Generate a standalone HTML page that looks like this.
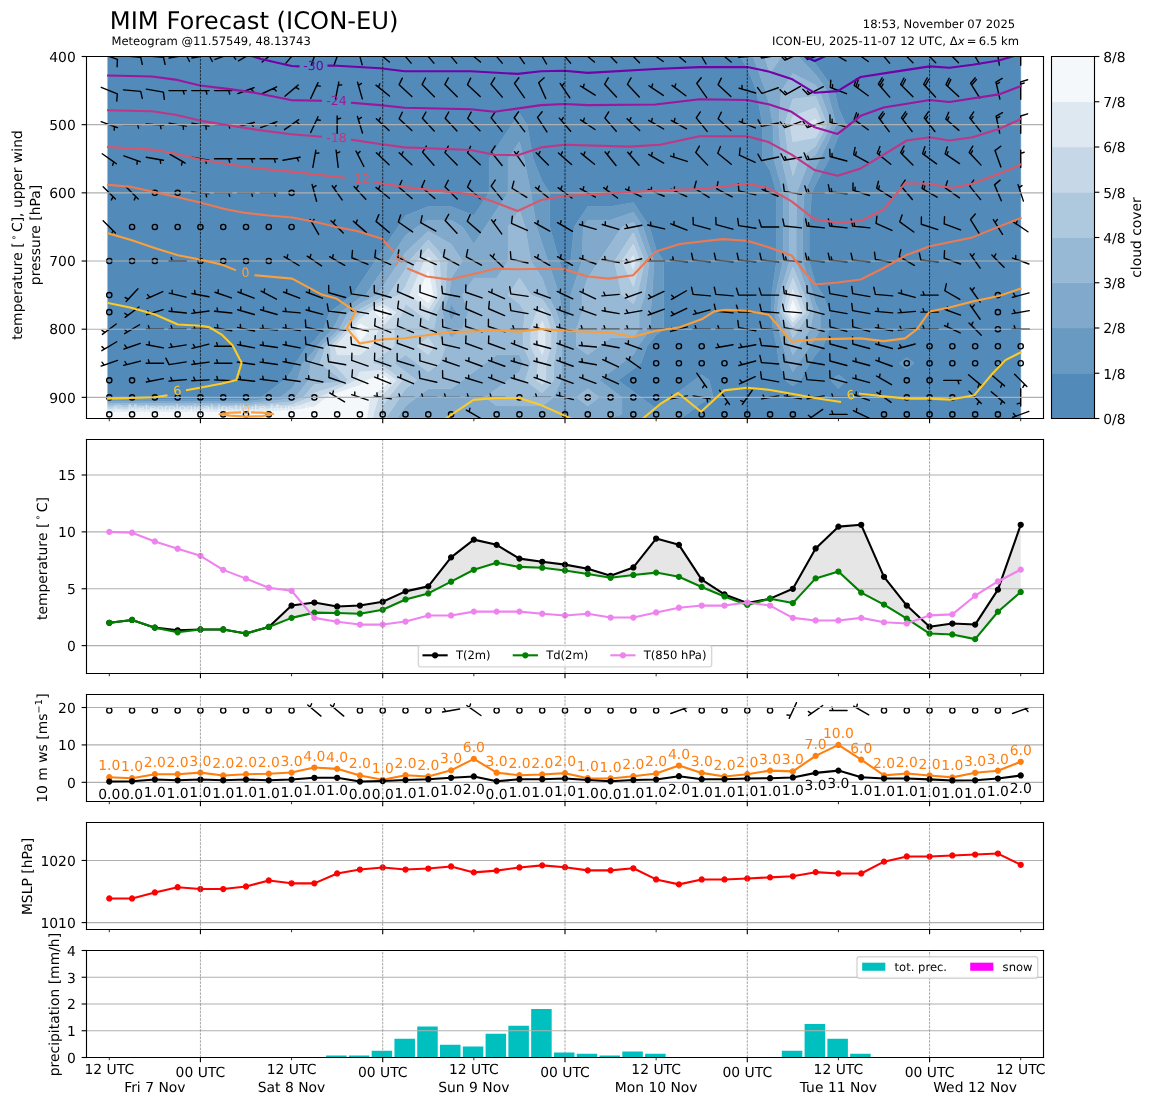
<!DOCTYPE html>
<html><head><meta charset="utf-8"><title>MIM Forecast (ICON-EU)</title><style>html,body{margin:0;padding:0;background:#fff;overflow:hidden}svg{display:block;text-rendering:geometricPrecision;-webkit-font-smoothing:antialiased;will-change:transform}</style></head><body>
<svg width="1155" height="1105" viewBox="0 0 831.6 795.6" version="1.1"><defs><style type="text/css">*{stroke-linejoin: round; stroke-linecap: butt}</style></defs><g id="figure_1"><g id="patch_1"><path d="M0 795.6L831.6 795.6L831.6 0L0 0z" style="fill: #ffffff"/></g><g id="axes_1"><g id="patch_2"><path d="M62.28 301.32L751.32 301.32L751.32 40.68L62.28 40.68z" style="fill: #ffffff"/></g><g id="QuadContourSet_1"><path d="M95.09 16.14L111.5 16.14L127.9 16.14L144.31 16.14L160.71 16.14L177.12 16.14L193.53 16.14L209.93 16.14L226.34 16.14L242.74 16.14L259.15 16.14L275.55 16.14L291.96 16.14L308.37 16.14L324.77 16.14L341.18 16.14L357.58 16.14L373.99 16.14L390.39 16.14L406.8 16.14L423.21 16.14L439.61 16.14L456.02 16.14L472.42 16.14L488.83 16.14L505.23 16.14L521.64 16.14L528.2 16.14L532.58 40.68L538.05 48.86L544.61 65.22L548.98 89.76L548.98 114.31L554.45 122.49L559.14 138.85L559.14 163.39L559.14 187.93L555.56 212.48L555.31 224.75L556.5 237.02L559.14 249.29L561.01 261.56L565.39 273.83L570.86 277.92L576.33 273.83L583.16 261.56L587.26 255.43L592.73 249.29L597.11 237.02L597.11 224.75L592.73 212.48L587.26 204.3L582.58 187.93L582.58 163.39L584.53 138.85L587.26 132.71L597.11 114.31L603.67 97.95L609.14 89.76L603.67 77.49L600.93 65.22L587.26 46.05L582.04 40.68L582.58 16.14L587.26 16.14L603.67 16.14L620.07 16.14L636.48 16.14L652.89 16.14L669.29 16.14L685.7 16.14L702.1 16.14L718.51 16.14L734.91 16.14L734.91 40.68L734.91 65.22L734.91 89.76L734.91 114.31L734.91 138.85L734.91 163.39L734.91 187.93L734.91 212.48L734.91 224.75L734.91 237.02L734.91 249.29L734.91 261.56L734.91 273.83L734.91 286.1L734.91 298.37L734.91 310.65L718.51 310.65L702.1 310.65L685.7 310.65L669.29 310.65L652.89 310.65L636.48 310.65L620.07 310.65L603.67 310.65L587.26 310.65L570.86 310.65L554.45 310.65L538.05 310.65L521.64 310.65L505.23 310.65L488.83 310.65L472.42 310.65L456.02 310.65L439.61 310.65L423.21 310.65L406.8 310.65L390.39 310.65L373.99 310.65L357.58 310.65L341.18 310.65L324.77 310.65L308.37 310.65L291.96 310.65L287.27 310.65L291.96 305.74L308.37 305.74L324.77 305.74L341.18 305.74L357.58 305.74L373.99 305.74L390.39 305.74L406.8 305.74L423.21 305.74L439.61 305.74L456.02 302.47L472.42 302.47L488.83 302.47L494.3 298.37L505.23 290.19L513.44 286.1L510.7 273.83L505.23 269.74L499.77 273.83L488.83 282.01L483.36 286.1L472.42 294.28L461.49 286.1L456.02 282.01L445.08 273.83L456.02 265.65L461.49 261.56L465.86 249.29L472.42 241.11L477.89 237.02L477.89 224.75L477.89 212.48L477.89 187.93L472.42 179.75L467.74 163.39L456.02 145.86L439.61 148.67L423.21 148.67L413.36 163.39L410.9 187.93L406.8 200.21L402.7 187.93L395.86 163.39L395.86 138.85L390.39 130.67L383.83 114.31L379.46 89.76L373.99 81.58L368.52 89.76L357.58 106.13L352.11 114.31L352.11 138.85L341.18 155.21L324.77 148.67L308.37 148.67L291.96 155.21L286.49 163.39L275.55 179.75L270.09 187.93L259.15 204.3L253.68 212.48L242.74 220.66L237.27 224.75L232.9 237.02L226.34 245.2L220.87 249.29L212.67 261.56L209.93 267.7L204.46 273.83L193.53 282.01L188.06 286.1L177.12 287.6L160.71 287.6L144.31 287.6L127.9 287.6L111.5 287.6L95.09 287.6L77.59 287.6L77.59 286.1L77.59 273.83L77.59 261.56L77.59 249.29L77.59 237.02L77.59 224.75L77.59 212.48L77.59 187.93L77.59 163.39L77.59 138.85L77.59 114.31L77.59 89.76L77.59 65.22L77.59 40.68L77.59 16.14z M647.42 261.56L652.89 265.65L658.35 261.56L652.89 257.47z M598.2 273.83L603.67 279.97L609.14 273.83L603.67 269.74z" clip-path="url(#p9851077e19)" style="fill: #528ab9; stroke: #528ab9; stroke-width: 0.4"/><path d="M538.05 28.41L542.15 40.68L551.17 65.22L554.45 77.49L556.5 89.76L557.19 114.31L563.83 138.85L563.83 163.39L563.83 187.93L558.34 212.48L557.47 224.75L560.6 237.02L563.83 249.29L567.58 261.56L570.86 267.7L574.96 261.56L583.16 249.29L587.26 243.15L590.54 237.02L590.54 224.75L587.26 218.61L585.62 212.48L577.89 187.93L577.89 163.39L579.06 138.85L587.26 120.44L590.54 114.31L602.03 89.76L595.47 65.22L587.26 53.72L574.59 40.68L577.89 16.14L582.58 16.14L582.04 40.68L587.26 46.05L600.93 65.22L603.67 77.49L609.14 89.76L603.67 97.95L597.11 114.31L587.26 132.71L584.53 138.85L582.58 163.39L582.58 187.93L587.26 204.3L592.73 212.48L597.11 224.75L597.11 237.02L592.73 249.29L587.26 255.43L583.16 261.56L576.33 273.83L570.86 277.92L565.39 273.83L561.01 261.56L559.14 249.29L556.5 237.02L555.31 224.75L555.56 212.48L559.14 187.93L559.14 163.39L559.14 138.85L554.45 122.49L548.98 114.31L548.98 89.76L544.61 65.22L538.05 48.86L532.58 40.68L528.2 16.14L534.76 16.14z M373.99 81.58L379.46 89.76L383.83 114.31L390.39 130.67L395.86 138.85L395.86 163.39L402.7 187.93L406.8 200.21L410.9 187.93L413.36 163.39L423.21 148.67L439.61 148.67L456.02 145.86L467.74 163.39L472.42 179.75L477.89 187.93L477.89 212.48L477.89 224.75L477.89 237.02L472.42 241.11L465.86 249.29L461.49 261.56L456.02 265.65L445.08 273.83L456.02 282.01L461.49 286.1L472.42 294.28L483.36 286.1L488.83 282.01L499.77 273.83L505.23 269.74L510.7 273.83L513.44 286.1L505.23 290.19L494.3 298.37L488.83 302.47L472.42 302.47L456.02 302.47L439.61 305.74L423.21 305.74L406.8 305.74L390.39 305.74L373.99 305.74L357.58 305.74L341.18 305.74L324.77 305.74L308.37 305.74L291.96 305.74L287.27 310.65L282.59 310.65L291.96 300.83L308.37 300.83L324.77 300.83L341.18 300.83L357.58 300.83L373.99 300.83L390.39 300.83L406.8 300.83L423.21 300.83L439.61 300.83L447.81 298.37L447.81 286.1L439.61 279.97L431.41 273.83L439.61 267.7L447.81 261.56L456.02 255.43L459.3 249.29L468.32 237.02L468.32 224.75L469.69 212.48L470.78 187.93L463.05 163.39L456.02 152.87L439.61 158.48L423.21 158.48L419.92 163.39L419.1 187.93L410.9 212.48L410.9 224.75L406.8 230.88L404.75 224.75L402.7 212.48L394.5 187.93L390.39 175.66L386.29 163.39L382.19 138.85L377.27 114.31L373.99 102.04L365.79 114.31L365.79 138.85L357.58 151.12L349.38 163.39L341.18 175.66L332.97 163.39L324.77 158.48L308.37 158.48L300.16 163.39L291.96 169.53L279.66 187.93L275.55 194.07L263.25 212.48L259.15 214.52L245.48 224.75L242.74 230.88L239.46 237.02L227.98 249.29L226.34 252.36L218.13 261.56L214.03 273.83L209.93 279.97L201.73 286.1L193.53 287.02L177.12 289.1L160.71 289.1L144.31 289.1L127.9 289.1L111.5 289.1L95.09 289.1L77.59 289.1L77.59 287.6L95.09 287.6L111.5 287.6L127.9 287.6L144.31 287.6L160.71 287.6L177.12 287.6L188.06 286.1L193.53 282.01L204.46 273.83L209.93 267.7L212.67 261.56L220.87 249.29L226.34 245.2L232.9 237.02L237.27 224.75L242.74 220.66L253.68 212.48L259.15 204.3L270.09 187.93L275.55 179.75L286.49 163.39L291.96 155.21L308.37 148.67L324.77 148.67L341.18 155.21L352.11 138.85L352.11 114.31L357.58 106.13L368.52 89.76z M324.77 218.61L328.87 224.75L324.77 230.88L322.72 224.75z M652.89 257.47L658.35 261.56L652.89 265.65L647.42 261.56z M603.67 269.74L609.14 273.83L603.67 279.97L598.2 273.83z" clip-path="url(#p9851077e19)" style="fill: #699ac2; stroke: #699ac2; stroke-width: 0.4"/><path d="M538.05 16.14L542.15 16.14L550.35 40.68L554.45 52.95L562.65 40.68L570.86 28.41L573.2 16.14L577.89 16.14L574.59 40.68L587.26 53.72L595.47 65.22L602.03 89.76L590.54 114.31L587.26 120.44L579.06 138.85L577.89 163.39L577.89 187.93L585.62 212.48L587.26 218.61L590.54 224.75L590.54 237.02L587.26 243.15L583.16 249.29L574.96 261.56L570.86 267.7L567.58 261.56L563.83 249.29L560.6 237.02L557.47 224.75L558.34 212.48L563.83 187.93L563.83 163.39L563.83 138.85L557.19 114.31L556.5 89.76L554.45 77.49L551.17 65.22L542.15 40.68L538.05 28.41L534.76 16.14z M562.65 65.22L560.6 89.76L562.65 114.31L568.51 138.85L568.51 163.39L568.51 187.93L561.12 212.48L559.63 224.75L564.71 237.02L568.51 249.29L570.86 255.43L574.96 249.29L583.16 237.02L585.82 224.75L582.34 212.48L573.2 187.93L573.2 163.39L573.59 138.85L583.16 114.31L587.26 111.24L598.75 89.76L590 65.22L587.26 61.39L570.86 52.95z M373.99 102.04L377.27 114.31L382.19 138.85L386.29 163.39L390.39 175.66L394.5 187.93L402.7 212.48L404.75 224.75L406.8 230.88L410.9 224.75L410.9 212.48L419.1 187.93L419.92 163.39L423.21 158.48L439.61 158.48L456.02 152.87L463.05 163.39L470.78 187.93L469.69 212.48L468.32 224.75L468.32 237.02L459.3 249.29L456.02 255.43L447.81 261.56L439.61 267.7L431.41 273.83L439.61 279.97L447.81 286.1L447.81 298.37L439.61 300.83L423.21 300.83L406.8 300.83L390.39 300.83L373.99 300.83L357.58 300.83L341.18 300.83L324.77 300.83L308.37 300.83L291.96 300.83L282.59 310.65L277.9 310.65L287.86 298.37L291.96 292.24L300.16 286.1L308.37 279.97L324.77 279.97L332.97 273.83L341.18 267.7L349.38 261.56L357.58 255.43L373.99 255.43L376.72 261.56L373.99 267.7L365.79 273.83L357.58 279.97L349.38 286.1L357.58 292.24L373.99 292.24L390.39 292.24L398.6 286.1L404.07 273.83L404.07 261.56L404.75 249.29L404.75 237.02L400.65 224.75L394.5 212.48L390.39 200.21L382.19 187.93L378.09 163.39L373.99 151.12L365.79 163.39L365.79 187.93L357.58 200.21L341.18 200.21L332.97 212.48L337.08 224.75L332.97 237.02L324.77 243.15L320.67 237.02L318.62 224.75L323.33 212.48L324.77 200.21L332.97 187.93L324.77 175.66L308.37 166.46L291.96 181.8L287.86 187.93L275.55 206.34L271.45 212.48L259.15 218.61L250.95 224.75L244.18 237.02L242.74 238.55L231.26 249.29L226.34 258.49L223.6 261.56L222.24 273.83L212.67 286.1L209.93 287.18L193.53 288.85L177.12 290.59L160.71 290.59L144.31 290.59L127.9 290.59L111.5 290.59L95.09 290.59L77.59 290.59L77.59 289.1L95.09 289.1L111.5 289.1L127.9 289.1L144.31 289.1L160.71 289.1L177.12 289.1L193.53 287.02L201.73 286.1L209.93 279.97L214.03 273.83L218.13 261.56L226.34 252.36L227.98 249.29L239.46 237.02L242.74 230.88L245.48 224.75L259.15 214.52L263.25 212.48L275.55 194.07L279.66 187.93L291.96 169.53L300.16 163.39L308.37 158.48L324.77 158.48L332.97 163.39L341.18 175.66L349.38 163.39L357.58 151.12L365.79 138.85L365.79 114.31z M447.81 163.39L439.61 175.66L431.41 187.93L423.21 200.21L419.1 212.48L419.1 224.75L415 237.02L415 249.29L423.21 255.43L431.41 249.29L439.61 243.15L456.02 243.15L460.12 237.02L460.12 224.75L464.22 212.48L467.5 187.93L458.36 163.39L456.02 159.89z M322.72 224.75L324.77 230.88L328.87 224.75L324.77 218.61z M415 286.1L423.21 292.24L431.41 286.1L423.21 279.97z" clip-path="url(#p9851077e19)" style="fill: #80a9cc; stroke: #80a9cc; stroke-width: 0.4"/><path d="M554.45 28.41L562.65 16.14L570.86 16.14L573.2 16.14L570.86 28.41L562.65 40.68L554.45 52.95L550.35 40.68L542.15 16.14L550.35 16.14z M570.86 52.95L587.26 61.39L590 65.22L598.75 89.76L587.26 111.24L583.16 114.31L573.59 138.85L573.2 163.39L573.2 187.93L582.34 212.48L585.82 224.75L583.16 237.02L574.96 249.29L570.86 255.43L568.51 249.29L564.71 237.02L559.63 224.75L561.12 212.48L568.51 187.93L568.51 163.39L568.51 138.85L562.65 114.31L560.6 89.76L562.65 65.22z M564.71 89.76L568.12 114.31L570.86 126.58L574.96 114.31L587.26 105.1L595.47 89.76L587.26 69.31L570.86 71.36z M563.91 212.48L561.79 224.75L568.81 237.02L570.86 243.15L574.96 237.02L582.95 224.75L579.06 212.48L570.86 192.02z M373.99 151.12L378.09 163.39L382.19 187.93L390.39 200.21L394.5 212.48L400.65 224.75L404.75 237.02L404.75 249.29L404.07 261.56L404.07 273.83L398.6 286.1L390.39 292.24L373.99 292.24L357.58 292.24L349.38 286.1L357.58 279.97L365.79 273.83L373.99 267.7L376.72 261.56L373.99 255.43L357.58 255.43L349.38 261.56L341.18 267.7L332.97 273.83L324.77 279.97L308.37 279.97L300.16 286.1L291.96 292.24L287.86 298.37L277.9 310.65L275.55 310.65L273.81 310.65L275.55 304.51L279.66 298.37L287.86 286.1L291.96 279.97L300.16 273.83L291.96 267.7L283.76 261.56L291.96 255.43L300.16 261.56L308.37 267.7L316.57 261.56L320.67 249.29L312.47 237.02L314.52 224.75L320.45 212.48L322.04 187.93L308.37 172.6L294.69 187.93L291.96 194.07L279.66 212.48L275.55 213.78L259.15 222.7L256.41 224.75L247.06 237.02L242.74 241.62L234.54 249.29L230.44 261.56L242.74 270.76L245.48 273.83L242.74 275.14L226.34 276.9L218.13 286.1L209.93 289.33L193.53 290.68L177.12 292.09L160.71 292.09L144.31 292.09L127.9 292.09L111.5 292.09L95.09 292.09L77.59 292.09L77.59 290.59L95.09 290.59L111.5 290.59L127.9 290.59L144.31 290.59L160.71 290.59L177.12 290.59L193.53 288.85L209.93 287.18L212.67 286.1L222.24 273.83L223.6 261.56L226.34 258.49L231.26 249.29L242.74 238.55L244.18 237.02L250.95 224.75L259.15 218.61L271.45 212.48L275.55 206.34L287.86 187.93L291.96 181.8L308.37 166.46L324.77 175.66L332.97 187.93L324.77 200.21L323.33 212.48L318.62 224.75L320.67 237.02L324.77 243.15L332.97 237.02L337.08 224.75L332.97 212.48L341.18 200.21L357.58 200.21L365.79 187.93L365.79 163.39z M365.79 212.48L373.99 218.61L378.09 224.75L376.72 237.02L376.72 249.29L382.19 261.56L378.09 273.83L390.39 283.04L398.6 273.83L398.6 261.56L400.65 249.29L400.65 237.02L396.55 224.75L390.39 215.54L382.19 212.48L373.99 200.21z M456.02 159.89L458.36 163.39L467.5 187.93L464.22 212.48L460.12 224.75L460.12 237.02L456.02 243.15L439.61 243.15L431.41 249.29L423.21 255.43L415 249.29L415 237.02L419.1 224.75L419.1 212.48L423.21 200.21L431.41 187.93L439.61 175.66L447.81 163.39z M442.35 187.93L447.81 212.48L456.02 218.61L458.75 212.48L464.22 187.93L456.02 167.48z M423.21 279.97L431.41 286.1L423.21 292.24L415 286.1z" clip-path="url(#p9851077e19)" style="fill: #97b9d5; stroke: #97b9d5; stroke-width: 0.4"/><path d="M554.45 16.14L562.65 16.14L554.45 28.41L550.35 16.14z M570.86 71.36L587.26 69.31L595.47 89.76L587.26 105.1L574.96 114.31L570.86 126.58L568.12 114.31L564.71 89.76z M568.81 89.76L570.86 102.04L587.26 98.97L592.18 89.76L587.26 77.49L570.86 83.63z M308.37 172.6L322.04 187.93L320.45 212.48L314.52 224.75L312.47 237.02L320.67 249.29L316.57 261.56L308.37 267.7L300.16 261.56L291.96 255.43L283.76 261.56L291.96 267.7L300.16 273.83L291.96 279.97L287.86 286.1L279.66 298.37L275.55 304.51L273.81 310.65L270.32 310.65L273.34 298.37L275.55 292.24L279.66 286.1L289.74 273.83L275.55 263.22L267.35 261.56L275.55 255.43L283.76 249.29L283.76 237.02L289.74 224.75L291.96 218.61L300.16 224.75L308.37 230.88L310.42 224.75L317.58 212.48L316.57 187.93L308.37 178.73L300.16 187.93L291.96 206.34L287.86 212.48L275.55 216.39L261.37 224.75L259.15 226.41L249.94 237.02L242.74 244.69L237.82 249.29L238.64 261.56L242.74 264.63L250.95 273.83L242.74 277.75L226.34 283.04L223.6 286.1L209.93 291.49L193.53 292.51L177.12 293.59L160.71 293.59L144.31 293.59L127.9 293.59L111.5 293.59L95.09 293.59L77.59 293.59L77.59 292.09L95.09 292.09L111.5 292.09L127.9 292.09L144.31 292.09L160.71 292.09L177.12 292.09L193.53 290.68L209.93 289.33L218.13 286.1L226.34 276.9L242.74 275.14L245.48 273.83L242.74 270.76L230.44 261.56L234.54 249.29L242.74 241.62L247.06 237.02L256.41 224.75L259.15 222.7L275.55 213.78L279.66 212.48L291.96 194.07L294.69 187.93z M300.16 249.29L308.37 255.43L312.47 249.29L308.37 243.15z M456.02 167.48L464.22 187.93L458.75 212.48L456.02 218.61L447.81 212.48L442.35 187.93z M447.81 187.93L456.02 206.34L460.94 187.93L456.02 175.66z M373.99 200.21L382.19 212.48L390.39 215.54L396.55 224.75L400.65 237.02L400.65 249.29L398.6 261.56L398.6 273.83L390.39 283.04L378.09 273.83L382.19 261.56L376.72 249.29L376.72 237.02L378.09 224.75L373.99 218.61L365.79 212.48z M386.29 224.75L382.19 237.02L382.19 249.29L387.66 261.56L386.29 273.83L390.39 276.9L393.13 273.83L393.13 261.56L396.55 249.29L396.55 237.02L392.44 224.75L390.39 221.68z M570.86 192.02L579.06 212.48L582.95 224.75L574.96 237.02L570.86 243.15L568.81 237.02L561.79 224.75L563.91 212.48z M566.69 212.48L563.95 224.75L570.86 235.36L580.07 224.75L575.78 212.48L570.86 200.21z" clip-path="url(#p9851077e19)" style="fill: #aec9de; stroke: #aec9de; stroke-width: 0.4"/><path d="M570.86 83.63L587.26 77.49L592.18 89.76L587.26 98.97L570.86 102.04L568.81 89.76z M579.06 89.76L587.26 92.83L588.9 89.76L587.26 85.67z M308.37 178.73L316.57 187.93L317.58 212.48L310.42 224.75L308.37 230.88L300.16 224.75L291.96 218.61L289.74 224.75L283.76 237.02L283.76 249.29L275.55 255.43L267.35 261.56L275.55 263.22L289.74 273.83L279.66 286.1L275.55 292.24L273.34 298.37L270.32 310.65L266.83 310.65L268.9 298.37L272.52 286.1L275.55 283.83L285.31 273.83L275.55 266.54L259.15 267.7L256.41 273.83L242.74 280.36L229.38 286.1L226.34 288.38L209.93 293.64L193.53 294.35L177.12 295.08L160.71 295.08L144.31 295.08L127.9 295.08L111.5 295.08L95.09 295.08L77.59 295.08L77.59 293.59L95.09 293.59L111.5 293.59L127.9 293.59L144.31 293.59L160.71 293.59L177.12 293.59L193.53 292.51L209.93 291.49L223.6 286.1L226.34 283.04L242.74 277.75L250.95 273.83L242.74 264.63L238.64 261.56L237.82 249.29L242.74 244.69L249.94 237.02L259.15 226.41L261.37 224.75L275.55 216.39L287.86 212.48L291.96 206.34L300.16 187.93z M305.63 187.93L295 212.48L308.37 222.48L314.7 212.48L311.1 187.93L308.37 184.87z M265.8 224.75L259.15 229.72L252.82 237.02L242.74 247.76L241.1 249.29L242.74 255.43L259.15 255.43L267.35 249.29L272.52 237.02L275.55 234.75L285.31 224.75L275.55 219z M456.02 175.66L460.94 187.93L456.02 206.34L447.81 187.93z M453.28 187.93L456.02 194.07L457.66 187.93L456.02 183.84z M570.86 200.21L575.78 212.48L580.07 224.75L570.86 235.36L563.95 224.75L566.69 212.48z M569.47 212.48L566.11 224.75L570.86 232.04L577.19 224.75L572.5 212.48L570.86 208.39z M390.39 221.68L392.44 224.75L396.55 237.02L396.55 249.29L393.13 261.56L393.13 273.83L390.39 276.9L386.29 273.83L387.66 261.56L382.19 249.29L382.19 237.02L386.29 224.75z M387.66 237.02L387.66 249.29L390.39 255.43L392.44 249.29L392.44 237.02L390.39 230.88z M308.37 243.15L312.47 249.29L308.37 255.43L300.16 249.29z" clip-path="url(#p9851077e19)" style="fill: #c6d8e8; stroke: #c6d8e8; stroke-width: 0.4"/><path d="M587.26 85.67L588.9 89.76L587.26 92.83L579.06 89.76z M308.37 184.87L311.1 187.93L314.7 212.48L308.37 222.48L295 212.48L305.63 187.93z M301.07 212.48L308.37 217.93L311.82 212.48L308.37 195.15z M456.02 183.84L457.66 187.93L456.02 194.07L453.28 187.93z M570.86 208.39L572.5 212.48L577.19 224.75L570.86 232.04L566.11 224.75L569.47 212.48z M568.27 224.75L570.86 228.73L574.31 224.75L570.86 216.09z M275.55 219L285.31 224.75L275.55 234.75L272.52 237.02L267.35 249.29L259.15 255.43L242.74 255.43L241.1 249.29L242.74 247.76L252.82 237.02L259.15 229.72L265.8 224.75z M270.23 224.75L275.55 230.2L280.88 224.75L275.55 221.61z M255.69 237.02L259.15 245.68L266.44 237.02L259.15 233.04z M390.39 230.88L392.44 237.02L392.44 249.29L390.39 255.43L387.66 249.29L387.66 237.02z M259.15 267.7L275.55 266.54L285.31 273.83L275.55 283.83L272.52 286.1L268.9 298.37L266.83 310.65L263.34 310.65L264.47 298.37L266.44 286.1L275.55 279.29L280.88 273.83L275.55 269.85L263.97 273.83L259.15 277.44L242.74 282.97L235.45 286.1L226.34 292.92L209.93 295.79L193.53 296.18L177.12 296.58L160.71 296.58L144.31 296.58L127.9 296.58L111.5 296.58L95.09 296.58L77.59 296.58L77.59 295.08L95.09 295.08L111.5 295.08L127.9 295.08L144.31 295.08L160.71 295.08L177.12 295.08L193.53 294.35L209.93 293.64L226.34 288.38L229.38 286.1L242.74 280.36L256.41 273.83z" clip-path="url(#p9851077e19)" style="fill: #dde8f1; stroke: #dde8f1; stroke-width: 0.4"/><path d="M308.37 195.15L311.82 212.48L308.37 217.93L301.07 212.48z M275.55 221.61L280.88 224.75L275.55 230.2L270.23 224.75z M570.86 216.09L574.31 224.75L570.86 228.73L568.27 224.75z M259.15 233.04L266.44 237.02L259.15 245.68L255.69 237.02z M275.55 269.85L280.88 273.83L275.55 279.29L266.44 286.1L264.47 298.37L263.34 310.65L259.15 310.65L242.74 310.65L226.34 310.65L209.93 310.65L193.53 310.65L177.12 310.65L160.71 310.65L144.31 310.65L127.9 310.65L111.5 310.65L95.09 310.65L77.59 310.65L77.59 298.37L77.59 296.58L95.09 296.58L111.5 296.58L127.9 296.58L144.31 296.58L160.71 296.58L177.12 296.58L193.53 296.18L209.93 295.79L226.34 292.92L235.45 286.1L242.74 282.97L259.15 277.44L263.97 273.83z" clip-path="url(#p9851077e19)" style="fill: #f4f8fb; stroke: #f4f8fb; stroke-width: 0.4"/></g><g id="QuadContourSet_2"><path d="M1177.87 40.68L1177.87 41.17L1172.4 41.17L1172.4 40.68z" clip-path="url(#p9851077e19)" style="fill: #528ab9"/><path clip-path="url(#p9851077e19)" style="fill: #699ac2"/><path clip-path="url(#p9851077e19)" style="fill: #80a9cc"/><path clip-path="url(#p9851077e19)" style="fill: #97b9d5"/><path clip-path="url(#p9851077e19)" style="fill: #aec9de"/><path clip-path="url(#p9851077e19)" style="fill: #c6d8e8"/><path clip-path="url(#p9851077e19)" style="fill: #dde8f1"/><path clip-path="url(#p9851077e19)" style="fill: #f4f8fb"/></g><g id="Barbs_1"><circle cx="78.69" cy="16.14" r="1.88" fill="none" clip-path="url(#p9851077e19)" style="stroke: #000000"/><path d="M72.81 38.54L84.56 42.82L84.32 48.05L84.56 42.82z" clip-path="url(#p9851077e19)" style="stroke: #000000"/><path d="M72.89 62.88L84.48 67.56L84.06 72.78L84.48 67.56z" clip-path="url(#p9851077e19)" style="stroke: #000000"/><path d="M72.81 87.63L84.56 91.9L82.36 91.1L82.24 93.72L82.36 91.1z" clip-path="url(#p9851077e19)" style="stroke: #000000"/><path d="M73.57 110.72L83.81 117.89L81.89 116.55L81.09 119.04L81.89 116.55z" clip-path="url(#p9851077e19)" style="stroke: #000000"/><path d="M74.27 134.43L83.11 143.27L81.45 141.61L80.23 143.93L81.45 141.61z" clip-path="url(#p9851077e19)" style="stroke: #000000"/><path d="M74.27 158.97L83.11 167.81L81.45 166.15L80.23 168.47L81.45 166.15z" clip-path="url(#p9851077e19)" style="stroke: #000000"/><circle cx="78.69" cy="187.94" r="1.88" fill="none" clip-path="url(#p9851077e19)" style="stroke: #000000"/><circle cx="78.69" cy="212.47" r="1.88" fill="none" clip-path="url(#p9851077e19)" style="stroke: #000000"/><circle cx="78.69" cy="224.75" r="1.88" fill="none" clip-path="url(#p9851077e19)" style="stroke: #000000"/><path d="M83.68 233.26L73.69 240.78L75.57 239.37L73.44 237.84L75.57 239.37z" clip-path="url(#p9851077e19)" style="stroke: #000000"/><path d="M84.04 246.07L73.33 252.51L75.34 251.3L73.38 249.56L75.34 251.3z" clip-path="url(#p9851077e19)" style="stroke: #000000"/><path d="M84.6 259.53L72.78 263.6L74.99 262.83L73.44 260.72L74.99 262.83z" clip-path="url(#p9851077e19)" style="stroke: #000000"/><circle cx="78.69" cy="273.83" r="1.88" fill="none" clip-path="url(#p9851077e19)" style="stroke: #000000"/><circle cx="78.69" cy="286.11" r="1.88" fill="none" clip-path="url(#p9851077e19)" style="stroke: #000000"/><circle cx="78.69" cy="298.38" r="1.88" fill="none" clip-path="url(#p9851077e19)" style="stroke: #000000"/><circle cx="78.69" cy="310.64" r="1.88" fill="none" clip-path="url(#p9851077e19)" style="stroke: #000000"/><circle cx="95.09" cy="16.14" r="1.88" fill="none" clip-path="url(#p9851077e19)" style="stroke: #000000"/><path d="M88.87 40.14L101.32 41.22L102.44 46.34L101.32 41.22z" clip-path="url(#p9851077e19)" style="stroke: #000000"/><path d="M88.87 64.68L101.32 65.77L102.44 70.88L101.32 65.77z" clip-path="url(#p9851077e19)" style="stroke: #000000"/><path d="M88.84 89.76L101.34 89.76L99 89.76L99.78 92.26L99 89.76z" clip-path="url(#p9851077e19)" style="stroke: #000000"/><path d="M89.22 112.17L100.96 116.44L98.76 115.64L98.64 118.26L98.76 115.64z" clip-path="url(#p9851077e19)" style="stroke: #000000"/><path d="M90.67 134.43L99.51 143.27L97.85 141.61L96.64 143.93L97.85 141.61z" clip-path="url(#p9851077e19)" style="stroke: #000000"/><circle cx="95.09" cy="163.40" r="1.88" fill="none" clip-path="url(#p9851077e19)" style="stroke: #000000"/><circle cx="95.09" cy="187.94" r="1.88" fill="none" clip-path="url(#p9851077e19)" style="stroke: #000000"/><path d="M99.35 207.91L90.83 217.05L92.43 215.33L90.07 214.2L92.43 215.33z" clip-path="url(#p9851077e19)" style="stroke: #000000"/><path d="M100.08 220.99L90.1 228.51L91.97 227.1L89.84 225.57L91.97 227.1z" clip-path="url(#p9851077e19)" style="stroke: #000000"/><path d="M100.45 233.8L89.73 240.24L91.74 239.03L89.79 237.29L91.74 239.03z" clip-path="url(#p9851077e19)" style="stroke: #000000"/><path d="M101 247.26L89.18 251.32L91.4 250.56L89.85 248.45L91.4 250.56z" clip-path="url(#p9851077e19)" style="stroke: #000000"/><path d="M101.16 260.05L89.03 263.07L91.3 262.51L89.94 260.27L91.3 262.51z" clip-path="url(#p9851077e19)" style="stroke: #000000"/><circle cx="95.09" cy="273.83" r="1.88" fill="none" clip-path="url(#p9851077e19)" style="stroke: #000000"/><circle cx="95.09" cy="286.11" r="1.88" fill="none" clip-path="url(#p9851077e19)" style="stroke: #000000"/><circle cx="95.09" cy="298.38" r="1.88" fill="none" clip-path="url(#p9851077e19)" style="stroke: #000000"/><circle cx="95.09" cy="310.64" r="1.88" fill="none" clip-path="url(#p9851077e19)" style="stroke: #000000"/><circle cx="111.50" cy="16.14" r="1.88" fill="none" clip-path="url(#p9851077e19)" style="stroke: #000000"/><path d="M105.27 40.14L117.72 41.22L118.84 46.34L117.72 41.22z" clip-path="url(#p9851077e19)" style="stroke: #000000"/><path d="M105.34 64.14L117.65 66.31L118.32 71.5L117.65 66.31z" clip-path="url(#p9851077e19)" style="stroke: #000000"/><path d="M105.27 89.22L117.72 90.31L115.39 90.11L115.95 92.66L115.39 90.11z" clip-path="url(#p9851077e19)" style="stroke: #000000"/><path d="M105.34 113.22L117.65 115.39L115.34 114.99L115.68 117.58L115.34 114.99z" clip-path="url(#p9851077e19)" style="stroke: #000000"/><circle cx="111.50" cy="138.84" r="1.88" fill="none" clip-path="url(#p9851077e19)" style="stroke: #000000"/><circle cx="111.50" cy="163.40" r="1.88" fill="none" clip-path="url(#p9851077e19)" style="stroke: #000000"/><circle cx="111.50" cy="187.94" r="1.88" fill="none" clip-path="url(#p9851077e19)" style="stroke: #000000"/><path d="M117.21 209.93L105.79 215.02L107.93 214.07L106.2 212.1L107.93 214.07z" clip-path="url(#p9851077e19)" style="stroke: #000000"/><path d="M117.47 222.92L105.52 226.58L107.76 225.89L106.28 223.73L107.76 225.89z" clip-path="url(#p9851077e19)" style="stroke: #000000"/><path d="M117.75 237.02L105.25 237.02L107.59 237.02L106.81 234.52L107.59 237.02z" clip-path="url(#p9851077e19)" style="stroke: #000000"/><path d="M117.63 250.48L105.36 248.1L107.66 248.54L107.37 245.94L107.66 248.54z" clip-path="url(#p9851077e19)" style="stroke: #000000"/><path d="M117.75 261.56L105.25 261.56L107.59 261.56L106.81 259.06L107.59 261.56z" clip-path="url(#p9851077e19)" style="stroke: #000000"/><path d="M117.63 272.64L105.36 275.03L107.66 274.58L106.42 272.27L107.66 274.58z" clip-path="url(#p9851077e19)" style="stroke: #000000"/><circle cx="111.50" cy="286.11" r="1.88" fill="none" clip-path="url(#p9851077e19)" style="stroke: #000000"/><circle cx="111.50" cy="298.38" r="1.88" fill="none" clip-path="url(#p9851077e19)" style="stroke: #000000"/><circle cx="111.50" cy="310.64" r="1.88" fill="none" clip-path="url(#p9851077e19)" style="stroke: #000000"/><circle cx="127.91" cy="16.14" r="1.88" fill="none" clip-path="url(#p9851077e19)" style="stroke: #000000"/><path d="M121.75 41.77L134.06 39.59L136.46 44.25L134.06 39.59z" clip-path="url(#p9851077e19)" style="stroke: #000000"/><path d="M121.65 65.22L134.15 65.22L131.81 65.22L132.59 67.72L131.81 65.22z" clip-path="url(#p9851077e19)" style="stroke: #000000"/><path d="M121.75 88.68L134.06 90.85L131.75 90.44L132.09 93.04L131.75 90.44z" clip-path="url(#p9851077e19)" style="stroke: #000000"/><path d="M122.49 111.18L133.32 117.43L131.29 116.26L130.71 118.82L131.29 116.26z" clip-path="url(#p9851077e19)" style="stroke: #000000"/><circle cx="127.91" cy="138.84" r="1.88" fill="none" clip-path="url(#p9851077e19)" style="stroke: #000000"/><circle cx="127.91" cy="163.40" r="1.88" fill="none" clip-path="url(#p9851077e19)" style="stroke: #000000"/><path d="M134.15 187.93L121.65 187.93L124 187.93L123.22 185.43L124 187.93z" clip-path="url(#p9851077e19)" style="stroke: #000000"/><path d="M133.99 213.88L121.81 211.07L124.1 211.6L123.9 208.99L124.1 211.6z" clip-path="url(#p9851077e19)" style="stroke: #000000"/><path d="M134.12 225.4L121.69 224.09L124.02 224.34L123.5 221.77L124.02 224.34z" clip-path="url(#p9851077e19)" style="stroke: #000000"/><path d="M134.15 237.02L121.65 237.02L124 237.02L123.22 234.52L124 237.02z" clip-path="url(#p9851077e19)" style="stroke: #000000"/><path d="M134.08 248.31L121.73 250.27L124.04 249.9L122.88 247.55L124.04 249.9z" clip-path="url(#p9851077e19)" style="stroke: #000000"/><path d="M134.08 260.58L121.73 262.54L119.4 257.85L121.73 262.54z" clip-path="url(#p9851077e19)" style="stroke: #000000"/><path d="M134.13 273.29L121.68 274.38L124.01 274.17L123.02 271.75L124.01 274.17z" clip-path="url(#p9851077e19)" style="stroke: #000000"/><circle cx="127.91" cy="286.11" r="1.88" fill="none" clip-path="url(#p9851077e19)" style="stroke: #000000"/><circle cx="127.91" cy="298.38" r="1.88" fill="none" clip-path="url(#p9851077e19)" style="stroke: #000000"/><circle cx="127.91" cy="310.64" r="1.88" fill="none" clip-path="url(#p9851077e19)" style="stroke: #000000"/><circle cx="144.31" cy="16.14" r="1.88" fill="none" clip-path="url(#p9851077e19)" style="stroke: #000000"/><path d="M138.15 41.77L150.46 39.59L152.87 44.25L150.46 39.59z" clip-path="url(#p9851077e19)" style="stroke: #000000"/><path d="M138.06 65.22L150.56 65.22L148.21 65.22L149 67.72L148.21 65.22z" clip-path="url(#p9851077e19)" style="stroke: #000000"/><path d="M138.15 88.68L150.46 90.85L148.16 90.44L148.49 93.04L148.16 90.44z" clip-path="url(#p9851077e19)" style="stroke: #000000"/><path d="M138.15 113.22L150.46 115.39L148.16 114.99L148.49 117.58L148.16 114.99z" clip-path="url(#p9851077e19)" style="stroke: #000000"/><path d="M138.08 138.3L150.53 139.39L148.2 139.19L148.76 141.75L148.2 139.19z" clip-path="url(#p9851077e19)" style="stroke: #000000"/><circle cx="144.31" cy="163.40" r="1.88" fill="none" clip-path="url(#p9851077e19)" style="stroke: #000000"/><circle cx="144.31" cy="187.94" r="1.88" fill="none" clip-path="url(#p9851077e19)" style="stroke: #000000"/><path d="M150.44 213.67L138.17 211.28L140.47 211.73L140.18 209.13L140.47 211.73z" clip-path="url(#p9851077e19)" style="stroke: #000000"/><path d="M150.5 223.88L138.12 225.62L140.44 225.29L139.32 222.92L140.44 225.29z" clip-path="url(#p9851077e19)" style="stroke: #000000"/><path d="M150.56 237.02L138.06 237.02L140.4 237.02L139.62 234.52L140.4 237.02z" clip-path="url(#p9851077e19)" style="stroke: #000000"/><path d="M150.37 247.78L138.24 250.8L140.52 250.24L139.16 248L140.52 250.24z" clip-path="url(#p9851077e19)" style="stroke: #000000"/><path d="M150.5 260.69L138.12 262.43L140.44 262.11L139.32 259.74L140.44 262.11z" clip-path="url(#p9851077e19)" style="stroke: #000000"/><path d="M150.55 273.51L138.07 274.16L140.41 274.04L139.5 271.58L140.41 274.04z" clip-path="url(#p9851077e19)" style="stroke: #000000"/><circle cx="144.31" cy="286.11" r="1.88" fill="none" clip-path="url(#p9851077e19)" style="stroke: #000000"/><circle cx="144.31" cy="298.38" r="1.88" fill="none" clip-path="url(#p9851077e19)" style="stroke: #000000"/><circle cx="144.31" cy="310.64" r="1.88" fill="none" clip-path="url(#p9851077e19)" style="stroke: #000000"/><circle cx="160.72" cy="16.14" r="1.88" fill="none" clip-path="url(#p9851077e19)" style="stroke: #000000"/><path d="M154.84 42.82L166.59 38.54L169.77 42.71L166.59 38.54z" clip-path="url(#p9851077e19)" style="stroke: #000000"/><path d="M154.46 65.22L166.96 65.22L164.62 65.22L165.4 67.72L164.62 65.22z" clip-path="url(#p9851077e19)" style="stroke: #000000"/><path d="M154.46 89.76L166.96 89.76L164.62 89.76L165.4 92.26L164.62 89.76z" clip-path="url(#p9851077e19)" style="stroke: #000000"/><path d="M154.46 114.31L166.96 114.31L164.62 114.31L165.4 116.81L164.62 114.31z" clip-path="url(#p9851077e19)" style="stroke: #000000"/><path d="M154.46 138.85L166.96 138.85L164.62 138.85L165.4 141.35L164.62 138.85z" clip-path="url(#p9851077e19)" style="stroke: #000000"/><circle cx="160.72" cy="163.40" r="1.88" fill="none" clip-path="url(#p9851077e19)" style="stroke: #000000"/><circle cx="160.72" cy="187.94" r="1.88" fill="none" clip-path="url(#p9851077e19)" style="stroke: #000000"/><path d="M166.62 214.51L154.8 210.44L157.02 211.2L157.1 208.59L157.02 211.2z" clip-path="url(#p9851077e19)" style="stroke: #000000"/><path d="M166.93 225.4L154.5 224.09L156.83 224.34L156.31 221.77L156.83 224.34z" clip-path="url(#p9851077e19)" style="stroke: #000000"/><path d="M166.87 238.1L154.56 235.93L156.87 236.34L156.53 233.74L156.87 236.34z" clip-path="url(#p9851077e19)" style="stroke: #000000"/><path d="M166.96 249.29L154.46 249.29L156.81 249.29L156.03 246.79L156.81 249.29z" clip-path="url(#p9851077e19)" style="stroke: #000000"/><path d="M166.96 261.56L154.46 261.56L156.81 261.56L156.03 259.06L156.81 261.56z" clip-path="url(#p9851077e19)" style="stroke: #000000"/><path d="M166.96 274.16L154.47 273.51L156.81 273.63L156.16 271.09L156.81 273.63z" clip-path="url(#p9851077e19)" style="stroke: #000000"/><circle cx="160.72" cy="286.11" r="1.88" fill="none" clip-path="url(#p9851077e19)" style="stroke: #000000"/><circle cx="160.72" cy="298.38" r="1.88" fill="none" clip-path="url(#p9851077e19)" style="stroke: #000000"/><circle cx="160.72" cy="310.64" r="1.88" fill="none" clip-path="url(#p9851077e19)" style="stroke: #000000"/><circle cx="177.12" cy="16.14" r="1.88" fill="none" clip-path="url(#p9851077e19)" style="stroke: #000000"/><path d="M171.71 43.8L182.53 37.55L186.39 41.1L182.53 37.55z" clip-path="url(#p9851077e19)" style="stroke: #000000"/><path d="M171.25 67.36L182.99 63.08L180.79 63.89L182.38 65.97L180.79 63.89z" clip-path="url(#p9851077e19)" style="stroke: #000000"/><path d="M171.08 91.38L183.16 88.15L180.89 88.75L182.29 90.97L180.89 88.75z" clip-path="url(#p9851077e19)" style="stroke: #000000"/><path d="M170.87 114.31L183.37 114.31L181.03 114.31L181.81 116.81L181.03 114.31z" clip-path="url(#p9851077e19)" style="stroke: #000000"/><path d="M170.87 138.85L183.37 138.85L181.03 138.85L181.81 141.35L181.03 138.85z" clip-path="url(#p9851077e19)" style="stroke: #000000"/><circle cx="177.12" cy="163.40" r="1.88" fill="none" clip-path="url(#p9851077e19)" style="stroke: #000000"/><circle cx="177.12" cy="187.94" r="1.88" fill="none" clip-path="url(#p9851077e19)" style="stroke: #000000"/><path d="M182.95 214.72L171.29 210.24L173.47 211.08L173.64 208.46L173.47 211.08z" clip-path="url(#p9851077e19)" style="stroke: #000000"/><path d="M183.13 226.47L171.11 223.03L173.37 223.67L173.3 221.05L173.37 223.67z" clip-path="url(#p9851077e19)" style="stroke: #000000"/><path d="M183.23 238.32L171.01 235.72L173.3 236.21L173.05 233.6L173.3 236.21z" clip-path="url(#p9851077e19)" style="stroke: #000000"/><path d="M183.26 250.48L170.98 248.1L173.29 248.54L173 245.94L173.29 248.54z" clip-path="url(#p9851077e19)" style="stroke: #000000"/><path d="M183.31 262.43L170.93 260.69L173.25 261.02L172.83 258.43L173.25 261.02z" clip-path="url(#p9851077e19)" style="stroke: #000000"/><path d="M183.34 274.49L170.9 273.18L173.24 273.42L172.72 270.86L173.24 273.42z" clip-path="url(#p9851077e19)" style="stroke: #000000"/><circle cx="177.12" cy="286.11" r="1.88" fill="none" clip-path="url(#p9851077e19)" style="stroke: #000000"/><circle cx="177.12" cy="298.38" r="1.88" fill="none" clip-path="url(#p9851077e19)" style="stroke: #000000"/><circle cx="177.12" cy="310.64" r="1.88" fill="none" clip-path="url(#p9851077e19)" style="stroke: #000000"/><circle cx="193.53" cy="16.14" r="1.88" fill="none" clip-path="url(#p9851077e19)" style="stroke: #000000"/><path d="M188.74 44.7L198.31 36.66L202.72 39.49L198.31 36.66z" clip-path="url(#p9851077e19)" style="stroke: #000000"/><path d="M187.86 67.86L199.19 62.58L197.07 63.57L198.83 65.51L197.07 63.57z" clip-path="url(#p9851077e19)" style="stroke: #000000"/><path d="M187.65 91.9L199.4 87.63L197.2 88.43L198.79 90.51L197.2 88.43z" clip-path="url(#p9851077e19)" style="stroke: #000000"/><path d="M187.28 114.31L199.78 114.31L197.43 114.31L198.21 116.81L197.43 114.31z" clip-path="url(#p9851077e19)" style="stroke: #000000"/><path d="M187.28 138.85L199.78 138.85L197.43 138.85L198.21 141.35L197.43 138.85z" clip-path="url(#p9851077e19)" style="stroke: #000000"/><circle cx="193.53" cy="163.40" r="1.88" fill="none" clip-path="url(#p9851077e19)" style="stroke: #000000"/><circle cx="193.53" cy="187.94" r="1.88" fill="none" clip-path="url(#p9851077e19)" style="stroke: #000000"/><path d="M199.04 215.41L188.01 209.54L190.08 210.64L190.56 208.07L190.08 210.64z" clip-path="url(#p9851077e19)" style="stroke: #000000"/><path d="M199.53 226.47L187.52 223.03L189.77 223.67L189.71 221.05L189.77 223.67z" clip-path="url(#p9851077e19)" style="stroke: #000000"/><path d="M199.75 237.56L187.3 236.47L189.63 236.68L189.07 234.12L189.63 236.68z" clip-path="url(#p9851077e19)" style="stroke: #000000"/><path d="M199.71 250.16L187.34 248.42L189.66 248.75L189.23 246.16L189.66 248.75z" clip-path="url(#p9851077e19)" style="stroke: #000000"/><path d="M199.71 262.43L187.34 260.69L189.66 261.02L189.23 258.43L189.66 261.02z" clip-path="url(#p9851077e19)" style="stroke: #000000"/><path d="M199.73 274.59L187.32 273.07L189.65 273.36L189.18 270.78L189.65 273.36z" clip-path="url(#p9851077e19)" style="stroke: #000000"/><circle cx="193.53" cy="286.11" r="1.88" fill="none" clip-path="url(#p9851077e19)" style="stroke: #000000"/><circle cx="193.53" cy="298.38" r="1.88" fill="none" clip-path="url(#p9851077e19)" style="stroke: #000000"/><circle cx="193.53" cy="310.64" r="1.88" fill="none" clip-path="url(#p9851077e19)" style="stroke: #000000"/><circle cx="209.94" cy="16.14" r="1.88" fill="none" clip-path="url(#p9851077e19)" style="stroke: #000000"/><path d="M205.91 45.47L213.95 35.89L218.78 37.91L213.95 35.89z" clip-path="url(#p9851077e19)" style="stroke: #000000"/><path d="M205.14 69.24L214.72 61.2L212.92 62.71L215.13 64.12L212.92 62.71z" clip-path="url(#p9851077e19)" style="stroke: #000000"/><path d="M204.81 93.35L215.05 86.18L213.13 87.52L215.21 89.12L213.13 87.52z" clip-path="url(#p9851077e19)" style="stroke: #000000"/><path d="M203.78 115.39L216.09 113.22L213.78 113.63L214.98 115.96L213.78 113.63z" clip-path="url(#p9851077e19)" style="stroke: #000000"/><circle cx="209.94" cy="138.84" r="1.88" fill="none" clip-path="url(#p9851077e19)" style="stroke: #000000"/><circle cx="209.94" cy="163.40" r="1.88" fill="none" clip-path="url(#p9851077e19)" style="stroke: #000000"/><path d="M215.29 191.15L204.57 184.72L206.58 185.92L207.2 183.38L206.58 185.92z" clip-path="url(#p9851077e19)" style="stroke: #000000"/><path d="M215.77 214.72L204.1 210.24L206.28 211.08L206.45 208.46L206.28 211.08z" clip-path="url(#p9851077e19)" style="stroke: #000000"/><path d="M216.16 225.29L203.71 224.2L206.04 224.41L205.48 221.85L206.04 224.41z" clip-path="url(#p9851077e19)" style="stroke: #000000"/><path d="M216.1 238L203.76 236.04L206.07 236.41L205.69 233.82L206.07 236.41z" clip-path="url(#p9851077e19)" style="stroke: #000000"/><path d="M216.07 250.48L203.8 248.1L206.1 248.54L205.81 245.94L206.1 248.54z" clip-path="url(#p9851077e19)" style="stroke: #000000"/><path d="M216.07 262.75L203.8 260.37L206.1 260.82L205.81 258.21L206.1 260.82z" clip-path="url(#p9851077e19)" style="stroke: #000000"/><path d="M216.12 274.7L203.74 272.96L206.06 273.29L205.64 270.7L206.06 273.29z" clip-path="url(#p9851077e19)" style="stroke: #000000"/><circle cx="209.94" cy="286.11" r="1.88" fill="none" clip-path="url(#p9851077e19)" style="stroke: #000000"/><circle cx="209.94" cy="298.38" r="1.88" fill="none" clip-path="url(#p9851077e19)" style="stroke: #000000"/><circle cx="209.94" cy="310.64" r="1.88" fill="none" clip-path="url(#p9851077e19)" style="stroke: #000000"/><circle cx="226.34" cy="16.14" r="1.88" fill="none" clip-path="url(#p9851077e19)" style="stroke: #000000"/><path d="M224.2 46.55L228.47 34.81L233.71 35.05L228.47 34.81z" clip-path="url(#p9851077e19)" style="stroke: #000000"/><path d="M223.7 70.89L228.98 59.56L227.99 61.68L230.58 62.03L227.99 61.68z" clip-path="url(#p9851077e19)" style="stroke: #000000"/><path d="M223.7 95.43L228.98 84.1L227.99 86.22L230.58 86.57L227.99 86.22z" clip-path="url(#p9851077e19)" style="stroke: #000000"/><path d="M225.25 120.46L227.42 108.15L227.02 110.46L229.61 110.12L227.02 110.46z" clip-path="url(#p9851077e19)" style="stroke: #000000"/><path d="M227.95 144.89L224.72 132.81L225.33 135.08L227.54 133.67L225.33 135.08z" clip-path="url(#p9851077e19)" style="stroke: #000000"/><path d="M229.46 168.8L223.21 157.98L224.38 160.01L226.16 158.08L224.38 160.01z" clip-path="url(#p9851077e19)" style="stroke: #000000"/><path d="M231.52 191.43L221.16 184.44L223.1 185.75L223.85 183.24L223.1 185.75z" clip-path="url(#p9851077e19)" style="stroke: #000000"/><path d="M232.17 214.72L220.5 210.24L222.69 211.08L222.86 208.46L222.69 211.08z" clip-path="url(#p9851077e19)" style="stroke: #000000"/><path d="M232.37 226.37L220.3 223.13L222.56 223.74L222.46 221.12L222.56 223.74z" clip-path="url(#p9851077e19)" style="stroke: #000000"/><path d="M232.43 238.42L220.25 235.61L219.85 230.39L220.25 235.61z" clip-path="url(#p9851077e19)" style="stroke: #000000"/><path d="M232.43 250.7L220.25 247.88L219.85 242.66L220.25 247.88z" clip-path="url(#p9851077e19)" style="stroke: #000000"/><path d="M232.35 263.28L220.33 259.84L220.21 254.6L220.33 259.84z" clip-path="url(#p9851077e19)" style="stroke: #000000"/><path d="M232.47 275.03L220.2 272.64L222.5 273.09L222.21 270.48L222.5 273.09z" clip-path="url(#p9851077e19)" style="stroke: #000000"/><circle cx="226.34" cy="286.11" r="1.88" fill="none" clip-path="url(#p9851077e19)" style="stroke: #000000"/><circle cx="226.34" cy="298.38" r="1.88" fill="none" clip-path="url(#p9851077e19)" style="stroke: #000000"/><circle cx="226.34" cy="310.64" r="1.88" fill="none" clip-path="url(#p9851077e19)" style="stroke: #000000"/><circle cx="242.75" cy="16.14" r="1.88" fill="none" clip-path="url(#p9851077e19)" style="stroke: #000000"/><path d="M240.61 46.55L244.88 34.81L250.11 35.05L244.88 34.81z" clip-path="url(#p9851077e19)" style="stroke: #000000"/><path d="M241.55 71.36L243.94 59.09L243.49 61.39L246.09 61.1L243.49 61.39z" clip-path="url(#p9851077e19)" style="stroke: #000000"/><path d="M242.74 96.01L242.74 83.51L242.74 85.86L245.24 85.08L242.74 85.86z" clip-path="url(#p9851077e19)" style="stroke: #000000"/><path d="M243.5 120.51L241.98 108.1L242.27 110.43L244.65 109.35L242.27 110.43z" clip-path="url(#p9851077e19)" style="stroke: #000000"/><path d="M246.33 143.97L239.16 133.73L240.5 135.65L242.1 133.58L240.5 135.65z" clip-path="url(#p9851077e19)" style="stroke: #000000"/><path d="M247.16 167.81L238.32 158.97L239.98 160.63L241.2 158.31L239.98 160.63z" clip-path="url(#p9851077e19)" style="stroke: #000000"/><path d="M248.16 191.06L237.33 184.81L239.36 185.98L239.93 183.43L239.36 185.98z" clip-path="url(#p9851077e19)" style="stroke: #000000"/><path d="M248.75 214.2L236.73 210.75L236.61 205.52L236.73 210.75z" clip-path="url(#p9851077e19)" style="stroke: #000000"/><path d="M248.95 225.51L236.54 223.99L235.6 218.83L236.54 223.99z" clip-path="url(#p9851077e19)" style="stroke: #000000"/><path d="M248.93 237.89L236.55 236.15L235.7 230.98L236.55 236.15z" clip-path="url(#p9851077e19)" style="stroke: #000000"/><path d="M248.93 250.16L236.55 248.42L235.7 243.25L236.55 248.42z" clip-path="url(#p9851077e19)" style="stroke: #000000"/><path d="M248.9 262.65L236.59 260.48L235.92 255.28L236.59 260.48z" clip-path="url(#p9851077e19)" style="stroke: #000000"/><path d="M248.65 275.87L236.83 271.8L236.98 266.56L236.83 271.8z" clip-path="url(#p9851077e19)" style="stroke: #000000"/><path d="M248.1 289.32L237.39 282.88L239.39 284.09L240.01 281.55L239.39 284.09z" clip-path="url(#p9851077e19)" style="stroke: #000000"/><circle cx="242.75" cy="298.38" r="1.88" fill="none" clip-path="url(#p9851077e19)" style="stroke: #000000"/><circle cx="242.75" cy="310.64" r="1.88" fill="none" clip-path="url(#p9851077e19)" style="stroke: #000000"/><circle cx="259.14" cy="16.14" r="1.88" fill="none" clip-path="url(#p9851077e19)" style="stroke: #000000"/><path d="M260.77 46.72L257.53 34.64L261.96 31.84L257.53 34.64z" clip-path="url(#p9851077e19)" style="stroke: #000000"/><path d="M260.87 71.23L257.43 59.21L258.07 61.47L260.26 60.03L258.07 61.47z" clip-path="url(#p9851077e19)" style="stroke: #000000"/><path d="M260.98 95.74L257.32 83.79L258.01 86.03L260.17 84.55L258.01 86.03z" clip-path="url(#p9851077e19)" style="stroke: #000000"/><path d="M261.99 119.88L256.31 108.74L257.38 110.83L259.25 109L257.38 110.83z" clip-path="url(#p9851077e19)" style="stroke: #000000"/><path d="M263.41 143.42L254.89 134.28L256.48 135.99L257.78 133.72L256.48 135.99z" clip-path="url(#p9851077e19)" style="stroke: #000000"/><path d="M263.87 167.49L254.43 159.29L256.2 160.83L257.25 158.43L256.2 160.83z" clip-path="url(#p9851077e19)" style="stroke: #000000"/><path d="M264.94 190.28L253.35 185.59L253.78 180.37L253.35 185.59z" clip-path="url(#p9851077e19)" style="stroke: #000000"/><path d="M265.34 213.35L252.96 211.61L252.11 206.44L252.96 211.61z" clip-path="url(#p9851077e19)" style="stroke: #000000"/><path d="M265.3 225.83L252.99 223.66L252.32 218.47L252.99 223.66z" clip-path="url(#p9851077e19)" style="stroke: #000000"/><path d="M265.24 238.42L253.06 235.61L252.66 230.39L253.06 235.61z" clip-path="url(#p9851077e19)" style="stroke: #000000"/><path d="M265.24 250.7L253.06 247.88L252.66 242.66L253.06 247.88z" clip-path="url(#p9851077e19)" style="stroke: #000000"/><path d="M265.06 263.6L253.24 259.53L253.39 254.29L253.24 259.53z" clip-path="url(#p9851077e19)" style="stroke: #000000"/><path d="M264.94 276.17L253.35 271.49L253.78 266.27L253.35 271.49z" clip-path="url(#p9851077e19)" style="stroke: #000000"/><path d="M265.09 288.04L253.2 284.17L255.43 284.9L255.46 282.28L255.43 284.9z" clip-path="url(#p9851077e19)" style="stroke: #000000"/><circle cx="259.14" cy="298.38" r="1.88" fill="none" clip-path="url(#p9851077e19)" style="stroke: #000000"/><circle cx="259.14" cy="310.64" r="1.88" fill="none" clip-path="url(#p9851077e19)" style="stroke: #000000"/><circle cx="275.56" cy="16.14" r="1.88" fill="none" clip-path="url(#p9851077e19)" style="stroke: #000000"/><path d="M280.34 44.7L270.77 36.66L272.78 31.83L270.77 36.66z" clip-path="url(#p9851077e19)" style="stroke: #000000"/><path d="M280.41 69.16L270.7 61.29L272.52 62.76L273.48 60.33L272.52 62.76z" clip-path="url(#p9851077e19)" style="stroke: #000000"/><path d="M280.13 94.03L270.98 85.5L272.7 87.1L273.83 84.74L272.7 87.1z" clip-path="url(#p9851077e19)" style="stroke: #000000"/><path d="M280.13 118.57L270.98 110.04L272.7 111.64L273.83 109.28L272.7 111.64z" clip-path="url(#p9851077e19)" style="stroke: #000000"/><path d="M280.41 142.78L270.7 134.92L272.52 136.39L273.48 133.96L272.52 136.39z" clip-path="url(#p9851077e19)" style="stroke: #000000"/><path d="M280.34 167.41L270.77 159.37L272.78 154.54L270.77 159.37z" clip-path="url(#p9851077e19)" style="stroke: #000000"/><path d="M281.26 190.48L269.84 185.39L270.45 180.19L269.84 185.39z" clip-path="url(#p9851077e19)" style="stroke: #000000"/><path d="M281.56 214.2L269.55 210.75L269.42 205.52L269.55 210.75z" clip-path="url(#p9851077e19)" style="stroke: #000000"/><path d="M281.56 226.47L269.55 223.03L269.42 217.79L269.55 223.03z" clip-path="url(#p9851077e19)" style="stroke: #000000"/><path d="M281.35 239.36L269.76 234.68L270.18 229.46L269.76 234.68z" clip-path="url(#p9851077e19)" style="stroke: #000000"/><path d="M281.35 251.63L269.76 246.95L270.18 241.73L269.76 246.95z" clip-path="url(#p9851077e19)" style="stroke: #000000"/><path d="M281.46 263.6L269.64 259.53L269.8 254.29L269.64 259.53z" clip-path="url(#p9851077e19)" style="stroke: #000000"/><path d="M281.35 276.17L269.76 271.49L271.93 272.37L272.14 269.76L271.93 272.37z" clip-path="url(#p9851077e19)" style="stroke: #000000"/><path d="M281.71 287.19L269.4 285.02L271.71 285.43L271.37 282.83L271.71 285.43z" clip-path="url(#p9851077e19)" style="stroke: #000000"/><circle cx="275.56" cy="298.38" r="1.88" fill="none" clip-path="url(#p9851077e19)" style="stroke: #000000"/><circle cx="275.56" cy="310.64" r="1.88" fill="none" clip-path="url(#p9851077e19)" style="stroke: #000000"/><circle cx="291.95" cy="16.14" r="1.88" fill="none" clip-path="url(#p9851077e19)" style="stroke: #000000"/><path d="M295.98 45.47L287.94 35.89L290.77 31.48L287.94 35.89z" clip-path="url(#p9851077e19)" style="stroke: #000000"/><path d="M296.53 69.48L287.39 60.96L289.66 56.24L287.39 60.96z" clip-path="url(#p9851077e19)" style="stroke: #000000"/><path d="M296.53 94.03L287.39 85.5L289.66 80.78L287.39 85.5z" clip-path="url(#p9851077e19)" style="stroke: #000000"/><path d="M296.53 118.57L287.39 110.04L289.1 111.64L290.24 109.28L289.1 111.64z" clip-path="url(#p9851077e19)" style="stroke: #000000"/><path d="M296.68 142.95L287.24 134.75L289.34 129.95L287.24 134.75z" clip-path="url(#p9851077e19)" style="stroke: #000000"/><path d="M297.08 166.98L286.84 159.81L288.43 154.82L286.84 159.81z" clip-path="url(#p9851077e19)" style="stroke: #000000"/><path d="M297.58 190.67L286.34 185.19L287.13 180.02L286.34 185.19z" clip-path="url(#p9851077e19)" style="stroke: #000000"/><path d="M297.71 214.92L286.21 210.03L286.72 204.82L286.21 210.03z" clip-path="url(#p9851077e19)" style="stroke: #000000"/><path d="M297.62 227.39L286.3 222.11L286.99 216.91L286.3 222.11z" clip-path="url(#p9851077e19)" style="stroke: #000000"/><path d="M297.71 239.46L286.21 234.58L286.72 229.36L286.21 234.58z" clip-path="url(#p9851077e19)" style="stroke: #000000"/><path d="M297.83 251.43L286.09 247.15L286.33 241.92L286.09 247.15z" clip-path="url(#p9851077e19)" style="stroke: #000000"/><path d="M297.94 263.39L285.98 259.73L285.95 254.5L285.98 259.73z" clip-path="url(#p9851077e19)" style="stroke: #000000"/><path d="M297.71 276.27L286.21 271.39L288.36 272.31L288.62 269.7L288.36 272.31z" clip-path="url(#p9851077e19)" style="stroke: #000000"/><path d="M298.21 286.1L285.71 286.1L288.05 286.1L287.27 283.6L288.05 286.1z" clip-path="url(#p9851077e19)" style="stroke: #000000"/><circle cx="291.95" cy="298.38" r="1.88" fill="none" clip-path="url(#p9851077e19)" style="stroke: #000000"/><circle cx="291.95" cy="310.64" r="1.88" fill="none" clip-path="url(#p9851077e19)" style="stroke: #000000"/><circle cx="308.37" cy="16.14" r="1.88" fill="none" clip-path="url(#p9851077e19)" style="stroke: #000000"/><path d="M312.38 45.47L304.35 35.89L307.17 31.48L304.35 35.89z" clip-path="url(#p9851077e19)" style="stroke: #000000"/><path d="M312.79 69.64L303.95 60.8L306.38 56.16L303.95 60.8z" clip-path="url(#p9851077e19)" style="stroke: #000000"/><path d="M312.63 94.34L304.1 85.19L306.69 80.64L304.1 85.19z" clip-path="url(#p9851077e19)" style="stroke: #000000"/><path d="M312.47 119.02L304.27 109.59L307.01 105.13L304.27 109.59z" clip-path="url(#p9851077e19)" style="stroke: #000000"/><path d="M313.08 142.95L303.65 134.75L305.75 129.95L303.65 134.75z" clip-path="url(#p9851077e19)" style="stroke: #000000"/><path d="M313.83 166.42L302.9 160.36L303.96 155.23L302.9 160.36z" clip-path="url(#p9851077e19)" style="stroke: #000000"/><path d="M314.08 190.48L302.66 185.39L303.26 180.19L302.66 185.39z" clip-path="url(#p9851077e19)" style="stroke: #000000"/><path d="M314.31 214.41L302.42 210.55L302.48 205.31L302.42 210.55z" clip-path="url(#p9851077e19)" style="stroke: #000000"/><path d="M314.28 226.78L302.46 222.71L302.61 217.48L302.46 222.71z" clip-path="url(#p9851077e19)" style="stroke: #000000"/><path d="M314.16 239.36L302.57 234.68L303 229.46L302.57 234.68z" clip-path="url(#p9851077e19)" style="stroke: #000000"/><path d="M314.34 251.12L302.39 247.46L302.36 242.22L302.39 247.46z" clip-path="url(#p9851077e19)" style="stroke: #000000"/><path d="M314.37 263.28L302.36 259.84L302.23 254.6L302.36 259.84z" clip-path="url(#p9851077e19)" style="stroke: #000000"/><path d="M314.46 275.24L302.28 272.43L301.88 267.2L302.28 272.43z" clip-path="url(#p9851077e19)" style="stroke: #000000"/><path d="M314.62 286.1L302.12 286.1L304.46 286.1L303.68 283.6L304.46 286.1z" clip-path="url(#p9851077e19)" style="stroke: #000000"/><circle cx="308.37" cy="298.38" r="1.88" fill="none" clip-path="url(#p9851077e19)" style="stroke: #000000"/><circle cx="308.37" cy="310.64" r="1.88" fill="none" clip-path="url(#p9851077e19)" style="stroke: #000000"/><circle cx="324.77" cy="16.14" r="1.88" fill="none" clip-path="url(#p9851077e19)" style="stroke: #000000"/><path d="M328.79 45.47L320.75 35.89L323.58 31.48L320.75 35.89z" clip-path="url(#p9851077e19)" style="stroke: #000000"/><path d="M329.19 69.64L320.35 60.8L322.78 56.16L320.35 60.8z" clip-path="url(#p9851077e19)" style="stroke: #000000"/><path d="M329.03 94.34L320.51 85.19L323.1 80.64L320.51 85.19z" clip-path="url(#p9851077e19)" style="stroke: #000000"/><path d="M329.19 118.73L320.35 109.89L322.78 105.25L320.35 109.89z" clip-path="url(#p9851077e19)" style="stroke: #000000"/><path d="M329.19 143.27L320.35 134.43L322.78 129.79L320.35 134.43z" clip-path="url(#p9851077e19)" style="stroke: #000000"/><path d="M329.03 167.96L320.51 158.82L323.1 154.27L320.51 158.82z" clip-path="url(#p9851077e19)" style="stroke: #000000"/><path d="M330.29 190.87L319.25 185L320.22 179.85L319.25 185z" clip-path="url(#p9851077e19)" style="stroke: #000000"/><path d="M330.91 213.67L318.64 211.28L318.06 206.08L318.64 211.28z" clip-path="url(#p9851077e19)" style="stroke: #000000"/><path d="M330.68 226.78L318.86 222.71L319.01 217.48L318.86 222.71z" clip-path="url(#p9851077e19)" style="stroke: #000000"/><path d="M330.78 238.74L318.76 235.3L318.64 230.06L318.76 235.3z" clip-path="url(#p9851077e19)" style="stroke: #000000"/><path d="M330.86 250.7L318.68 247.88L318.28 242.66L318.68 247.88z" clip-path="url(#p9851077e19)" style="stroke: #000000"/><path d="M330.68 263.6L318.86 259.53L321.08 260.29L321.15 257.67L321.08 260.29z" clip-path="url(#p9851077e19)" style="stroke: #000000"/><path d="M330.78 275.56L318.76 272.11L318.64 266.87L318.76 272.11z" clip-path="url(#p9851077e19)" style="stroke: #000000"/><path d="M331.02 286.1L318.52 286.1L320.87 286.1L320.08 283.6L320.87 286.1z" clip-path="url(#p9851077e19)" style="stroke: #000000"/><circle cx="324.77" cy="298.38" r="1.88" fill="none" clip-path="url(#p9851077e19)" style="stroke: #000000"/><circle cx="324.77" cy="310.64" r="1.88" fill="none" clip-path="url(#p9851077e19)" style="stroke: #000000"/><circle cx="341.18" cy="16.14" r="1.88" fill="none" clip-path="url(#p9851077e19)" style="stroke: #000000"/><path d="M345.96 44.7L336.39 36.66L338.41 31.83L336.39 36.66z" clip-path="url(#p9851077e19)" style="stroke: #000000"/><path d="M345.75 69.48L336.61 60.96L338.87 56.24L336.61 60.96z" clip-path="url(#p9851077e19)" style="stroke: #000000"/><path d="M345.6 94.18L336.76 85.35L339.19 80.7L336.76 85.35z" clip-path="url(#p9851077e19)" style="stroke: #000000"/><path d="M345.75 118.57L336.61 110.04L338.87 105.32L336.61 110.04z" clip-path="url(#p9851077e19)" style="stroke: #000000"/><path d="M345.75 143.11L336.61 134.59L338.87 129.86L336.61 134.59z" clip-path="url(#p9851077e19)" style="stroke: #000000"/><path d="M345.89 167.49L336.46 159.29L338.56 154.49L336.46 159.29z" clip-path="url(#p9851077e19)" style="stroke: #000000"/><path d="M346.64 190.96L335.71 184.9L336.77 179.77L335.71 184.9z" clip-path="url(#p9851077e19)" style="stroke: #000000"/><path d="M347.09 214.51L335.27 210.44L335.42 205.21L335.27 210.44z" clip-path="url(#p9851077e19)" style="stroke: #000000"/><path d="M346.93 227.19L335.42 222.31L335.94 217.09L335.42 222.31z" clip-path="url(#p9851077e19)" style="stroke: #000000"/><path d="M347.12 238.95L335.23 235.09L335.29 229.85L335.23 235.09z" clip-path="url(#p9851077e19)" style="stroke: #000000"/><path d="M347.05 251.43L335.3 247.15L335.55 241.92L335.3 247.15z" clip-path="url(#p9851077e19)" style="stroke: #000000"/><path d="M347.05 263.7L335.3 259.42L337.51 260.23L337.63 257.61L337.51 260.23z" clip-path="url(#p9851077e19)" style="stroke: #000000"/><path d="M347.15 275.66L335.2 272.01L337.44 272.69L337.43 270.07L337.44 272.69z" clip-path="url(#p9851077e19)" style="stroke: #000000"/><path d="M347.43 286.1L334.93 286.1L337.27 286.1L336.49 283.6L337.27 286.1z" clip-path="url(#p9851077e19)" style="stroke: #000000"/><path d="M346.59 301.5L335.76 295.25L337.79 296.42L338.37 293.87L337.79 296.42z" clip-path="url(#p9851077e19)" style="stroke: #000000"/><circle cx="341.18" cy="310.64" r="1.88" fill="none" clip-path="url(#p9851077e19)" style="stroke: #000000"/><circle cx="357.58" cy="16.14" r="1.88" fill="none" clip-path="url(#p9851077e19)" style="stroke: #000000"/><path d="M361.6 45.47L353.57 35.89L356.39 31.48L353.57 35.89z" clip-path="url(#p9851077e19)" style="stroke: #000000"/><path d="M361.68 69.94L353.48 60.51L356.23 56.05L353.48 60.51z" clip-path="url(#p9851077e19)" style="stroke: #000000"/><path d="M361.52 94.62L353.65 84.91L356.55 80.55L353.65 84.91z" clip-path="url(#p9851077e19)" style="stroke: #000000"/><path d="M361.52 119.16L353.65 109.45L356.55 105.09L353.65 109.45z" clip-path="url(#p9851077e19)" style="stroke: #000000"/><path d="M361.52 143.71L353.65 133.99L356.55 129.63L353.65 133.99z" clip-path="url(#p9851077e19)" style="stroke: #000000"/><path d="M361.26 168.45L353.91 158.34L355.29 160.23L356.85 158.13L355.29 160.23z" clip-path="url(#p9851077e19)" style="stroke: #000000"/><path d="M362.15 192.2L353.01 183.67L354.73 185.27L355.86 182.91L354.73 185.27z" clip-path="url(#p9851077e19)" style="stroke: #000000"/><path d="M363.29 215.02L351.87 209.93L354.01 210.89L354.32 208.29L354.01 210.89z" clip-path="url(#p9851077e19)" style="stroke: #000000"/><path d="M363.34 227.19L351.83 222.31L352.35 217.09L351.83 222.31z" clip-path="url(#p9851077e19)" style="stroke: #000000"/><path d="M363.53 238.95L351.64 235.09L351.7 229.85L351.64 235.09z" clip-path="url(#p9851077e19)" style="stroke: #000000"/><path d="M363.46 251.43L351.71 247.15L351.95 241.92L351.71 247.15z" clip-path="url(#p9851077e19)" style="stroke: #000000"/><path d="M363.46 263.7L351.71 259.42L353.91 260.23L354.03 257.61L353.91 260.23z" clip-path="url(#p9851077e19)" style="stroke: #000000"/><path d="M363.46 275.97L351.71 271.69L353.91 272.5L354.03 269.88L353.91 272.5z" clip-path="url(#p9851077e19)" style="stroke: #000000"/><path d="M363.83 286.1L351.33 286.1L353.68 286.1L352.9 283.6L353.68 286.1z" clip-path="url(#p9851077e19)" style="stroke: #000000"/><circle cx="357.58" cy="298.38" r="1.88" fill="none" clip-path="url(#p9851077e19)" style="stroke: #000000"/><circle cx="357.58" cy="310.64" r="1.88" fill="none" clip-path="url(#p9851077e19)" style="stroke: #000000"/><circle cx="373.99" cy="16.14" r="1.88" fill="none" clip-path="url(#p9851077e19)" style="stroke: #000000"/><path d="M377.57 45.8L370.4 35.56L373.6 31.41L370.4 35.56z" clip-path="url(#p9851077e19)" style="stroke: #000000"/><path d="M377.57 70.34L370.4 60.1L373.6 55.95L370.4 60.1z" clip-path="url(#p9851077e19)" style="stroke: #000000"/><path d="M377.75 94.76L370.23 84.77L373.28 80.52L370.23 84.77z" clip-path="url(#p9851077e19)" style="stroke: #000000"/><path d="M377.57 119.43L370.4 109.19L371.75 111.11L373.35 109.03L371.75 111.11z" clip-path="url(#p9851077e19)" style="stroke: #000000"/><path d="M379.29 142.16L368.69 135.54L370.01 130.47L368.69 135.54z" clip-path="url(#p9851077e19)" style="stroke: #000000"/><path d="M379.7 165.93L368.28 160.85L368.89 155.65L368.28 160.85z" clip-path="url(#p9851077e19)" style="stroke: #000000"/><path d="M380.08 189.34L367.9 186.53L367.5 181.3L367.9 186.53z" clip-path="url(#p9851077e19)" style="stroke: #000000"/><path d="M380.18 213.35L367.8 211.61L366.95 206.44L367.8 211.61z" clip-path="url(#p9851077e19)" style="stroke: #000000"/><path d="M380.14 225.83L367.83 223.66L367.16 218.47L367.83 223.66z" clip-path="url(#p9851077e19)" style="stroke: #000000"/><path d="M380.24 237.02L367.74 237.02L370.08 237.02L369.3 234.52L370.08 237.02z" clip-path="url(#p9851077e19)" style="stroke: #000000"/><path d="M379.82 251.53L368.15 247.05L370.34 247.89L370.51 245.28L370.34 247.89z" clip-path="url(#p9851077e19)" style="stroke: #000000"/><path d="M380 263.28L367.98 259.84L370.23 260.48L370.17 257.87L370.23 260.48z" clip-path="url(#p9851077e19)" style="stroke: #000000"/><path d="M379.97 275.66L368.01 272.01L370.25 272.69L370.24 270.07L370.25 272.69z" clip-path="url(#p9851077e19)" style="stroke: #000000"/><circle cx="373.99" cy="286.11" r="1.88" fill="none" clip-path="url(#p9851077e19)" style="stroke: #000000"/><circle cx="373.99" cy="298.38" r="1.88" fill="none" clip-path="url(#p9851077e19)" style="stroke: #000000"/><circle cx="373.99" cy="310.64" r="1.88" fill="none" clip-path="url(#p9851077e19)" style="stroke: #000000"/><circle cx="390.39" cy="16.14" r="1.88" fill="none" clip-path="url(#p9851077e19)" style="stroke: #000000"/><path d="M393.52 46.09L387.27 35.27L390.82 31.41L387.27 35.27z" clip-path="url(#p9851077e19)" style="stroke: #000000"/><path d="M392.94 70.93L387.85 59.51L391.78 56.05L387.85 59.51z" clip-path="url(#p9851077e19)" style="stroke: #000000"/><path d="M393.8 95.01L386.99 84.52L390.33 80.49L386.99 84.52z" clip-path="url(#p9851077e19)" style="stroke: #000000"/><path d="M394.81 118.73L385.97 109.89L387.63 111.54L388.85 109.22L387.63 111.54z" clip-path="url(#p9851077e19)" style="stroke: #000000"/><path d="M395.25 142.78L385.54 134.92L387.36 136.39L388.32 133.96L387.36 136.39z" clip-path="url(#p9851077e19)" style="stroke: #000000"/><path d="M395.86 166.42L384.93 160.36L386.98 161.5L387.51 158.93L386.98 161.5z" clip-path="url(#p9851077e19)" style="stroke: #000000"/><path d="M395.81 191.06L384.98 184.81L387.01 185.98L387.58 183.43L387.01 185.98z" clip-path="url(#p9851077e19)" style="stroke: #000000"/><path d="M396.27 214.61L384.52 210.34L386.72 211.14L386.84 208.52L386.72 211.14z" clip-path="url(#p9851077e19)" style="stroke: #000000"/><path d="M396.27 226.89L384.52 222.61L386.72 223.41L386.84 220.8L386.72 223.41z" clip-path="url(#p9851077e19)" style="stroke: #000000"/><path d="M396.43 238.64L384.36 235.4L386.62 236.01L386.51 233.39L386.62 236.01z" clip-path="url(#p9851077e19)" style="stroke: #000000"/><path d="M396.43 250.91L384.36 247.67L386.62 248.28L386.51 245.66L386.62 248.28z" clip-path="url(#p9851077e19)" style="stroke: #000000"/><path d="M396.43 263.18L384.36 259.94L386.62 260.55L386.51 257.93L386.62 260.55z" clip-path="url(#p9851077e19)" style="stroke: #000000"/><path d="M396.27 275.97L384.52 271.69L386.72 272.5L386.84 269.88L386.72 272.5z" clip-path="url(#p9851077e19)" style="stroke: #000000"/><path d="M396.64 286.1L384.14 286.1L386.49 286.1L385.71 283.6L386.49 286.1z" clip-path="url(#p9851077e19)" style="stroke: #000000"/><circle cx="390.39" cy="298.38" r="1.88" fill="none" clip-path="url(#p9851077e19)" style="stroke: #000000"/><circle cx="390.39" cy="310.64" r="1.88" fill="none" clip-path="url(#p9851077e19)" style="stroke: #000000"/><circle cx="406.81" cy="16.14" r="1.88" fill="none" clip-path="url(#p9851077e19)" style="stroke: #000000"/><path d="M410.82 45.47L402.78 35.89L404.29 37.69L405.7 35.48L404.29 37.69z" clip-path="url(#p9851077e19)" style="stroke: #000000"/><path d="M410.29 70.4L403.31 60.04L404.62 61.98L406.25 59.94L404.62 61.98z" clip-path="url(#p9851077e19)" style="stroke: #000000"/><path d="M410.9 94.48L402.7 85.05L404.24 86.82L405.61 84.59L404.24 86.82z" clip-path="url(#p9851077e19)" style="stroke: #000000"/><path d="M411.52 118.41L402.08 110.21L403.85 111.74L404.9 109.35L403.85 111.74z" clip-path="url(#p9851077e19)" style="stroke: #000000"/><path d="M411.79 142.61L401.81 135.09L403.68 136.5L404.56 134.03L403.68 136.5z" clip-path="url(#p9851077e19)" style="stroke: #000000"/><path d="M412.21 166.52L401.39 160.27L403.42 161.44L403.99 158.88L403.42 161.44z" clip-path="url(#p9851077e19)" style="stroke: #000000"/><path d="M412.21 191.06L401.39 184.81L403.42 185.98L403.99 183.43L403.42 185.98z" clip-path="url(#p9851077e19)" style="stroke: #000000"/><path d="M412.46 215.12L401.14 209.84L403.26 210.83L403.61 208.23L403.26 210.83z" clip-path="url(#p9851077e19)" style="stroke: #000000"/><path d="M412.67 226.89L400.93 222.61L403.13 223.41L403.25 220.8L403.13 223.41z" clip-path="url(#p9851077e19)" style="stroke: #000000"/><path d="M412.84 238.64L400.76 235.4L403.03 236.01L402.92 233.39L403.03 236.01z" clip-path="url(#p9851077e19)" style="stroke: #000000"/><path d="M412.67 251.43L400.93 247.15L403.13 247.95L403.25 245.34L403.13 247.95z" clip-path="url(#p9851077e19)" style="stroke: #000000"/><path d="M412.67 263.7L400.93 259.42L403.13 260.23L403.25 257.61L403.13 260.23z" clip-path="url(#p9851077e19)" style="stroke: #000000"/><path d="M412.67 275.97L400.93 271.69L403.13 272.5L403.25 269.88L403.13 272.5z" clip-path="url(#p9851077e19)" style="stroke: #000000"/><path d="M412.84 287.72L400.76 284.49L403.03 285.09L402.92 282.48L403.03 285.09z" clip-path="url(#p9851077e19)" style="stroke: #000000"/><circle cx="406.81" cy="298.38" r="1.88" fill="none" clip-path="url(#p9851077e19)" style="stroke: #000000"/><circle cx="406.81" cy="310.64" r="1.88" fill="none" clip-path="url(#p9851077e19)" style="stroke: #000000"/><circle cx="423.20" cy="16.14" r="1.88" fill="none" clip-path="url(#p9851077e19)" style="stroke: #000000"/><path d="M427.99 44.7L418.42 36.66L420.21 38.17L421.22 35.75L420.21 38.17z" clip-path="url(#p9851077e19)" style="stroke: #000000"/><path d="M428.51 68.53L417.91 61.91L419.89 63.15L420.56 60.62L419.89 63.15z" clip-path="url(#p9851077e19)" style="stroke: #000000"/><path d="M428.39 93.26L418.02 86.27L419.97 87.58L420.72 85.07L419.97 87.58z" clip-path="url(#p9851077e19)" style="stroke: #000000"/><path d="M428.06 118.24L418.35 110.37L420.17 111.85L421.14 109.41L420.17 111.85z" clip-path="url(#p9851077e19)" style="stroke: #000000"/><path d="M428.67 141.88L417.74 135.82L419.79 136.96L420.32 134.39L419.79 136.96z" clip-path="url(#p9851077e19)" style="stroke: #000000"/><path d="M429.21 165.11L417.2 161.67L419.45 162.32L419.39 159.7L419.45 162.32z" clip-path="url(#p9851077e19)" style="stroke: #000000"/><path d="M429.08 190.07L417.33 185.8L419.54 186.6L419.66 183.98L419.54 186.6z" clip-path="url(#p9851077e19)" style="stroke: #000000"/><path d="M428.87 215.12L417.54 209.84L419.67 210.83L420.01 208.23L419.67 210.83z" clip-path="url(#p9851077e19)" style="stroke: #000000"/><path d="M429.08 226.89L417.33 222.61L419.54 223.41L419.66 220.8L419.54 223.41z" clip-path="url(#p9851077e19)" style="stroke: #000000"/><path d="M429.46 237.02L416.96 237.02L419.3 237.02L418.52 234.52L419.3 237.02z" clip-path="url(#p9851077e19)" style="stroke: #000000"/><path d="M429.43 249.83L416.98 248.75L419.31 248.95L418.75 246.39L419.31 248.95z" clip-path="url(#p9851077e19)" style="stroke: #000000"/><path d="M429.36 262.65L417.05 260.48L419.36 260.88L419.02 258.29L419.36 260.88z" clip-path="url(#p9851077e19)" style="stroke: #000000"/><path d="M429.08 275.97L417.33 271.69L419.54 272.5L419.66 269.88L419.54 272.5z" clip-path="url(#p9851077e19)" style="stroke: #000000"/><circle cx="423.20" cy="286.11" r="1.88" fill="none" clip-path="url(#p9851077e19)" style="stroke: #000000"/><circle cx="423.20" cy="298.38" r="1.88" fill="none" clip-path="url(#p9851077e19)" style="stroke: #000000"/><circle cx="423.20" cy="310.64" r="1.88" fill="none" clip-path="url(#p9851077e19)" style="stroke: #000000"/><circle cx="439.62" cy="16.14" r="1.88" fill="none" clip-path="url(#p9851077e19)" style="stroke: #000000"/><path d="M444.03 45.1L435.19 36.26L437.62 31.62L435.19 36.26z" clip-path="url(#p9851077e19)" style="stroke: #000000"/><path d="M443.87 69.79L435.35 60.65L437.94 56.1L435.35 60.65z" clip-path="url(#p9851077e19)" style="stroke: #000000"/><path d="M443.71 94.48L435.51 85.05L438.26 80.59L435.51 85.05z" clip-path="url(#p9851077e19)" style="stroke: #000000"/><path d="M443.54 119.16L435.68 109.45L437.15 111.27L438.6 109.09L437.15 111.27z" clip-path="url(#p9851077e19)" style="stroke: #000000"/><path d="M444.6 142.61L434.62 135.09L436.49 136.5L437.37 134.03L436.49 136.5z" clip-path="url(#p9851077e19)" style="stroke: #000000"/><path d="M445.62 165.11L433.6 161.67L435.86 162.32L435.79 159.7L435.86 162.32z" clip-path="url(#p9851077e19)" style="stroke: #000000"/><path d="M445.77 189.02L433.46 186.85L435.76 187.26L435.43 184.66L435.76 187.26z" clip-path="url(#p9851077e19)" style="stroke: #000000"/><path d="M445.84 211.93L433.39 213.02L435.72 212.82L434.72 210.39L435.72 212.82z" clip-path="url(#p9851077e19)" style="stroke: #000000"/><path d="M445.77 225.83L433.46 223.66L435.76 224.07L435.43 221.47L435.76 224.07z" clip-path="url(#p9851077e19)" style="stroke: #000000"/><path d="M445.86 237.02L433.36 237.02L435.71 237.02L434.92 234.52L435.71 237.02z" clip-path="url(#p9851077e19)" style="stroke: #000000"/><path d="M445.77 250.38L433.46 248.2L435.76 248.61L435.43 246.01L435.76 248.61z" clip-path="url(#p9851077e19)" style="stroke: #000000"/><path d="M445.28 264.2L433.95 258.92L436.07 259.91L436.42 257.31L436.07 259.91z" clip-path="url(#p9851077e19)" style="stroke: #000000"/><path d="M445.28 276.47L433.95 271.19L436.07 272.18L436.42 269.59L436.07 272.18z" clip-path="url(#p9851077e19)" style="stroke: #000000"/><circle cx="439.62" cy="286.11" r="1.88" fill="none" clip-path="url(#p9851077e19)" style="stroke: #000000"/><circle cx="439.62" cy="298.38" r="1.88" fill="none" clip-path="url(#p9851077e19)" style="stroke: #000000"/><circle cx="439.62" cy="310.64" r="1.88" fill="none" clip-path="url(#p9851077e19)" style="stroke: #000000"/><circle cx="456.01" cy="16.14" r="1.88" fill="none" clip-path="url(#p9851077e19)" style="stroke: #000000"/><path d="M460.44 45.1L451.6 36.26L454.03 31.62L451.6 36.26z" clip-path="url(#p9851077e19)" style="stroke: #000000"/><path d="M460.28 69.79L451.75 60.65L454.35 56.1L451.75 60.65z" clip-path="url(#p9851077e19)" style="stroke: #000000"/><path d="M460.59 94.03L451.45 85.5L453.16 87.1L454.29 84.74L453.16 87.1z" clip-path="url(#p9851077e19)" style="stroke: #000000"/><path d="M460.12 119.02L451.92 109.59L453.45 111.36L454.83 109.13L453.45 111.36z" clip-path="url(#p9851077e19)" style="stroke: #000000"/><path d="M461.63 141.59L450.4 136.11L452.51 137.14L452.9 134.55L452.51 137.14z" clip-path="url(#p9851077e19)" style="stroke: #000000"/><path d="M462.15 162.2L449.88 164.58L452.18 164.14L450.94 161.83L452.18 164.14z" clip-path="url(#p9851077e19)" style="stroke: #000000"/><path d="M462.05 186.32L449.98 189.55L452.24 188.95L450.84 186.73L452.24 188.95z" clip-path="url(#p9851077e19)" style="stroke: #000000"/><path d="M461.89 210.34L450.14 214.61L452.35 213.81L450.76 211.73L452.35 213.81z" clip-path="url(#p9851077e19)" style="stroke: #000000"/><path d="M462.17 223.66L449.86 225.83L452.17 225.43L450.97 223.1L452.17 225.43z" clip-path="url(#p9851077e19)" style="stroke: #000000"/><path d="M462.27 237.02L449.77 237.02L452.11 237.02L451.33 234.52L452.11 237.02z" clip-path="url(#p9851077e19)" style="stroke: #000000"/><path d="M461.89 251.43L450.14 247.15L452.35 247.95L452.47 245.34L452.35 247.95z" clip-path="url(#p9851077e19)" style="stroke: #000000"/><path d="M461.14 265.15L450.9 257.98L452.82 259.32L453.61 256.82L452.82 259.32z" clip-path="url(#p9851077e19)" style="stroke: #000000"/><circle cx="456.01" cy="273.83" r="1.88" fill="none" clip-path="url(#p9851077e19)" style="stroke: #000000"/><circle cx="456.01" cy="286.11" r="1.88" fill="none" clip-path="url(#p9851077e19)" style="stroke: #000000"/><circle cx="456.01" cy="298.38" r="1.88" fill="none" clip-path="url(#p9851077e19)" style="stroke: #000000"/><circle cx="456.01" cy="310.64" r="1.88" fill="none" clip-path="url(#p9851077e19)" style="stroke: #000000"/><circle cx="472.43" cy="16.14" r="1.88" fill="none" clip-path="url(#p9851077e19)" style="stroke: #000000"/><path d="M477.54 44.26L467.3 37.1L468.89 32.1L467.3 37.1z" clip-path="url(#p9851077e19)" style="stroke: #000000"/><path d="M477.6 68.72L467.24 61.73L469.18 63.04L469.93 60.53L469.18 63.04z" clip-path="url(#p9851077e19)" style="stroke: #000000"/><path d="M477.84 92.89L467.01 86.64L469.04 87.81L469.61 85.26L469.04 87.81z" clip-path="url(#p9851077e19)" style="stroke: #000000"/><path d="M477.84 117.43L467.01 111.18L469.04 112.35L469.61 109.8L469.04 112.35z" clip-path="url(#p9851077e19)" style="stroke: #000000"/><path d="M478.18 141.29L466.67 136.41L468.83 137.32L469.08 134.72L468.83 137.32z" clip-path="url(#p9851077e19)" style="stroke: #000000"/><path d="M478.51 164.8L466.33 161.99L468.62 162.51L468.42 159.9L468.62 162.51z" clip-path="url(#p9851077e19)" style="stroke: #000000"/><path d="M478.67 187.93L466.17 187.93L468.52 187.93L467.74 185.43L468.52 187.93z" clip-path="url(#p9851077e19)" style="stroke: #000000"/><path d="M478.09 209.84L466.76 215.12L468.88 214.13L467.12 212.19L468.88 214.13z" clip-path="url(#p9851077e19)" style="stroke: #000000"/><path d="M478.3 222.61L466.55 226.89L468.75 226.08L467.16 224L468.75 226.08z" clip-path="url(#p9851077e19)" style="stroke: #000000"/><path d="M478.67 237.02L466.17 237.02L468.52 237.02L467.74 234.52L468.52 237.02z" clip-path="url(#p9851077e19)" style="stroke: #000000"/><circle cx="472.43" cy="249.29" r="1.88" fill="none" clip-path="url(#p9851077e19)" style="stroke: #000000"/><circle cx="472.43" cy="261.56" r="1.88" fill="none" clip-path="url(#p9851077e19)" style="stroke: #000000"/><circle cx="472.43" cy="273.83" r="1.88" fill="none" clip-path="url(#p9851077e19)" style="stroke: #000000"/><circle cx="472.43" cy="286.11" r="1.88" fill="none" clip-path="url(#p9851077e19)" style="stroke: #000000"/><circle cx="472.43" cy="298.38" r="1.88" fill="none" clip-path="url(#p9851077e19)" style="stroke: #000000"/><circle cx="472.43" cy="310.64" r="1.88" fill="none" clip-path="url(#p9851077e19)" style="stroke: #000000"/><circle cx="488.82" cy="16.14" r="1.88" fill="none" clip-path="url(#p9851077e19)" style="stroke: #000000"/><path d="M493.62 44.7L484.04 36.66L486.06 31.83L484.04 36.66z" clip-path="url(#p9851077e19)" style="stroke: #000000"/><path d="M493.82 68.98L483.84 61.46L485.71 62.87L486.59 60.4L485.71 62.87z" clip-path="url(#p9851077e19)" style="stroke: #000000"/><path d="M494.29 92.79L483.36 86.73L485.41 87.87L485.94 85.31L485.41 87.87z" clip-path="url(#p9851077e19)" style="stroke: #000000"/><path d="M494.77 116.24L482.88 112.38L485.11 113.1L485.14 110.48L485.11 113.1z" clip-path="url(#p9851077e19)" style="stroke: #000000"/><path d="M494.49 141.49L483.16 136.21L485.29 137.2L485.64 134.6L485.29 137.2z" clip-path="url(#p9851077e19)" style="stroke: #000000"/><path d="M494.66 165.63L482.99 161.15L485.18 161.99L485.35 159.38L485.18 161.99z" clip-path="url(#p9851077e19)" style="stroke: #000000"/><path d="M495.05 188.48L482.6 187.39L484.94 187.59L484.38 185.04L484.94 187.59z" clip-path="url(#p9851077e19)" style="stroke: #000000"/><path d="M494.24 209.35L483.42 215.6L485.45 214.43L483.52 212.66L485.45 214.43z" clip-path="url(#p9851077e19)" style="stroke: #000000"/><path d="M494.49 222.11L483.16 227.39L485.29 226.4L483.52 224.46L485.29 226.4z" clip-path="url(#p9851077e19)" style="stroke: #000000"/><path d="M494.87 235.4L482.79 238.64L485.06 238.03L483.65 235.82L485.06 238.03z" clip-path="url(#p9851077e19)" style="stroke: #000000"/><circle cx="488.82" cy="249.29" r="1.88" fill="none" clip-path="url(#p9851077e19)" style="stroke: #000000"/><circle cx="488.82" cy="261.56" r="1.88" fill="none" clip-path="url(#p9851077e19)" style="stroke: #000000"/><circle cx="488.82" cy="273.83" r="1.88" fill="none" clip-path="url(#p9851077e19)" style="stroke: #000000"/><path d="M494.98 285.02L482.67 287.19L484.98 286.78L483.78 284.46L484.98 286.78z" clip-path="url(#p9851077e19)" style="stroke: #000000"/><circle cx="488.82" cy="298.38" r="1.88" fill="none" clip-path="url(#p9851077e19)" style="stroke: #000000"/><circle cx="488.82" cy="310.64" r="1.88" fill="none" clip-path="url(#p9851077e19)" style="stroke: #000000"/><circle cx="505.24" cy="16.14" r="1.88" fill="none" clip-path="url(#p9851077e19)" style="stroke: #000000"/><path d="M508.36 46.09L502.11 35.27L505.66 31.41L502.11 35.27z" clip-path="url(#p9851077e19)" style="stroke: #000000"/><path d="M508.82 70.34L501.65 60.1L504.85 55.95L501.65 60.1z" clip-path="url(#p9851077e19)" style="stroke: #000000"/><path d="M509.17 94.62L501.3 84.91L504.2 80.55L501.3 84.91z" clip-path="url(#p9851077e19)" style="stroke: #000000"/><path d="M509.5 118.88L500.97 109.74L503.56 105.18L500.97 109.74z" clip-path="url(#p9851077e19)" style="stroke: #000000"/><path d="M510.53 142.16L499.93 135.54L501.26 130.47L499.93 135.54z" clip-path="url(#p9851077e19)" style="stroke: #000000"/><path d="M511.27 165.01L499.2 161.77L498.98 156.54L499.2 161.77z" clip-path="url(#p9851077e19)" style="stroke: #000000"/><path d="M511.46 188.48L499.01 187.39L497.89 182.27L499.01 187.39z" clip-path="url(#p9851077e19)" style="stroke: #000000"/><path d="M511.46 213.02L499.01 211.93L497.89 206.81L499.01 211.93z" clip-path="url(#p9851077e19)" style="stroke: #000000"/><path d="M511.27 223.13L499.2 226.37L501.46 225.76L500.06 223.55L501.46 225.76z" clip-path="url(#p9851077e19)" style="stroke: #000000"/><path d="M511.48 237.02L498.98 237.02L501.33 237.02L500.55 234.52L501.33 237.02z" clip-path="url(#p9851077e19)" style="stroke: #000000"/><circle cx="505.24" cy="249.29" r="1.88" fill="none" clip-path="url(#p9851077e19)" style="stroke: #000000"/><circle cx="505.24" cy="261.56" r="1.88" fill="none" clip-path="url(#p9851077e19)" style="stroke: #000000"/><path d="M501.65 268.71L508.82 278.95L507.47 277.03L505.88 279.11L507.47 277.03z" clip-path="url(#p9851077e19)" style="stroke: #000000"/><path d="M499.08 285.02L511.39 287.19L509.08 286.78L509.42 289.38L509.08 286.78z" clip-path="url(#p9851077e19)" style="stroke: #000000"/><circle cx="505.24" cy="298.38" r="1.88" fill="none" clip-path="url(#p9851077e19)" style="stroke: #000000"/><circle cx="505.24" cy="310.64" r="1.88" fill="none" clip-path="url(#p9851077e19)" style="stroke: #000000"/><circle cx="521.63" cy="16.14" r="1.88" fill="none" clip-path="url(#p9851077e19)" style="stroke: #000000"/><path d="M526.43 44.7L516.85 36.66L518.87 31.83L516.85 36.66z" clip-path="url(#p9851077e19)" style="stroke: #000000"/><path d="M526.21 69.48L517.07 60.96L519.34 56.24L517.07 60.96z" clip-path="url(#p9851077e19)" style="stroke: #000000"/><path d="M526.21 94.03L517.07 85.5L519.34 80.78L517.07 85.5z" clip-path="url(#p9851077e19)" style="stroke: #000000"/><path d="M526.5 118.24L516.78 110.37L518.72 105.5L516.78 110.37z" clip-path="url(#p9851077e19)" style="stroke: #000000"/><path d="M527.21 141.69L516.07 136.01L516.95 130.85L516.07 136.01z" clip-path="url(#p9851077e19)" style="stroke: #000000"/><path d="M527.68 165.01L515.6 161.77L515.39 156.54L515.6 161.77z" clip-path="url(#p9851077e19)" style="stroke: #000000"/><path d="M527.87 188.48L515.41 187.39L514.29 182.27L515.41 187.39z" clip-path="url(#p9851077e19)" style="stroke: #000000"/><path d="M527.87 213.02L515.41 211.93L514.29 206.81L515.41 211.93z" clip-path="url(#p9851077e19)" style="stroke: #000000"/><path d="M527.87 225.29L515.41 224.2L514.29 219.09L515.41 224.2z" clip-path="url(#p9851077e19)" style="stroke: #000000"/><path d="M527.89 237.02L515.39 237.02L517.73 237.02L516.95 234.52L517.73 237.02z" clip-path="url(#p9851077e19)" style="stroke: #000000"/><path d="M527.8 248.2L515.48 250.38L517.79 249.97L516.59 247.64L517.79 249.97z" clip-path="url(#p9851077e19)" style="stroke: #000000"/><circle cx="521.63" cy="261.56" r="1.88" fill="none" clip-path="url(#p9851077e19)" style="stroke: #000000"/><circle cx="521.63" cy="273.83" r="1.88" fill="none" clip-path="url(#p9851077e19)" style="stroke: #000000"/><path d="M518.06 280.98L525.22 291.22L523.88 289.3L522.28 291.38L523.88 289.3z" clip-path="url(#p9851077e19)" style="stroke: #000000"/><circle cx="521.63" cy="298.38" r="1.88" fill="none" clip-path="url(#p9851077e19)" style="stroke: #000000"/><circle cx="521.63" cy="310.64" r="1.88" fill="none" clip-path="url(#p9851077e19)" style="stroke: #000000"/><circle cx="538.04" cy="16.14" r="1.88" fill="none" clip-path="url(#p9851077e19)" style="stroke: #000000"/><path d="M544.27 40.14L531.82 41.22L529.83 36.38L531.82 41.22z" clip-path="url(#p9851077e19)" style="stroke: #000000"/><path d="M544.05 66.95L532.04 63.5L534.29 64.15L534.23 61.53L534.29 64.15z" clip-path="url(#p9851077e19)" style="stroke: #000000"/><path d="M543.84 92.11L532.25 87.42L534.42 88.3L534.64 85.69L534.42 88.3z" clip-path="url(#p9851077e19)" style="stroke: #000000"/><path d="M543.76 116.85L532.34 111.77L532.94 106.56L532.34 111.77z" clip-path="url(#p9851077e19)" style="stroke: #000000"/><path d="M544.14 140.26L531.96 137.44L531.56 132.22L531.96 137.44z" clip-path="url(#p9851077e19)" style="stroke: #000000"/><path d="M544.22 164.37L531.87 162.41L531.11 157.23L531.87 162.41z" clip-path="url(#p9851077e19)" style="stroke: #000000"/><path d="M544.27 188.48L531.82 187.39L530.7 182.27L531.82 187.39z" clip-path="url(#p9851077e19)" style="stroke: #000000"/><path d="M544.3 212.48L531.8 212.48L530.23 207.48L531.8 212.48z" clip-path="url(#p9851077e19)" style="stroke: #000000"/><path d="M544.3 224.75L531.8 224.75L530.23 219.75L531.8 224.75z" clip-path="url(#p9851077e19)" style="stroke: #000000"/><path d="M544.2 238.1L531.89 235.93L531.22 230.74L531.89 235.93z" clip-path="url(#p9851077e19)" style="stroke: #000000"/><path d="M544.2 248.2L531.89 250.38L534.2 249.97L533 247.64L534.2 249.97z" clip-path="url(#p9851077e19)" style="stroke: #000000"/><path d="M544.08 259.94L532.01 263.18L534.27 262.57L532.87 260.36L534.27 262.57z" clip-path="url(#p9851077e19)" style="stroke: #000000"/><path d="M543.71 271.19L532.38 276.47L534.51 275.48L532.74 273.55L534.51 275.48z" clip-path="url(#p9851077e19)" style="stroke: #000000"/><path d="M541.63 280.98L534.46 291.22L535.81 289.3L533.31 288.51L535.81 289.3z" clip-path="url(#p9851077e19)" style="stroke: #000000"/><circle cx="538.04" cy="298.38" r="1.88" fill="none" clip-path="url(#p9851077e19)" style="stroke: #000000"/><circle cx="538.04" cy="310.64" r="1.88" fill="none" clip-path="url(#p9851077e19)" style="stroke: #000000"/><circle cx="554.46" cy="16.14" r="1.88" fill="none" clip-path="url(#p9851077e19)" style="stroke: #000000"/><path d="M560.61 39.59L548.3 41.77L545.89 37.11L548.3 41.77z" clip-path="url(#p9851077e19)" style="stroke: #000000"/><path d="M560.36 63.19L548.54 67.26L545.44 63.04L548.54 67.26z" clip-path="url(#p9851077e19)" style="stroke: #000000"/><path d="M560.59 88.57L548.32 90.96L545.83 86.35L548.32 90.96z" clip-path="url(#p9851077e19)" style="stroke: #000000"/><path d="M560.56 113.01L548.34 115.61L545.77 111.04L548.34 115.61z" clip-path="url(#p9851077e19)" style="stroke: #000000"/><path d="M560.2 141.29L548.7 136.41L550.86 137.32L551.11 134.72L550.86 137.32z" clip-path="url(#p9851077e19)" style="stroke: #000000"/><path d="M560.7 163.39L548.2 163.39L546.64 158.39L548.2 163.39z" clip-path="url(#p9851077e19)" style="stroke: #000000"/><path d="M560.68 188.48L548.23 187.39L547.1 182.27L548.23 187.39z" clip-path="url(#p9851077e19)" style="stroke: #000000"/><path d="M560.7 212.48L548.2 212.48L546.64 207.48L548.2 212.48z" clip-path="url(#p9851077e19)" style="stroke: #000000"/><path d="M560.68 225.29L548.23 224.2L547.1 219.09L548.23 224.2z" clip-path="url(#p9851077e19)" style="stroke: #000000"/><path d="M560.68 237.56L548.23 236.47L547.1 231.36L548.23 236.47z" clip-path="url(#p9851077e19)" style="stroke: #000000"/><path d="M560.68 249.83L548.23 248.75L547.1 243.63L548.23 248.75z" clip-path="url(#p9851077e19)" style="stroke: #000000"/><path d="M560.68 262.11L548.23 261.02L547.1 255.9L548.23 261.02z" clip-path="url(#p9851077e19)" style="stroke: #000000"/><path d="M560.61 274.92L548.3 272.75L547.63 267.55L548.3 272.75z" clip-path="url(#p9851077e19)" style="stroke: #000000"/><path d="M560.61 285.02L548.3 287.19L550.6 286.78L549.4 284.46L550.6 286.78z" clip-path="url(#p9851077e19)" style="stroke: #000000"/><circle cx="554.46" cy="298.38" r="1.88" fill="none" clip-path="url(#p9851077e19)" style="stroke: #000000"/><circle cx="554.46" cy="310.64" r="1.88" fill="none" clip-path="url(#p9851077e19)" style="stroke: #000000"/><circle cx="570.86" cy="16.14" r="1.88" fill="none" clip-path="url(#p9851077e19)" style="stroke: #000000"/><path d="M576.52 38.04L565.19 43.32L561.66 39.45L565.19 43.32L566.61 42.66L564.84 40.73L566.61 42.66z" clip-path="url(#p9851077e19)" style="stroke: #000000"/><path d="M576.32 62.19L565.39 68.25L561.6 64.64L565.39 68.25L566.76 67.49L564.86 65.69L566.76 67.49z" clip-path="url(#p9851077e19)" style="stroke: #000000"/><path d="M576.73 87.63L564.98 91.9L561.81 87.74L564.98 91.9L566.45 91.37L564.86 89.29L566.45 91.37z" clip-path="url(#p9851077e19)" style="stroke: #000000"/><path d="M577.01 113.22L564.7 115.39L562.3 110.74L564.7 115.39L566.24 115.12L565.04 112.79L566.24 115.12z" clip-path="url(#p9851077e19)" style="stroke: #000000"/><path d="M577.01 139.93L564.7 137.76L564.03 132.57L564.7 137.76z" clip-path="url(#p9851077e19)" style="stroke: #000000"/><path d="M577.07 164.05L564.64 162.74L563.61 157.6L564.64 162.74z" clip-path="url(#p9851077e19)" style="stroke: #000000"/><path d="M577.08 188.48L564.63 187.39L563.51 182.27L564.63 187.39L566.19 187.53L565.63 184.97L566.19 187.53z" clip-path="url(#p9851077e19)" style="stroke: #000000"/><path d="M577.01 213.56L564.7 211.39L564.03 206.2L564.7 211.39L566.24 211.66L565.91 209.06L566.24 211.66z" clip-path="url(#p9851077e19)" style="stroke: #000000"/><path d="M577.08 225.29L564.63 224.2L563.51 219.09L564.63 224.2z" clip-path="url(#p9851077e19)" style="stroke: #000000"/><path d="M577.01 238.1L564.7 235.93L564.03 230.74L564.7 235.93z" clip-path="url(#p9851077e19)" style="stroke: #000000"/><path d="M576.89 250.91L564.82 247.67L564.6 242.44L564.82 247.67z" clip-path="url(#p9851077e19)" style="stroke: #000000"/><path d="M577.01 262.65L564.7 260.48L564.03 255.28L564.7 260.48z" clip-path="url(#p9851077e19)" style="stroke: #000000"/><path d="M577.01 274.92L564.7 272.75L564.03 267.55L564.7 272.75z" clip-path="url(#p9851077e19)" style="stroke: #000000"/><path d="M577.01 287.19L564.7 285.02L567.01 285.43L566.67 282.83L567.01 285.43z" clip-path="url(#p9851077e19)" style="stroke: #000000"/><circle cx="570.86" cy="298.38" r="1.88" fill="none" clip-path="url(#p9851077e19)" style="stroke: #000000"/><circle cx="570.86" cy="310.64" r="1.88" fill="none" clip-path="url(#p9851077e19)" style="stroke: #000000"/><circle cx="587.26" cy="16.14" r="1.88" fill="none" clip-path="url(#p9851077e19)" style="stroke: #000000"/><path d="M593.14 38.54L581.39 42.82L578.21 38.65L581.39 42.82L582.86 42.28L581.27 40.2L582.86 42.28z" clip-path="url(#p9851077e19)" style="stroke: #000000"/><path d="M592.83 62.38L581.69 68.06L578.03 64.31L581.69 68.06L583.09 67.35L581.26 65.48L583.09 67.35z" clip-path="url(#p9851077e19)" style="stroke: #000000"/><path d="M593.17 87.73L581.35 91.8L578.25 87.58L581.35 91.8L582.83 91.29L581.28 89.18L582.83 91.29z" clip-path="url(#p9851077e19)" style="stroke: #000000"/><path d="M593.48 113.65L581.05 114.96L578.97 110.15L581.05 114.96L582.6 114.8L581.56 112.39L582.6 114.8z" clip-path="url(#p9851077e19)" style="stroke: #000000"/><path d="M593.51 138.85L581.01 138.85L579.45 133.85L581.01 138.85L582.58 138.85L581.79 136.35L582.58 138.85z" clip-path="url(#p9851077e19)" style="stroke: #000000"/><path d="M593.48 164.05L581.05 162.74L580.02 157.6L581.05 162.74L582.6 162.9L582.09 160.33L582.6 162.9z" clip-path="url(#p9851077e19)" style="stroke: #000000"/><path d="M593.49 188.48L581.04 187.39L579.92 182.27L581.04 187.39L582.59 187.53L582.03 184.97L582.59 187.53z" clip-path="url(#p9851077e19)" style="stroke: #000000"/><path d="M593.3 214.09L581.23 210.86L581.01 205.62L581.23 210.86z" clip-path="url(#p9851077e19)" style="stroke: #000000"/><path d="M593.3 226.37L581.23 223.13L581.01 217.9L581.23 223.13z" clip-path="url(#p9851077e19)" style="stroke: #000000"/><path d="M593.3 238.64L581.23 235.4L581.01 230.17L581.23 235.4z" clip-path="url(#p9851077e19)" style="stroke: #000000"/><path d="M593.3 250.91L581.23 247.67L581.01 242.44L581.23 247.67z" clip-path="url(#p9851077e19)" style="stroke: #000000"/><path d="M593.42 262.65L581.11 260.48L580.44 255.28L581.11 260.48z" clip-path="url(#p9851077e19)" style="stroke: #000000"/><path d="M593.49 274.38L581.04 273.29L579.92 268.17L581.04 273.29z" clip-path="url(#p9851077e19)" style="stroke: #000000"/><path d="M593.42 285.02L581.11 287.19L583.42 286.78L582.21 284.46L583.42 286.78z" clip-path="url(#p9851077e19)" style="stroke: #000000"/><path d="M592.38 294.79L582.14 301.96L584.06 300.62L581.99 299.02L584.06 300.62z" clip-path="url(#p9851077e19)" style="stroke: #000000"/><circle cx="587.26" cy="310.64" r="1.88" fill="none" clip-path="url(#p9851077e19)" style="stroke: #000000"/><circle cx="603.66" cy="16.14" r="1.88" fill="none" clip-path="url(#p9851077e19)" style="stroke: #000000"/><path d="M609.08 43.8L598.26 37.55L599.4 32.44L598.26 37.55L599.61 38.34L600.18 35.78L599.61 38.34z" clip-path="url(#p9851077e19)" style="stroke: #000000"/><path d="M609.5 67.46L597.83 62.98L598.17 57.75L597.83 62.98L599.29 63.54L599.46 60.93L599.29 63.54z" clip-path="url(#p9851077e19)" style="stroke: #000000"/><path d="M609.68 91.49L597.66 88.04L597.54 82.81L597.66 88.04L599.16 88.47L599.1 85.85L599.16 88.47z" clip-path="url(#p9851077e19)" style="stroke: #000000"/><path d="M609.71 115.92L597.63 112.69L597.42 107.46L597.63 112.69L599.14 113.09L599.03 110.48L599.14 113.09z" clip-path="url(#p9851077e19)" style="stroke: #000000"/><path d="M609.88 139.5L597.45 138.2L596.42 133.06L597.45 138.2L599.01 138.36L598.49 135.79L599.01 138.36z" clip-path="url(#p9851077e19)" style="stroke: #000000"/><path d="M609.88 164.05L597.45 162.74L596.42 157.6L597.45 162.74L599.01 162.9L598.49 160.33L599.01 162.9z" clip-path="url(#p9851077e19)" style="stroke: #000000"/><path d="M609.89 188.48L597.44 187.39L596.32 182.27L597.44 187.39L599 187.53L598.44 184.97L599 187.53z" clip-path="url(#p9851077e19)" style="stroke: #000000"/><path d="M609.82 213.56L597.51 211.39L596.84 206.2L597.51 211.39z" clip-path="url(#p9851077e19)" style="stroke: #000000"/><path d="M609.82 225.83L597.51 223.66L596.84 218.47L597.51 223.66z" clip-path="url(#p9851077e19)" style="stroke: #000000"/><path d="M609.71 238.64L597.63 235.4L597.42 230.17L597.63 235.4z" clip-path="url(#p9851077e19)" style="stroke: #000000"/><path d="M609.71 250.91L597.63 247.67L597.42 242.44L597.63 247.67z" clip-path="url(#p9851077e19)" style="stroke: #000000"/><path d="M609.71 263.18L597.63 259.94L597.42 254.71L597.63 259.94z" clip-path="url(#p9851077e19)" style="stroke: #000000"/><path d="M609.71 275.45L597.63 272.21L597.42 266.98L597.63 272.21z" clip-path="url(#p9851077e19)" style="stroke: #000000"/><path d="M609.92 286.1L597.42 286.1L599.76 286.1L598.98 283.6L599.76 286.1z" clip-path="url(#p9851077e19)" style="stroke: #000000"/><path d="M609.92 298.37L597.42 298.37L599.76 298.37L598.98 295.87L599.76 298.37z" clip-path="url(#p9851077e19)" style="stroke: #000000"/><circle cx="603.66" cy="310.64" r="1.88" fill="none" clip-path="url(#p9851077e19)" style="stroke: #000000"/><circle cx="620.08" cy="16.14" r="1.88" fill="none" clip-path="url(#p9851077e19)" style="stroke: #000000"/><path d="M625.19 44.26L614.95 37.1L616.54 32.1L614.95 37.1L616.23 37.99L617.82 33L616.23 37.99z" clip-path="url(#p9851077e19)" style="stroke: #000000"/><path d="M625.13 68.9L615.02 61.55L616.69 56.59L615.02 61.55L616.28 62.47L617.96 57.5L616.28 62.47L617.55 63.39L618.38 60.9L617.55 63.39z" clip-path="url(#p9851077e19)" style="stroke: #000000"/><path d="M625.13 93.44L615.02 86.09L616.69 81.13L615.02 86.09L616.28 87.01L617.96 82.05L616.28 87.01z" clip-path="url(#p9851077e19)" style="stroke: #000000"/><path d="M625.54 117.34L614.61 111.28L615.67 106.15L614.61 111.28L615.97 112.03L616.5 109.47L615.97 112.03z" clip-path="url(#p9851077e19)" style="stroke: #000000"/><path d="M626.02 140.78L614.13 136.92L614.19 131.68L614.13 136.92L615.62 137.4L615.65 134.78L615.62 137.4z" clip-path="url(#p9851077e19)" style="stroke: #000000"/><path d="M626.29 164.05L613.86 162.74L612.83 157.6L613.86 162.74L615.41 162.9L614.9 160.33L615.41 162.9z" clip-path="url(#p9851077e19)" style="stroke: #000000"/><path d="M626.3 188.48L613.85 187.39L612.73 182.27L613.85 187.39z" clip-path="url(#p9851077e19)" style="stroke: #000000"/><path d="M626.23 213.56L613.92 211.39L613.25 206.2L613.92 211.39z" clip-path="url(#p9851077e19)" style="stroke: #000000"/><path d="M626.23 225.83L613.92 223.66L613.25 218.47L613.92 223.66z" clip-path="url(#p9851077e19)" style="stroke: #000000"/><path d="M626.11 238.64L614.04 235.4L613.82 230.17L614.04 235.4z" clip-path="url(#p9851077e19)" style="stroke: #000000"/><path d="M626.11 250.91L614.04 247.67L613.82 242.44L614.04 247.67z" clip-path="url(#p9851077e19)" style="stroke: #000000"/><path d="M626.11 263.18L614.04 259.94L616.3 260.55L616.19 257.93L616.3 260.55z" clip-path="url(#p9851077e19)" style="stroke: #000000"/><path d="M626.11 275.45L614.04 272.21L616.3 272.82L616.19 270.2L616.3 272.82z" clip-path="url(#p9851077e19)" style="stroke: #000000"/><path d="M625.95 288.24L614.2 283.97L616.4 284.77L616.52 282.15L616.4 284.77z" clip-path="url(#p9851077e19)" style="stroke: #000000"/><path d="M625.74 301.02L614.41 295.73L616.53 296.72L616.88 294.13L616.53 296.72z" clip-path="url(#p9851077e19)" style="stroke: #000000"/><circle cx="620.08" cy="310.64" r="1.88" fill="none" clip-path="url(#p9851077e19)" style="stroke: #000000"/><circle cx="636.49" cy="16.14" r="1.88" fill="none" clip-path="url(#p9851077e19)" style="stroke: #000000"/><path d="M640.5 45.47L632.46 35.89L635.29 31.48L632.46 35.89L633.47 37.09L636.29 32.68L633.47 37.09L634.47 38.29L635.88 36.08L634.47 38.29z" clip-path="url(#p9851077e19)" style="stroke: #000000"/><path d="M640.58 69.94L632.38 60.51L635.13 56.05L632.38 60.51L633.4 61.68L636.15 57.23L633.4 61.68L634.43 62.86L635.8 60.63L634.43 62.86z" clip-path="url(#p9851077e19)" style="stroke: #000000"/><path d="M640.24 94.76L632.72 84.77L635.77 80.52L632.72 84.77L633.66 86.02L636.71 81.76L633.66 86.02z" clip-path="url(#p9851077e19)" style="stroke: #000000"/><path d="M641.34 118.24L631.62 110.37L633.56 105.5L631.62 110.37L632.84 111.36L633.8 108.92L632.84 111.36z" clip-path="url(#p9851077e19)" style="stroke: #000000"/><path d="M641.78 142.16L631.18 135.54L632.5 130.47L631.18 135.54L632.5 136.37L633.17 133.83L632.5 136.37z" clip-path="url(#p9851077e19)" style="stroke: #000000"/><path d="M642.19 165.93L630.77 160.85L631.38 155.65L630.77 160.85z" clip-path="url(#p9851077e19)" style="stroke: #000000"/><path d="M642.64 189.02L630.32 186.85L629.65 181.65L630.32 186.85z" clip-path="url(#p9851077e19)" style="stroke: #000000"/><path d="M642.71 213.02L630.25 211.93L629.13 206.81L630.25 211.93z" clip-path="url(#p9851077e19)" style="stroke: #000000"/><path d="M642.71 225.29L630.25 224.2L632.59 224.41L632.03 221.85L632.59 224.41z" clip-path="url(#p9851077e19)" style="stroke: #000000"/><path d="M642.64 238.1L630.32 235.93L632.63 236.34L632.3 233.74L632.63 236.34z" clip-path="url(#p9851077e19)" style="stroke: #000000"/><path d="M642.52 250.91L630.44 247.67L632.71 248.28L632.6 245.66L632.71 248.28z" clip-path="url(#p9851077e19)" style="stroke: #000000"/><path d="M642.35 263.7L630.61 259.42L632.81 260.23L632.93 257.61L632.81 260.23z" clip-path="url(#p9851077e19)" style="stroke: #000000"/><path d="M641.89 276.96L631.07 270.71L633.1 271.88L633.67 269.32L633.1 271.88z" clip-path="url(#p9851077e19)" style="stroke: #000000"/><path d="M641.6 289.69L631.36 282.52L633.28 283.86L634.07 281.37L633.28 283.86z" clip-path="url(#p9851077e19)" style="stroke: #000000"/><circle cx="636.49" cy="298.38" r="1.88" fill="none" clip-path="url(#p9851077e19)" style="stroke: #000000"/><circle cx="636.49" cy="310.64" r="1.88" fill="none" clip-path="url(#p9851077e19)" style="stroke: #000000"/><circle cx="652.88" cy="16.14" r="1.88" fill="none" clip-path="url(#p9851077e19)" style="stroke: #000000"/><path d="M657.31 45.1L648.47 36.26L650.9 31.62L648.47 36.26L649.57 37.37L652 32.73L649.57 37.37z" clip-path="url(#p9851077e19)" style="stroke: #000000"/><path d="M657.31 69.64L648.47 60.8L650.9 56.16L648.47 60.8L649.57 61.91L652 57.27L649.57 61.91z" clip-path="url(#p9851077e19)" style="stroke: #000000"/><path d="M656.73 94.69L649.04 84.84L652.02 80.53L649.04 84.84L650 86.07L652.98 81.76L650 86.07z" clip-path="url(#p9851077e19)" style="stroke: #000000"/><path d="M657.31 118.73L648.47 109.89L650.9 105.25L648.47 109.89L649.57 110.99L650.79 108.67L649.57 110.99z" clip-path="url(#p9851077e19)" style="stroke: #000000"/><path d="M656.9 143.64L648.87 134.06L651.69 129.65L648.87 134.06z" clip-path="url(#p9851077e19)" style="stroke: #000000"/><path d="M657.94 167.07L647.83 159.72L649.5 154.75L647.83 159.72z" clip-path="url(#p9851077e19)" style="stroke: #000000"/><path d="M658.3 191.06L647.47 184.81L648.62 179.7L647.47 184.81z" clip-path="url(#p9851077e19)" style="stroke: #000000"/><path d="M658.92 214.09L646.85 210.86L649.11 211.47L649 208.85L649.11 211.47z" clip-path="url(#p9851077e19)" style="stroke: #000000"/><path d="M659.11 224.2L646.66 225.29L648.99 225.09L648 222.67L648.99 225.09z" clip-path="url(#p9851077e19)" style="stroke: #000000"/><path d="M659.11 236.47L646.66 237.56L648.99 237.36L648 234.94L648.99 237.36z" clip-path="url(#p9851077e19)" style="stroke: #000000"/><path d="M658.92 247.67L646.85 250.91L649.11 250.3L647.71 248.09L649.11 250.3z" clip-path="url(#p9851077e19)" style="stroke: #000000"/><circle cx="652.88" cy="261.56" r="1.88" fill="none" clip-path="url(#p9851077e19)" style="stroke: #000000"/><circle cx="652.88" cy="273.83" r="1.88" fill="none" clip-path="url(#p9851077e19)" style="stroke: #000000"/><circle cx="652.88" cy="286.11" r="1.88" fill="none" clip-path="url(#p9851077e19)" style="stroke: #000000"/><circle cx="652.88" cy="298.38" r="1.88" fill="none" clip-path="url(#p9851077e19)" style="stroke: #000000"/><circle cx="652.88" cy="310.64" r="1.88" fill="none" clip-path="url(#p9851077e19)" style="stroke: #000000"/><circle cx="669.29" cy="16.14" r="1.88" fill="none" clip-path="url(#p9851077e19)" style="stroke: #000000"/><path d="M673.71 45.1L664.87 36.26L667.3 31.62L664.87 36.26L665.98 37.37L668.41 32.73L665.98 37.37z" clip-path="url(#p9851077e19)" style="stroke: #000000"/><path d="M673.55 69.79L665.03 60.65L667.62 56.1L665.03 60.65L666.09 61.79L668.69 57.24L666.09 61.79z" clip-path="url(#p9851077e19)" style="stroke: #000000"/><path d="M673.14 94.69L665.44 84.84L668.42 80.53L665.44 84.84L666.41 86.07L667.89 83.92L666.41 86.07z" clip-path="url(#p9851077e19)" style="stroke: #000000"/><path d="M674.35 117.98L664.24 110.63L665.91 105.67L664.24 110.63L665.5 111.55L666.34 109.07L665.5 111.55z" clip-path="url(#p9851077e19)" style="stroke: #000000"/><path d="M674.7 141.97L663.88 135.72L665.03 130.61L663.88 135.72L665.23 136.51L665.81 133.95L665.23 136.51z" clip-path="url(#p9851077e19)" style="stroke: #000000"/><path d="M675.24 165.32L663.35 161.46L663.41 156.22L663.35 161.46z" clip-path="url(#p9851077e19)" style="stroke: #000000"/><path d="M675.52 188.48L663.07 187.39L661.94 182.27L663.07 187.39z" clip-path="url(#p9851077e19)" style="stroke: #000000"/><path d="M675.54 212.48L663.04 212.48L665.39 212.48L664.6 209.98L665.39 212.48z" clip-path="url(#p9851077e19)" style="stroke: #000000"/><path d="M675.54 224.75L663.04 224.75L665.39 224.75L664.6 222.25L665.39 224.75z" clip-path="url(#p9851077e19)" style="stroke: #000000"/><path d="M675.54 237.02L663.04 237.02L665.39 237.02L664.6 234.52L665.39 237.02z" clip-path="url(#p9851077e19)" style="stroke: #000000"/><circle cx="669.29" cy="249.29" r="1.88" fill="none" clip-path="url(#p9851077e19)" style="stroke: #000000"/><circle cx="669.29" cy="261.56" r="1.88" fill="none" clip-path="url(#p9851077e19)" style="stroke: #000000"/><circle cx="669.29" cy="273.83" r="1.88" fill="none" clip-path="url(#p9851077e19)" style="stroke: #000000"/><circle cx="669.29" cy="286.11" r="1.88" fill="none" clip-path="url(#p9851077e19)" style="stroke: #000000"/><circle cx="669.29" cy="298.38" r="1.88" fill="none" clip-path="url(#p9851077e19)" style="stroke: #000000"/><circle cx="669.29" cy="310.64" r="1.88" fill="none" clip-path="url(#p9851077e19)" style="stroke: #000000"/><circle cx="685.70" cy="16.14" r="1.88" fill="none" clip-path="url(#p9851077e19)" style="stroke: #000000"/><path d="M690.12 45.1L681.28 36.26L683.71 31.62L681.28 36.26L682.38 37.37L684.81 32.73L682.38 37.37z" clip-path="url(#p9851077e19)" style="stroke: #000000"/><path d="M690.27 69.48L681.13 60.96L683.39 56.24L681.13 60.96L682.27 62.03L684.54 57.3L682.27 62.03z" clip-path="url(#p9851077e19)" style="stroke: #000000"/><path d="M690.41 93.87L680.98 85.66L683.08 80.87L680.98 85.66L682.16 86.69L683.21 84.29L682.16 86.69z" clip-path="url(#p9851077e19)" style="stroke: #000000"/><path d="M690.88 117.8L680.52 110.81L682.02 105.79L680.52 110.81L681.81 111.69L682.56 109.18L681.81 111.69z" clip-path="url(#p9851077e19)" style="stroke: #000000"/><path d="M690.82 142.43L680.58 135.26L682.17 130.27L680.58 135.26z" clip-path="url(#p9851077e19)" style="stroke: #000000"/><path d="M691.57 165.53L679.82 161.25L680.07 156.02L679.82 161.25z" clip-path="url(#p9851077e19)" style="stroke: #000000"/><path d="M691.57 190.07L679.82 185.8L680.07 180.56L679.82 185.8z" clip-path="url(#p9851077e19)" style="stroke: #000000"/><path d="M691.11 215.6L680.28 209.35L681.43 204.24L680.28 209.35z" clip-path="url(#p9851077e19)" style="stroke: #000000"/><path d="M691.57 226.89L679.82 222.61L682.03 223.41L682.15 220.8L682.03 223.41z" clip-path="url(#p9851077e19)" style="stroke: #000000"/><path d="M691.36 239.66L680.03 234.38L682.16 235.37L682.51 232.77L682.16 235.37z" clip-path="url(#p9851077e19)" style="stroke: #000000"/><circle cx="685.70" cy="249.29" r="1.88" fill="none" clip-path="url(#p9851077e19)" style="stroke: #000000"/><circle cx="685.70" cy="261.56" r="1.88" fill="none" clip-path="url(#p9851077e19)" style="stroke: #000000"/><path d="M679.45 273.83L691.95 273.83L689.6 273.83L690.38 276.33L689.6 273.83z" clip-path="url(#p9851077e19)" style="stroke: #000000"/><circle cx="685.70" cy="286.11" r="1.88" fill="none" clip-path="url(#p9851077e19)" style="stroke: #000000"/><circle cx="685.70" cy="298.38" r="1.88" fill="none" clip-path="url(#p9851077e19)" style="stroke: #000000"/><circle cx="685.70" cy="310.64" r="1.88" fill="none" clip-path="url(#p9851077e19)" style="stroke: #000000"/><circle cx="702.11" cy="16.14" r="1.88" fill="none" clip-path="url(#p9851077e19)" style="stroke: #000000"/><path d="M705.23 46.09L698.98 35.27L702.53 31.41L698.98 35.27L699.76 36.62L703.31 32.77L699.76 36.62z" clip-path="url(#p9851077e19)" style="stroke: #000000"/><path d="M705.41 70.52L698.79 59.92L702.2 55.95L698.79 59.92L699.62 61.25L703.03 57.27L699.62 61.25z" clip-path="url(#p9851077e19)" style="stroke: #000000"/><path d="M706.04 94.62L698.17 84.91L701.07 80.55L698.17 84.91L699.15 86.12L700.6 83.94L699.15 86.12z" clip-path="url(#p9851077e19)" style="stroke: #000000"/><path d="M706.37 118.88L697.84 109.74L700.43 105.18L697.84 109.74L698.91 110.88L700.2 108.6L698.91 110.88z" clip-path="url(#p9851077e19)" style="stroke: #000000"/><path d="M706.04 143.71L698.17 133.99L701.07 129.63L698.17 133.99z" clip-path="url(#p9851077e19)" style="stroke: #000000"/><path d="M705.41 168.69L698.79 158.09L702.2 154.12L698.79 158.09z" clip-path="url(#p9851077e19)" style="stroke: #000000"/><path d="M705.69 193.05L698.52 182.81L699.86 184.73L701.46 182.66L699.86 184.73z" clip-path="url(#p9851077e19)" style="stroke: #000000"/><path d="M705.69 217.6L698.52 207.36L699.86 209.28L701.46 207.2L699.86 209.28z" clip-path="url(#p9851077e19)" style="stroke: #000000"/><path d="M705.69 229.87L698.52 219.63L699.86 221.55L701.46 219.47L699.86 221.55z" clip-path="url(#p9851077e19)" style="stroke: #000000"/><path d="M706.52 241.44L697.68 232.6L699.34 234.26L700.56 231.94L699.34 234.26z" clip-path="url(#p9851077e19)" style="stroke: #000000"/><circle cx="702.11" cy="249.29" r="1.88" fill="none" clip-path="url(#p9851077e19)" style="stroke: #000000"/><circle cx="702.11" cy="261.56" r="1.88" fill="none" clip-path="url(#p9851077e19)" style="stroke: #000000"/><path d="M697.32 269.82L706.89 277.85L705.1 276.34L704.09 278.76L705.1 276.34z" clip-path="url(#p9851077e19)" style="stroke: #000000"/><path d="M697.68 281.68L706.52 290.52L704.86 288.87L703.65 291.19L704.86 288.87z" clip-path="url(#p9851077e19)" style="stroke: #000000"/><circle cx="702.11" cy="298.38" r="1.88" fill="none" clip-path="url(#p9851077e19)" style="stroke: #000000"/><circle cx="702.11" cy="310.64" r="1.88" fill="none" clip-path="url(#p9851077e19)" style="stroke: #000000"/><circle cx="718.50" cy="16.14" r="1.88" fill="none" clip-path="url(#p9851077e19)" style="stroke: #000000"/><path d="M719.59 46.84L717.42 34.52L722.08 32.12L717.42 34.52L717.69 36.06L720.02 34.86L717.69 36.06z" clip-path="url(#p9851077e19)" style="stroke: #000000"/><path d="M719.91 71.31L717.1 59.13L721.62 56.49L717.1 59.13L717.45 60.66L719.71 59.33L717.45 60.66z" clip-path="url(#p9851077e19)" style="stroke: #000000"/><path d="M719.81 95.88L717.21 83.65L721.77 81.08L717.21 83.65L717.53 85.18L719.82 83.9L717.53 85.18z" clip-path="url(#p9851077e19)" style="stroke: #000000"/><path d="M720.65 120.18L716.37 108.43L720.54 105.26L716.37 108.43z" clip-path="url(#p9851077e19)" style="stroke: #000000"/><path d="M720.95 144.6L716.07 133.1L720.06 129.7L716.07 133.1z" clip-path="url(#p9851077e19)" style="stroke: #000000"/><path d="M721.82 168.69L715.2 158.09L716.44 160.08L718.14 158.09L716.44 160.08z" clip-path="url(#p9851077e19)" style="stroke: #000000"/><path d="M722.93 192.35L714.09 183.51L715.75 185.17L716.96 182.85L715.75 185.17z" clip-path="url(#p9851077e19)" style="stroke: #000000"/><circle cx="718.50" cy="212.47" r="1.88" fill="none" clip-path="url(#p9851077e19)" style="stroke: #000000"/><circle cx="718.50" cy="224.75" r="1.88" fill="none" clip-path="url(#p9851077e19)" style="stroke: #000000"/><circle cx="718.50" cy="237.01" r="1.88" fill="none" clip-path="url(#p9851077e19)" style="stroke: #000000"/><circle cx="718.50" cy="249.29" r="1.88" fill="none" clip-path="url(#p9851077e19)" style="stroke: #000000"/><circle cx="718.50" cy="261.56" r="1.88" fill="none" clip-path="url(#p9851077e19)" style="stroke: #000000"/><path d="M713.72 269.82L723.3 277.85L721.5 276.34L720.49 278.76L721.5 276.34z" clip-path="url(#p9851077e19)" style="stroke: #000000"/><path d="M713.72 282.09L723.3 290.12L721.5 288.61L720.49 291.03L721.5 288.61z" clip-path="url(#p9851077e19)" style="stroke: #000000"/><circle cx="718.50" cy="298.38" r="1.88" fill="none" clip-path="url(#p9851077e19)" style="stroke: #000000"/><circle cx="718.50" cy="310.64" r="1.88" fill="none" clip-path="url(#p9851077e19)" style="stroke: #000000"/><circle cx="734.91" cy="16.14" r="1.88" fill="none" clip-path="url(#p9851077e19)" style="stroke: #000000"/><path d="M734.91 46.93L734.91 34.43L739.91 32.87L734.91 34.43L734.91 35.99L737.41 35.21L734.91 35.99z" clip-path="url(#p9851077e19)" style="stroke: #000000"/><path d="M734.91 71.47L734.91 58.97L739.91 57.41L734.91 58.97L734.91 60.53L737.41 59.75L734.91 60.53z" clip-path="url(#p9851077e19)" style="stroke: #000000"/><path d="M734.91 96.01L734.91 83.51L739.91 81.95L734.91 83.51z" clip-path="url(#p9851077e19)" style="stroke: #000000"/><path d="M734.91 120.56L734.91 108.06L734.91 110.4L737.41 109.62L734.91 110.4z" clip-path="url(#p9851077e19)" style="stroke: #000000"/><path d="M736.85 144.79L732.98 132.91L733.71 135.13L735.84 133.62L733.71 135.13z" clip-path="url(#p9851077e19)" style="stroke: #000000"/><path d="M740.1 166.89L729.73 159.9L731.68 161.21L732.43 158.7L731.68 161.21z" clip-path="url(#p9851077e19)" style="stroke: #000000"/><path d="M740.79 190.07L729.04 185.8L731.24 186.6L731.36 183.98L731.24 186.6z" clip-path="url(#p9851077e19)" style="stroke: #000000"/><path d="M740.95 210.86L728.88 214.09L731.14 213.49L729.74 211.28L731.14 213.49z" clip-path="url(#p9851077e19)" style="stroke: #000000"/><path d="M741.07 223.66L728.76 225.83L731.07 225.43L729.86 223.1L731.07 225.43z" clip-path="url(#p9851077e19)" style="stroke: #000000"/><path d="M741.16 237.02L728.66 237.02L731.01 237.02L730.23 234.52L731.01 237.02z" clip-path="url(#p9851077e19)" style="stroke: #000000"/><circle cx="734.91" cy="249.29" r="1.88" fill="none" clip-path="url(#p9851077e19)" style="stroke: #000000"/><circle cx="734.91" cy="261.56" r="1.88" fill="none" clip-path="url(#p9851077e19)" style="stroke: #000000"/><path d="M730.49 269.41L739.33 278.25L737.68 276.59L736.46 278.91L737.68 276.59z" clip-path="url(#p9851077e19)" style="stroke: #000000"/><path d="M734.91 279.85L734.91 292.35L734.91 290.01L732.41 290.79L734.91 290.01z" clip-path="url(#p9851077e19)" style="stroke: #000000"/><path d="M740.79 296.24L729.04 300.51L731.24 299.71L729.65 297.63L731.24 299.71z" clip-path="url(#p9851077e19)" style="stroke: #000000"/><circle cx="734.91" cy="310.64" r="1.88" fill="none" clip-path="url(#p9851077e19)" style="stroke: #000000"/></g><g id="matplotlib.axis_1"><g id="xtick_1"><g id="line2d_1"><defs><path id="m1504cfccaf" d="M0 0L0 3.5" style="stroke: #000000; stroke-width: 0.8"/></defs><g><use xlink:href="#m1504cfccaf" x="144.308571" y="301.32" style="stroke: #000000; stroke-width: 0.8"/></g></g></g><g id="xtick_2"><g id="line2d_2"><g><use xlink:href="#m1504cfccaf" x="275.554286" y="301.32" style="stroke: #000000; stroke-width: 0.8"/></g></g></g><g id="xtick_3"><g id="line2d_3"><g><use xlink:href="#m1504cfccaf" x="406.8" y="301.32" style="stroke: #000000; stroke-width: 0.8"/></g></g></g><g id="xtick_4"><g id="line2d_4"><g><use xlink:href="#m1504cfccaf" x="538.045714" y="301.32" style="stroke: #000000; stroke-width: 0.8"/></g></g></g><g id="xtick_5"><g id="line2d_5"><g><use xlink:href="#m1504cfccaf" x="669.291429" y="301.32" style="stroke: #000000; stroke-width: 0.8"/></g></g></g><g id="xtick_6"><g id="line2d_6"><defs><path id="m05db3bdf9b" d="M0 0L0 2" style="stroke: #000000; stroke-width: 0.6"/></defs><g><use xlink:href="#m05db3bdf9b" x="78.685714" y="301.32" style="stroke: #000000; stroke-width: 0.6"/></g></g></g><g id="xtick_7"><g id="line2d_7"><g><use xlink:href="#m05db3bdf9b" x="209.931429" y="301.32" style="stroke: #000000; stroke-width: 0.6"/></g></g></g><g id="xtick_8"><g id="line2d_8"><g><use xlink:href="#m05db3bdf9b" x="341.177143" y="301.32" style="stroke: #000000; stroke-width: 0.6"/></g></g></g><g id="xtick_9"><g id="line2d_9"><g><use xlink:href="#m05db3bdf9b" x="472.422857" y="301.32" style="stroke: #000000; stroke-width: 0.6"/></g></g></g><g id="xtick_10"><g id="line2d_10"><g><use xlink:href="#m05db3bdf9b" x="603.668571" y="301.32" style="stroke: #000000; stroke-width: 0.6"/></g></g></g><g id="xtick_11"><g id="line2d_11"><g><use xlink:href="#m05db3bdf9b" x="734.914286" y="301.32" style="stroke: #000000; stroke-width: 0.6"/></g></g></g></g><g id="matplotlib.axis_2"><g id="ytick_1"><g id="line2d_12"><path d="M62.28 40.68L751.32 40.68" clip-path="url(#p9851077e19)" style="fill: none; stroke: #b0b0b0; stroke-width: 0.8; stroke-linecap: square"/></g><g id="line2d_13"><defs><path id="m5d545ce8f8" d="M0 0L-3.5 0" style="stroke: #000000; stroke-width: 0.8"/></defs><g><use xlink:href="#m5d545ce8f8" x="62.28" y="40.68" style="stroke: #000000; stroke-width: 0.8"/></g></g><g id="text_1"><text style="font-size: 10px; font-family: 'DejaVu Sans', sans-serif; text-anchor: end" x="54.58" y="44.479219" transform="rotate(-0 54.58 44.479219)">400</text></g></g><g id="ytick_2"><g id="line2d_14"><path d="M62.28 89.76L751.32 89.76" clip-path="url(#p9851077e19)" style="fill: none; stroke: #b0b0b0; stroke-width: 0.8; stroke-linecap: square"/></g><g id="line2d_15"><g><use xlink:href="#m5d545ce8f8" x="62.28" y="89.764746" style="stroke: #000000; stroke-width: 0.8"/></g></g><g id="text_2"><text style="font-size: 10px; font-family: 'DejaVu Sans', sans-serif; text-anchor: end" x="54.58" y="93.563965" transform="rotate(-0 54.58 93.563965)">500</text></g></g><g id="ytick_3"><g id="line2d_16"><path d="M62.28 138.85L751.32 138.85" clip-path="url(#p9851077e19)" style="fill: none; stroke: #b0b0b0; stroke-width: 0.8; stroke-linecap: square"/></g><g id="line2d_17"><g><use xlink:href="#m5d545ce8f8" x="62.28" y="138.849492" style="stroke: #000000; stroke-width: 0.8"/></g></g><g id="text_3"><text style="font-size: 10px; font-family: 'DejaVu Sans', sans-serif; text-anchor: end" x="54.58" y="142.64871" transform="rotate(-0 54.58 142.64871)">600</text></g></g><g id="ytick_4"><g id="line2d_18"><path d="M62.28 187.93L751.32 187.93" clip-path="url(#p9851077e19)" style="fill: none; stroke: #b0b0b0; stroke-width: 0.8; stroke-linecap: square"/></g><g id="line2d_19"><g><use xlink:href="#m5d545ce8f8" x="62.28" y="187.934237" style="stroke: #000000; stroke-width: 0.8"/></g></g><g id="text_4"><text style="font-size: 10px; font-family: 'DejaVu Sans', sans-serif; text-anchor: end" x="54.58" y="191.733456" transform="rotate(-0 54.58 191.733456)">700</text></g></g><g id="ytick_5"><g id="line2d_20"><path d="M62.28 237.02L751.32 237.02" clip-path="url(#p9851077e19)" style="fill: none; stroke: #b0b0b0; stroke-width: 0.8; stroke-linecap: square"/></g><g id="line2d_21"><g><use xlink:href="#m5d545ce8f8" x="62.28" y="237.018983" style="stroke: #000000; stroke-width: 0.8"/></g></g><g id="text_5"><text style="font-size: 10px; font-family: 'DejaVu Sans', sans-serif; text-anchor: end" x="54.58" y="240.818202" transform="rotate(-0 54.58 240.818202)">800</text></g></g><g id="ytick_6"><g id="line2d_22"><path d="M62.28 286.1L751.32 286.1" clip-path="url(#p9851077e19)" style="fill: none; stroke: #b0b0b0; stroke-width: 0.8; stroke-linecap: square"/></g><g id="line2d_23"><g><use xlink:href="#m5d545ce8f8" x="62.28" y="286.103729" style="stroke: #000000; stroke-width: 0.8"/></g></g><g id="text_6"><text style="font-size: 10px; font-family: 'DejaVu Sans', sans-serif; text-anchor: end" x="54.58" y="289.902948" transform="rotate(-0 54.58 289.902948)">900</text></g></g><g id="text_7"><!-- temperature [$^\circ$C], upper wind --><g transform="translate(16.504922 244.7) rotate(-90)"><text><tspan x="0.00 3.92 10.07 19.81 26.16 32.31 36.43 42.55 46.47 52.81 56.92 63.08 66.25 77.63 84.62 88.52 91.70 94.88 101.21 107.56 113.91 120.06 124.17 127.35 135.53 138.31 144.65" y="-0.40625" style="font-size: 10px; font-family: 'DejaVu Sans', sans-serif; white-space: pre">temperature [C], upper wind</tspan><tspan x="71.62" y="-4.234375" style="font-size: 7px; font-family: 'DejaVu Sans', sans-serif; white-space: pre">∘</tspan></text></g><text style="font-size: 10px; font-family: 'DejaVu Sans', sans-serif" transform="translate(28.862813 205.304688) rotate(-90)">pressure [hPa]</text></g></g><g id="line2d_24"><path d="M576 37.44L579.38 40.68L586.51 43.92L593.64 40.68L596.88 37.44" clip-path="url(#p9851077e19)" style="fill: none; stroke: #46039f; stroke-width: 1.5; stroke-linecap: square"/></g><g id="line2d_25"><path d="M177.12 37.44L182.16 40.68L187.92 42.48L210.02 47.52L214.92 47.74" clip-path="url(#p9851077e19)" style="fill: none; stroke: #7201a8; stroke-width: 1.5; stroke-linecap: square"/></g><g id="line2d_26"><path d="M236.52 47.23L242.78 47.3L273.6 49.1L291.38 51.34L339.05 51.34L372.74 53.21L389.52 51.34L406.37 50.98L423.22 52.49L475.2 49.54L503.64 48.31L537.98 48.31L553.39 51.41L569.95 56.81L586.51 66.82L603.07 65.59L619.7 55.44L641.02 52.13L669.38 47.81L683.64 48.82L700.2 46.66L719.14 43.56L734.83 38.88" clip-path="url(#p9851077e19)" style="fill: none; stroke: #7201a8; stroke-width: 1.5; stroke-linecap: square"/></g><g id="line2d_27"><path d="M77.76 54.36L109.44 55.08L126.22 57.31L144 61.56L165.53 64.15L184.18 66.89L209.45 72.07L231.12 72.5" clip-path="url(#p9851077e19)" style="fill: none; stroke: #9c179e; stroke-width: 1.5; stroke-linecap: square"/></g><g id="line2d_28"><path d="M253.44 74.02L273.6 75.67L291.38 77.54L339.05 78.62L355.9 80.5L389.52 75.67L406.37 74.88L423.22 75.67L471.82 75.24L503.64 71.5L537.98 72L553.39 75.1L569.95 80.5L586.51 91.66L603.07 96.41L619.7 83.38L636.26 77.47L669.38 72L683.64 73.44L719.14 67.97L734.83 62.06" clip-path="url(#p9851077e19)" style="fill: none; stroke: #9c179e; stroke-width: 1.5; stroke-linecap: square"/></g><g id="line2d_29"><path d="M77.76 79.42L109.44 80.14L126.22 82.66L144 86.83L165.53 90.36L184.18 93.31L209.45 96.7L231.12 98.42" clip-path="url(#p9851077e19)" style="fill: none; stroke: #bd3786; stroke-width: 1.5; stroke-linecap: square"/></g><g id="line2d_30"><path d="M253.44 100.73L273.6 103.68L291.38 106.13L339.05 108L355.9 111.38L372.74 111.74L389.52 106.13L406.37 104.26L453.17 105.55L475.2 104.18L503.64 98.06L537.98 98.06L553.39 102.31L569.95 111.31L586.51 122.47L603.07 126.5L619.7 121.25L636.26 111.31L652.82 101.16L669.38 98.78L683.64 101.16L700.2 98.78L719.14 92.88L734.83 85.75" clip-path="url(#p9851077e19)" style="fill: none; stroke: #bd3786; stroke-width: 1.5; stroke-linecap: square"/></g><g id="line2d_31"><path d="M77.76 105.84L109.44 107.71L126.22 110.52L144 114.77L165.53 118.44L184.18 121.18L209.45 123.55L247.68 127.87" clip-path="url(#p9851077e19)" style="fill: none; stroke: #d8576b; stroke-width: 1.5; stroke-linecap: square"/></g><g id="line2d_32"><path d="M270.22 131.47L291.38 134.71L339.05 139.82L355.9 145.44L372.74 151.92L389.52 144.07L406.37 141.12L453.17 138.46L475.2 137.09L503.64 136.08L537.98 132.34L553.39 135.43L569.95 144.94L586.51 157.9L603.07 160.27L619.7 159.12L636.26 150.84L651.67 131.9L669.38 132.34L684.79 135.43L700.2 132.34L726.26 122.4L734.83 118.44" clip-path="url(#p9851077e19)" style="fill: none; stroke: #d8576b; stroke-width: 1.5; stroke-linecap: square"/></g><g id="line2d_33"><path d="M77.76 133.06L94.46 134.57L111.24 138.31L128.09 142.06L144 145.8L161.78 150.48L176.76 153.29L193.54 155.16L210.38 156.6L227.23 159.77L242.21 163.51L257.11 166.32L274.9 171.94L282.96 180.72" clip-path="url(#p9851077e19)" style="fill: none; stroke: #ed7953; stroke-width: 1.5; stroke-linecap: square"/></g><g id="line2d_34"><path d="M293.76 193.46L307.3 199.08L324.07 201.31L356.83 193.46L373.68 193.82L389.52 193.46L406.37 193.82L423.22 199.08L438.19 200.59L455.9 198.14L471.82 181.3L489.38 175.68L520.2 172.15L537.98 173.3L553.39 178.06L569.95 183.96L586.51 204.84L603.07 203.4L619.7 201.24L636.26 192.96L652.82 183.53L669.38 177.34L700.2 170.93L719.14 163.15L734.83 157.1" clip-path="url(#p9851077e19)" style="fill: none; stroke: #ed7953; stroke-width: 1.5; stroke-linecap: square"/></g><g id="line2d_35"><path d="M77.76 167.98L94.46 172.87L111.24 178.49L128.09 183.74L144 186.91L159.91 190.66L169.27 194.4" clip-path="url(#p9851077e19)" style="fill: none; stroke: #fb9f3a; stroke-width: 1.5; stroke-linecap: square"/></g><g id="line2d_36"><path d="M183.96 198.22L210.38 200.59L230.98 211.82L242.21 214.99L256.18 224.35L249.7 236.45L258.98 247.32L274.9 244.37L291.38 243.58L323.14 239.26L356.83 237.96L373.68 238.75L389.52 236.88L406.37 238.32L438.19 239.26L455.9 242.5L471.82 238.32L489.38 235.58L506.02 229.46L514.3 224.21L522.58 223.06L537.98 223.78L553.39 226.58L569.95 246.02L586.51 244.37L619.7 243.65L636.26 245.59L651.67 243.65L659.95 237.24L669.38 224.21L683.64 221.4L700.2 217.15L719.14 213.12L734.83 207.79" clip-path="url(#p9851077e19)" style="fill: none; stroke: #fb9f3a; stroke-width: 1.5; stroke-linecap: square"/></g><g id="line2d_37"><path d="M172.8 296.93L165.6 297.22L158.04 298.22L165.6 299.23L177.12 299.95L188.64 299.66L196.7 298.08L188.64 297.07L181.44 296.93" clip-path="url(#p9851077e19)" style="fill: none; stroke: #fb9f3a; stroke-width: 1.5; stroke-linecap: square"/></g><g id="line2d_38"><path d="M77.76 218.16L94.46 221.54L111.24 226.22L128.09 233.64L144 234.58L150.55 235.51L159.91 241.13L167.4 248.62L173.95 261.14L170.21 273.53L159.91 276.12L144 279.14L134.64 280.8" clip-path="url(#p9851077e19)" style="fill: none; stroke: #fdca26; stroke-width: 1.5; stroke-linecap: square"/></g><g id="line2d_39"><path d="M119.88 284.69L111.24 286.06L94.46 286.56L77.76 286.99" clip-path="url(#p9851077e19)" style="fill: none; stroke: #fdca26; stroke-width: 1.5; stroke-linecap: square"/></g><g id="line2d_40"><path d="M316.8 303.84L320.33 301.68L340.92 287.93L356.83 286.56L373.68 286.56L389.52 291.67L406.37 299.16L411.84 301.68L414.72 303.84" clip-path="url(#p9851077e19)" style="fill: none; stroke: #fdca26; stroke-width: 1.5; stroke-linecap: square"/></g><g id="line2d_41"><path d="M459.36 303.84L462.46 301.68L475.2 291.02L488.23 282.96L504.79 296.5L521.35 281.09L537.98 279.22L553.39 280.58L569.95 283.46L586.51 286.56L604.8 289.3" clip-path="url(#p9851077e19)" style="fill: none; stroke: #fdca26; stroke-width: 1.5; stroke-linecap: square"/></g><g id="line2d_42"><path d="M619.2 283.46L636.26 285.34L652.82 286.99L669.38 286.99L684.79 287.71L701.35 284.62L714.38 269.28L723.89 259.27L734.83 253.73" clip-path="url(#p9851077e19)" style="fill: none; stroke: #fdca26; stroke-width: 1.5; stroke-linecap: square"/></g><g id="text_8"><text style="font-size: 9px; font-family: 'DejaVu Sans', sans-serif; text-anchor: middle; fill: #7201a8" x="225.72" y="50.651438" transform="rotate(-0 225.72 50.651438)">-30</text></g><g id="text_9"><text style="font-size: 9px; font-family: 'DejaVu Sans', sans-serif; text-anchor: middle; fill: #9c179e" x="242.208" y="75.635438" transform="rotate(-0 242.208 75.635438)">-24</text></g><g id="text_10"><text style="font-size: 9px; font-family: 'DejaVu Sans', sans-serif; text-anchor: middle; fill: #bd3786" x="242.208" y="102.131438" transform="rotate(-0 242.208 102.131438)">-18</text></g><g id="text_11"><text style="font-size: 9px; font-family: 'DejaVu Sans', sans-serif; text-anchor: middle; fill: #d8576b" x="258.984" y="132.083438" transform="rotate(-0 258.984 132.083438)">-12</text></g><g id="text_12"><text style="font-size: 9px; font-family: 'DejaVu Sans', sans-serif; text-anchor: middle; fill: #ed7953" x="289.596975" y="189.448957" transform="rotate(-52 289.596975 189.448957)">-6</text></g><g id="text_13"><text style="font-size: 9px; font-family: 'DejaVu Sans', sans-serif; text-anchor: middle; fill: #fb9f3a" x="177.01959" y="199.317833" transform="rotate(-6 177.01959 199.317833)">0</text></g><g id="text_14"><text style="font-size: 9px; font-family: 'DejaVu Sans', sans-serif; text-anchor: middle; fill: #fb9f3a" x="177.12" y="298.403438" transform="rotate(-0 177.12 298.403438)">0</text></g><g id="text_15"><text style="font-size: 9px; font-family: 'DejaVu Sans', sans-serif; text-anchor: middle; fill: #fdca26" x="128.073628" y="284.339269" transform="rotate(-8 128.073628 284.339269)">6</text></g><g id="text_16"><text style="font-size: 9px; font-family: 'DejaVu Sans', sans-serif; text-anchor: middle; fill: #fdca26" x="613.236336" y="287.405168" transform="rotate(-12 613.236336 287.405168)">6</text></g><g id="line2d_43"><path d="M144.31 301.32L144.31 40.68" clip-path="url(#p9851077e19)" style="fill: none; stroke-dasharray: 1.85,0.8; stroke-dashoffset: 0; stroke: #000000; stroke-width: 0.5"/></g><g id="line2d_44"><path d="M275.55 301.32L275.55 40.68" clip-path="url(#p9851077e19)" style="fill: none; stroke-dasharray: 1.85,0.8; stroke-dashoffset: 0; stroke: #000000; stroke-width: 0.5"/></g><g id="line2d_45"><path d="M406.8 301.32L406.8 40.68" clip-path="url(#p9851077e19)" style="fill: none; stroke-dasharray: 1.85,0.8; stroke-dashoffset: 0; stroke: #000000; stroke-width: 0.5"/></g><g id="line2d_46"><path d="M538.05 301.32L538.05 40.68" clip-path="url(#p9851077e19)" style="fill: none; stroke-dasharray: 1.85,0.8; stroke-dashoffset: 0; stroke: #000000; stroke-width: 0.5"/></g><g id="line2d_47"><path d="M669.29 301.32L669.29 40.68" clip-path="url(#p9851077e19)" style="fill: none; stroke-dasharray: 1.85,0.8; stroke-dashoffset: 0; stroke: #000000; stroke-width: 0.5"/></g><g id="patch_3"><path d="M62.28 301.32L62.28 40.68" style="fill: none; stroke: #000000; stroke-width: 0.8; stroke-linejoin: miter; stroke-linecap: square"/></g><g id="patch_4"><path d="M751.32 301.32L751.32 40.68" style="fill: none; stroke: #000000; stroke-width: 0.8; stroke-linejoin: miter; stroke-linecap: square"/></g><g id="patch_5"><path d="M62.28 301.32L751.32 301.32" style="fill: none; stroke: #000000; stroke-width: 0.8; stroke-linejoin: miter; stroke-linecap: square"/></g><g id="patch_6"><path d="M62.28 40.68L751.32 40.68" style="fill: none; stroke: #000000; stroke-width: 0.8; stroke-linejoin: miter; stroke-linecap: square"/></g><g id="wmark"><text style="font-size: 8.45px; font-family: 'DejaVu Sans', sans-serif; text-anchor: start; fill: #ffffff; opacity: 0.45" x="80.64" y="296.064" transform="translate(80.64 296.064) scale(1 0.78) translate(-80.64 -296.064)">© Meteorological Institute Munich</text></g></g><g id="axes_2"><g id="patch_7"><path d="M62.28 484.92L751.32 484.92L751.32 316.44L62.28 316.44z" style="fill: #ffffff"/></g><g id="FillBetweenPolyCollection_1"><defs><path id="m75d957c5a8" d="M78.69 -347.21L78.69 -347.21L95.09 -349.26L111.5 -343.69L127.9 -341.8L144.31 -342.38L160.71 -342.38L177.12 -339.51L193.53 -344.18L209.93 -359.58L226.34 -361.79L242.74 -358.92L259.15 -359.58L275.55 -362.36L291.96 -369.82L308.37 -373.42L324.77 -394.31L341.18 -407.08L357.58 -403.32L373.99 -393.4L390.39 -391.11L406.8 -389.06L423.21 -386.12L439.61 -381.04L456.02 -387.02L472.42 -407.82L488.83 -403.32L505.23 -378.25L521.64 -367.6L538.05 -361.38L554.45 -364.57L570.86 -371.7L587.26 -400.69L603.67 -416.42L620.07 -417.73L636.48 -380.3L652.89 -359.58L669.29 -344.34L685.7 -346.64L702.1 -345.9L718.51 -371.04L734.91 -417.73L734.91 -369.41L734.91 -369.41L718.51 -355.15L702.1 -335.42L685.7 -338.77L669.29 -339.43L652.89 -350.16L636.48 -360.31L620.07 -368.91L603.67 -384.07L587.26 -379.15L570.86 -361.38L554.45 -364.57L538.05 -360.07L521.64 -366.13L505.23 -373.01L488.83 -380.3L472.42 -383.33L456.02 -381.61L439.61 -379.56L423.21 -382.35L406.8 -384.8L390.39 -386.85L373.99 -387.43L357.58 -390.37L341.18 -385.38L324.77 -376.78L308.37 -368.34L291.96 -364L275.55 -356.55L259.15 -353.76L242.74 -354.25L226.34 -354.5L209.93 -350.73L193.53 -344.18L177.12 -339.51L160.71 -342.38L144.31 -342.38L127.9 -340.33L111.5 -343.69L95.09 -349.26L78.69 -347.21z"/></defs><g clip-path="url(#p233d145e39)"><use xlink:href="#m75d957c5a8" x="0" y="795.6" style="fill: #808080; fill-opacity: 0.2"/></g></g><g id="matplotlib.axis_3"><g id="xtick_12"><g id="line2d_48"><g><use xlink:href="#m1504cfccaf" x="144.308571" y="484.92" style="stroke: #000000; stroke-width: 0.8"/></g></g></g><g id="xtick_13"><g id="line2d_49"><g><use xlink:href="#m1504cfccaf" x="275.554286" y="484.92" style="stroke: #000000; stroke-width: 0.8"/></g></g></g><g id="xtick_14"><g id="line2d_50"><g><use xlink:href="#m1504cfccaf" x="406.8" y="484.92" style="stroke: #000000; stroke-width: 0.8"/></g></g></g><g id="xtick_15"><g id="line2d_51"><g><use xlink:href="#m1504cfccaf" x="538.045714" y="484.92" style="stroke: #000000; stroke-width: 0.8"/></g></g></g><g id="xtick_16"><g id="line2d_52"><g><use xlink:href="#m1504cfccaf" x="669.291429" y="484.92" style="stroke: #000000; stroke-width: 0.8"/></g></g></g><g id="xtick_17"><g id="line2d_53"><g><use xlink:href="#m05db3bdf9b" x="78.685714" y="484.92" style="stroke: #000000; stroke-width: 0.6"/></g></g></g><g id="xtick_18"><g id="line2d_54"><g><use xlink:href="#m05db3bdf9b" x="209.931429" y="484.92" style="stroke: #000000; stroke-width: 0.6"/></g></g></g><g id="xtick_19"><g id="line2d_55"><g><use xlink:href="#m05db3bdf9b" x="341.177143" y="484.92" style="stroke: #000000; stroke-width: 0.6"/></g></g></g><g id="xtick_20"><g id="line2d_56"><g><use xlink:href="#m05db3bdf9b" x="472.422857" y="484.92" style="stroke: #000000; stroke-width: 0.6"/></g></g></g><g id="xtick_21"><g id="line2d_57"><g><use xlink:href="#m05db3bdf9b" x="603.668571" y="484.92" style="stroke: #000000; stroke-width: 0.6"/></g></g></g><g id="xtick_22"><g id="line2d_58"><g><use xlink:href="#m05db3bdf9b" x="734.914286" y="484.92" style="stroke: #000000; stroke-width: 0.6"/></g></g></g></g><g id="matplotlib.axis_4"><g id="ytick_7"><g id="line2d_59"><path d="M62.28 464.85L751.32 464.85" clip-path="url(#p233d145e39)" style="fill: none; stroke: #b0b0b0; stroke-width: 0.8; stroke-linecap: square"/></g><g id="line2d_60"><g><use xlink:href="#m5d545ce8f8" x="62.28" y="464.853106" style="stroke: #000000; stroke-width: 0.8"/></g></g><g id="text_17"><text style="font-size: 10px; font-family: 'DejaVu Sans', sans-serif; text-anchor: end" x="54.58" y="468.652325" transform="rotate(-0 54.58 468.652325)">0</text></g></g><g id="ytick_8"><g id="line2d_61"><path d="M62.28 423.9L751.32 423.9" clip-path="url(#p233d145e39)" style="fill: none; stroke: #b0b0b0; stroke-width: 0.8; stroke-linecap: square"/></g><g id="line2d_62"><g><use xlink:href="#m5d545ce8f8" x="62.28" y="423.900263" style="stroke: #000000; stroke-width: 0.8"/></g></g><g id="text_18"><text style="font-size: 10px; font-family: 'DejaVu Sans', sans-serif; text-anchor: end" x="54.58" y="427.699481" transform="rotate(-0 54.58 427.699481)">5</text></g></g><g id="ytick_9"><g id="line2d_63"><path d="M62.28 382.95L751.32 382.95" clip-path="url(#p233d145e39)" style="fill: none; stroke: #b0b0b0; stroke-width: 0.8; stroke-linecap: square"/></g><g id="line2d_64"><g><use xlink:href="#m5d545ce8f8" x="62.28" y="382.947419" style="stroke: #000000; stroke-width: 0.8"/></g></g><g id="text_19"><text style="font-size: 10px; font-family: 'DejaVu Sans', sans-serif; text-anchor: end" x="54.58" y="386.746637" transform="rotate(-0 54.58 386.746637)">10</text></g></g><g id="ytick_10"><g id="line2d_65"><path d="M62.28 341.99L751.32 341.99" clip-path="url(#p233d145e39)" style="fill: none; stroke: #b0b0b0; stroke-width: 0.8; stroke-linecap: square"/></g><g id="line2d_66"><g><use xlink:href="#m5d545ce8f8" x="62.28" y="341.994575" style="stroke: #000000; stroke-width: 0.8"/></g></g><g id="text_20"><text style="font-size: 10px; font-family: 'DejaVu Sans', sans-serif; text-anchor: end" x="54.58" y="345.793793" transform="rotate(-0 54.58 345.793793)">15</text></g></g><g id="text_21"><!-- temperature [$^\circ$C] --><g transform="translate(34.105 446.42) rotate(-90)"><text><tspan x="0.00 3.92 10.07 19.81 26.16 32.31 36.43 42.55 46.47 52.81 56.92 63.08 66.25 77.63 84.62" y="-0.40625" style="font-size: 10px; font-family: 'DejaVu Sans', sans-serif; white-space: pre">temperature [C]</tspan><tspan x="71.62" y="-4.234375" style="font-size: 7px; font-family: 'DejaVu Sans', sans-serif; white-space: pre">∘</tspan></text></g></g></g><g id="line2d_67"><path d="M78.69 448.39L95.09 446.34L111.5 451.91L127.9 453.8L144.31 453.22L160.71 453.22L177.12 456.09L193.53 451.42L209.93 436.02L226.34 433.81L242.74 436.68L259.15 436.02L275.55 433.24L291.96 425.78L308.37 422.18L324.77 401.29L341.18 388.52L357.58 392.28L373.99 402.2L390.39 404.49L406.8 406.54L423.21 409.48L439.61 414.56L456.02 408.58L472.42 387.78L488.83 392.28L505.23 417.35L521.64 428L538.05 434.22L554.45 431.03L570.86 423.9L587.26 394.91L603.67 379.18L620.07 377.87L636.48 415.3L652.89 436.02L669.29 451.26L685.7 448.96L702.1 449.7L718.51 424.56L734.91 377.87" clip-path="url(#p233d145e39)" style="fill: none; stroke: #000000; stroke-width: 1.5; stroke-linecap: square"/><defs><path id="m7b5aa3837b" d="M0 1.75C0.46 1.75 0.91 1.57 1.24 1.24C1.57 0.91 1.75 0.46 1.75 0C1.75 -0.46 1.57 -0.91 1.24 -1.24C0.91 -1.57 0.46 -1.75 0 -1.75C-0.46 -1.75 -0.91 -1.57 -1.24 -1.24C-1.57 -0.91 -1.75 -0.46 -1.75 0C-1.75 0.46 -1.57 0.91 -1.24 1.24C-0.91 1.57 -0.46 1.75 0 1.75z" style="stroke: #000000"/></defs><g clip-path="url(#p233d145e39)"><use xlink:href="#m7b5aa3837b" x="78.685714" y="448.390063" style="stroke: #000000"/><use xlink:href="#m7b5aa3837b" x="95.091429" y="446.342421" style="stroke: #000000"/><use xlink:href="#m7b5aa3837b" x="111.497143" y="451.912008" style="stroke: #000000"/><use xlink:href="#m7b5aa3837b" x="127.902857" y="453.795839" style="stroke: #000000"/><use xlink:href="#m7b5aa3837b" x="144.308571" y="453.222499" style="stroke: #000000"/><use xlink:href="#m7b5aa3837b" x="160.714286" y="453.222499" style="stroke: #000000"/><use xlink:href="#m7b5aa3837b" x="177.12" y="456.089198" style="stroke: #000000"/><use xlink:href="#m7b5aa3837b" x="193.525714" y="451.420574" style="stroke: #000000"/><use xlink:href="#m7b5aa3837b" x="209.931429" y="436.022304" style="stroke: #000000"/><use xlink:href="#m7b5aa3837b" x="226.337143" y="433.810851" style="stroke: #000000"/><use xlink:href="#m7b5aa3837b" x="242.742857" y="436.67755" style="stroke: #000000"/><use xlink:href="#m7b5aa3837b" x="259.148571" y="436.022304" style="stroke: #000000"/><use xlink:href="#m7b5aa3837b" x="275.554286" y="433.237511" style="stroke: #000000"/><use xlink:href="#m7b5aa3837b" x="291.96" y="425.784093" style="stroke: #000000"/><use xlink:href="#m7b5aa3837b" x="308.365714" y="422.180243" style="stroke: #000000"/><use xlink:href="#m7b5aa3837b" x="324.771429" y="401.294293" style="stroke: #000000"/><use xlink:href="#m7b5aa3837b" x="341.177143" y="388.517005" style="stroke: #000000"/><use xlink:href="#m7b5aa3837b" x="357.582857" y="392.284667" style="stroke: #000000"/><use xlink:href="#m7b5aa3837b" x="373.988571" y="402.195255" style="stroke: #000000"/><use xlink:href="#m7b5aa3837b" x="390.394286" y="404.488614" style="stroke: #000000"/><use xlink:href="#m7b5aa3837b" x="406.8" y="406.536257" style="stroke: #000000"/><use xlink:href="#m7b5aa3837b" x="423.205714" y="409.484861" style="stroke: #000000"/><use xlink:href="#m7b5aa3837b" x="439.611429" y="414.563014" style="stroke: #000000"/><use xlink:href="#m7b5aa3837b" x="456.017143" y="408.583899" style="stroke: #000000"/><use xlink:href="#m7b5aa3837b" x="472.422857" y="387.779854" style="stroke: #000000"/><use xlink:href="#m7b5aa3837b" x="488.828571" y="392.284667" style="stroke: #000000"/><use xlink:href="#m7b5aa3837b" x="505.234286" y="417.347807" style="stroke: #000000"/><use xlink:href="#m7b5aa3837b" x="521.64" y="427.995547" style="stroke: #000000"/><use xlink:href="#m7b5aa3837b" x="538.045714" y="434.220379" style="stroke: #000000"/><use xlink:href="#m7b5aa3837b" x="554.451429" y="431.026057" style="stroke: #000000"/><use xlink:href="#m7b5aa3837b" x="570.857143" y="423.900263" style="stroke: #000000"/><use xlink:href="#m7b5aa3837b" x="587.262857" y="394.905649" style="stroke: #000000"/><use xlink:href="#m7b5aa3837b" x="603.668571" y="379.179757" style="stroke: #000000"/><use xlink:href="#m7b5aa3837b" x="620.074286" y="377.869266" style="stroke: #000000"/><use xlink:href="#m7b5aa3837b" x="636.48" y="415.300165" style="stroke: #000000"/><use xlink:href="#m7b5aa3837b" x="652.885714" y="436.022304" style="stroke: #000000"/><use xlink:href="#m7b5aa3837b" x="669.291429" y="451.256762" style="stroke: #000000"/><use xlink:href="#m7b5aa3837b" x="685.697143" y="448.963403" style="stroke: #000000"/><use xlink:href="#m7b5aa3837b" x="702.102857" y="449.700554" style="stroke: #000000"/><use xlink:href="#m7b5aa3837b" x="718.508571" y="424.555508" style="stroke: #000000"/><use xlink:href="#m7b5aa3837b" x="734.914286" y="377.869266" style="stroke: #000000"/></g></g><g id="line2d_68"><path d="M78.69 448.39L95.09 446.34L111.5 451.91L127.9 455.27L144.31 453.22L160.71 453.22L177.12 456.09L193.53 451.42L209.93 444.87L226.34 441.1L242.74 441.35L259.15 441.84L275.55 439.05L291.96 431.6L308.37 427.26L324.77 418.82L341.18 410.22L357.58 405.23L373.99 408.17L390.39 408.75L406.8 410.8L423.21 413.25L439.61 416.04L456.02 413.99L472.42 412.27L488.83 415.3L505.23 422.59L521.64 429.47L538.05 435.53L554.45 431.03L570.86 434.22L587.26 416.45L603.67 411.53L620.07 426.69L636.48 435.29L652.89 445.44L669.29 456.17L685.7 456.83L702.1 460.18L718.51 440.45L734.91 426.19" clip-path="url(#p233d145e39)" style="fill: none; stroke: #008000; stroke-width: 1.5; stroke-linecap: square"/><defs><path id="me695f6083a" d="M0 1.75C0.46 1.75 0.91 1.57 1.24 1.24C1.57 0.91 1.75 0.46 1.75 0C1.75 -0.46 1.57 -0.91 1.24 -1.24C0.91 -1.57 0.46 -1.75 0 -1.75C-0.46 -1.75 -0.91 -1.57 -1.24 -1.24C-1.57 -0.91 -1.75 -0.46 -1.75 0C-1.75 0.46 -1.57 0.91 -1.24 1.24C-0.91 1.57 -0.46 1.75 0 1.75z" style="stroke: #008000"/></defs><g clip-path="url(#p233d145e39)"><use xlink:href="#me695f6083a" x="78.685714" y="448.390063" style="fill: #008000; stroke: #008000"/><use xlink:href="#me695f6083a" x="95.091429" y="446.342421" style="fill: #008000; stroke: #008000"/><use xlink:href="#me695f6083a" x="111.497143" y="451.912008" style="fill: #008000; stroke: #008000"/><use xlink:href="#me695f6083a" x="127.902857" y="455.270141" style="fill: #008000; stroke: #008000"/><use xlink:href="#me695f6083a" x="144.308571" y="453.222499" style="fill: #008000; stroke: #008000"/><use xlink:href="#me695f6083a" x="160.714286" y="453.222499" style="fill: #008000; stroke: #008000"/><use xlink:href="#me695f6083a" x="177.12" y="456.089198" style="fill: #008000; stroke: #008000"/><use xlink:href="#me695f6083a" x="193.525714" y="451.420574" style="fill: #008000; stroke: #008000"/><use xlink:href="#me695f6083a" x="209.931429" y="444.868119" style="fill: #008000; stroke: #008000"/><use xlink:href="#me695f6083a" x="226.337143" y="441.100457" style="fill: #008000; stroke: #008000"/><use xlink:href="#me695f6083a" x="242.742857" y="441.346174" style="fill: #008000; stroke: #008000"/><use xlink:href="#me695f6083a" x="259.148571" y="441.837608" style="fill: #008000; stroke: #008000"/><use xlink:href="#me695f6083a" x="275.554286" y="439.052815" style="fill: #008000; stroke: #008000"/><use xlink:href="#me695f6083a" x="291.96" y="431.599397" style="fill: #008000; stroke: #008000"/><use xlink:href="#me695f6083a" x="308.365714" y="427.258396" style="fill: #008000; stroke: #008000"/><use xlink:href="#me695f6083a" x="324.771429" y="418.82211" style="fill: #008000; stroke: #008000"/><use xlink:href="#me695f6083a" x="341.177143" y="410.222013" style="fill: #008000; stroke: #008000"/><use xlink:href="#me695f6083a" x="357.582857" y="405.225766" style="fill: #008000; stroke: #008000"/><use xlink:href="#me695f6083a" x="373.988571" y="408.17437" style="fill: #008000; stroke: #008000"/><use xlink:href="#me695f6083a" x="390.394286" y="408.74771" style="fill: #008000; stroke: #008000"/><use xlink:href="#me695f6083a" x="406.8" y="410.795352" style="fill: #008000; stroke: #008000"/><use xlink:href="#me695f6083a" x="423.205714" y="413.252523" style="fill: #008000; stroke: #008000"/><use xlink:href="#me695f6083a" x="439.611429" y="416.037316" style="fill: #008000; stroke: #008000"/><use xlink:href="#me695f6083a" x="456.017143" y="413.989674" style="fill: #008000; stroke: #008000"/><use xlink:href="#me695f6083a" x="472.422857" y="412.269655" style="fill: #008000; stroke: #008000"/><use xlink:href="#me695f6083a" x="488.828571" y="415.300165" style="fill: #008000; stroke: #008000"/><use xlink:href="#me695f6083a" x="505.234286" y="422.589772" style="fill: #008000; stroke: #008000"/><use xlink:href="#me695f6083a" x="521.64" y="429.469849" style="fill: #008000; stroke: #008000"/><use xlink:href="#me695f6083a" x="538.045714" y="435.53087" style="fill: #008000; stroke: #008000"/><use xlink:href="#me695f6083a" x="554.451429" y="431.026057" style="fill: #008000; stroke: #008000"/><use xlink:href="#me695f6083a" x="570.857143" y="434.220379" style="fill: #008000; stroke: #008000"/><use xlink:href="#me695f6083a" x="587.262857" y="416.446845" style="fill: #008000; stroke: #008000"/><use xlink:href="#me695f6083a" x="603.668571" y="411.532504" style="fill: #008000; stroke: #008000"/><use xlink:href="#me695f6083a" x="620.074286" y="426.685056" style="fill: #008000; stroke: #008000"/><use xlink:href="#me695f6083a" x="636.48" y="435.285153" style="fill: #008000; stroke: #008000"/><use xlink:href="#me695f6083a" x="652.885714" y="445.441458" style="fill: #008000; stroke: #008000"/><use xlink:href="#me695f6083a" x="669.291429" y="456.171104" style="fill: #008000; stroke: #008000"/><use xlink:href="#me695f6083a" x="685.697143" y="456.826349" style="fill: #008000; stroke: #008000"/><use xlink:href="#me695f6083a" x="702.102857" y="460.184482" style="fill: #008000; stroke: #008000"/><use xlink:href="#me695f6083a" x="718.508571" y="440.445211" style="fill: #008000; stroke: #008000"/><use xlink:href="#me695f6083a" x="734.914286" y="426.193622" style="fill: #008000; stroke: #008000"/></g></g><g id="line2d_69"><path d="M78.69 382.95L95.09 383.52L111.5 389.83L127.9 395.07L144.31 400.15L160.71 410.3L177.12 416.61L193.53 423.16L209.93 425.37L226.34 444.87L242.74 447.65L259.15 449.7L275.55 449.7L291.96 447.49L308.37 443.15L324.77 443.15L341.18 440.36L357.58 440.36L373.99 440.36L390.39 441.84L406.8 443.15L423.21 441.84L439.61 444.62L456.02 444.62L472.42 440.94L488.83 437.58L505.23 436.02L521.64 436.02L538.05 433.81L554.45 436.02L570.86 444.87L587.26 446.75L603.67 446.75L620.07 444.87L636.48 448.06L652.89 448.88L669.29 443.07L685.7 442.33L702.1 428.9L718.51 418.66L734.91 410.14" clip-path="url(#p233d145e39)" style="fill: none; stroke: #ee82ee; stroke-width: 1.5; stroke-linecap: square"/><defs><path id="m2fdd4576b7" d="M0 1.75C0.46 1.75 0.91 1.57 1.24 1.24C1.57 0.91 1.75 0.46 1.75 0C1.75 -0.46 1.57 -0.91 1.24 -1.24C0.91 -1.57 0.46 -1.75 0 -1.75C-0.46 -1.75 -0.91 -1.57 -1.24 -1.24C-1.57 -0.91 -1.75 -0.46 -1.75 0C-1.75 0.46 -1.57 0.91 -1.24 1.24C-0.91 1.57 -0.46 1.75 0 1.75z" style="stroke: #ee82ee"/></defs><g clip-path="url(#p233d145e39)"><use xlink:href="#m2fdd4576b7" x="78.685714" y="382.947419" style="fill: #ee82ee; stroke: #ee82ee"/><use xlink:href="#m2fdd4576b7" x="95.091429" y="383.520758" style="fill: #ee82ee; stroke: #ee82ee"/><use xlink:href="#m2fdd4576b7" x="111.497143" y="389.827496" style="fill: #ee82ee; stroke: #ee82ee"/><use xlink:href="#m2fdd4576b7" x="127.902857" y="395.06946" style="fill: #ee82ee; stroke: #ee82ee"/><use xlink:href="#m2fdd4576b7" x="144.308571" y="400.147613" style="fill: #ee82ee; stroke: #ee82ee"/><use xlink:href="#m2fdd4576b7" x="160.714286" y="410.303918" style="fill: #ee82ee; stroke: #ee82ee"/><use xlink:href="#m2fdd4576b7" x="177.12" y="416.610656" style="fill: #ee82ee; stroke: #ee82ee"/><use xlink:href="#m2fdd4576b7" x="193.525714" y="423.163111" style="fill: #ee82ee; stroke: #ee82ee"/><use xlink:href="#m2fdd4576b7" x="209.931429" y="425.374565" style="fill: #ee82ee; stroke: #ee82ee"/><use xlink:href="#m2fdd4576b7" x="226.337143" y="444.868119" style="fill: #ee82ee; stroke: #ee82ee"/><use xlink:href="#m2fdd4576b7" x="242.742857" y="447.652912" style="fill: #ee82ee; stroke: #ee82ee"/><use xlink:href="#m2fdd4576b7" x="259.148571" y="449.700554" style="fill: #ee82ee; stroke: #ee82ee"/><use xlink:href="#m2fdd4576b7" x="275.554286" y="449.700554" style="fill: #ee82ee; stroke: #ee82ee"/><use xlink:href="#m2fdd4576b7" x="291.96" y="447.489101" style="fill: #ee82ee; stroke: #ee82ee"/><use xlink:href="#m2fdd4576b7" x="308.365714" y="443.148099" style="fill: #ee82ee; stroke: #ee82ee"/><use xlink:href="#m2fdd4576b7" x="324.771429" y="443.148099" style="fill: #ee82ee; stroke: #ee82ee"/><use xlink:href="#m2fdd4576b7" x="341.177143" y="440.363306" style="fill: #ee82ee; stroke: #ee82ee"/><use xlink:href="#m2fdd4576b7" x="357.582857" y="440.363306" style="fill: #ee82ee; stroke: #ee82ee"/><use xlink:href="#m2fdd4576b7" x="373.988571" y="440.363306" style="fill: #ee82ee; stroke: #ee82ee"/><use xlink:href="#m2fdd4576b7" x="390.394286" y="441.837608" style="fill: #ee82ee; stroke: #ee82ee"/><use xlink:href="#m2fdd4576b7" x="406.8" y="443.148099" style="fill: #ee82ee; stroke: #ee82ee"/><use xlink:href="#m2fdd4576b7" x="423.205714" y="441.837608" style="fill: #ee82ee; stroke: #ee82ee"/><use xlink:href="#m2fdd4576b7" x="439.611429" y="444.622402" style="fill: #ee82ee; stroke: #ee82ee"/><use xlink:href="#m2fdd4576b7" x="456.017143" y="444.622402" style="fill: #ee82ee; stroke: #ee82ee"/><use xlink:href="#m2fdd4576b7" x="472.422857" y="440.936646" style="fill: #ee82ee; stroke: #ee82ee"/><use xlink:href="#m2fdd4576b7" x="488.828571" y="437.578512" style="fill: #ee82ee; stroke: #ee82ee"/><use xlink:href="#m2fdd4576b7" x="505.234286" y="436.022304" style="fill: #ee82ee; stroke: #ee82ee"/><use xlink:href="#m2fdd4576b7" x="521.64" y="436.022304" style="fill: #ee82ee; stroke: #ee82ee"/><use xlink:href="#m2fdd4576b7" x="538.045714" y="433.810851" style="fill: #ee82ee; stroke: #ee82ee"/><use xlink:href="#m2fdd4576b7" x="554.451429" y="436.022304" style="fill: #ee82ee; stroke: #ee82ee"/><use xlink:href="#m2fdd4576b7" x="570.857143" y="444.868119" style="fill: #ee82ee; stroke: #ee82ee"/><use xlink:href="#m2fdd4576b7" x="587.262857" y="446.751949" style="fill: #ee82ee; stroke: #ee82ee"/><use xlink:href="#m2fdd4576b7" x="603.668571" y="446.751949" style="fill: #ee82ee; stroke: #ee82ee"/><use xlink:href="#m2fdd4576b7" x="620.074286" y="444.868119" style="fill: #ee82ee; stroke: #ee82ee"/><use xlink:href="#m2fdd4576b7" x="636.48" y="448.06244" style="fill: #ee82ee; stroke: #ee82ee"/><use xlink:href="#m2fdd4576b7" x="652.885714" y="448.881497" style="fill: #ee82ee; stroke: #ee82ee"/><use xlink:href="#m2fdd4576b7" x="669.291429" y="443.066193" style="fill: #ee82ee; stroke: #ee82ee"/><use xlink:href="#m2fdd4576b7" x="685.697143" y="442.329042" style="fill: #ee82ee; stroke: #ee82ee"/><use xlink:href="#m2fdd4576b7" x="702.102857" y="428.896509" style="fill: #ee82ee; stroke: #ee82ee"/><use xlink:href="#m2fdd4576b7" x="718.508571" y="418.658298" style="fill: #ee82ee; stroke: #ee82ee"/><use xlink:href="#m2fdd4576b7" x="734.914286" y="410.140107" style="fill: #ee82ee; stroke: #ee82ee"/></g></g><g id="line2d_70"><path d="M144.31 484.92L144.31 316.44" clip-path="url(#p233d145e39)" style="fill: none; stroke-dasharray: 1.85,0.8; stroke-dashoffset: 0; stroke: #808080; stroke-width: 0.5"/></g><g id="line2d_71"><path d="M275.55 484.92L275.55 316.44" clip-path="url(#p233d145e39)" style="fill: none; stroke-dasharray: 1.85,0.8; stroke-dashoffset: 0; stroke: #808080; stroke-width: 0.5"/></g><g id="line2d_72"><path d="M406.8 484.92L406.8 316.44" clip-path="url(#p233d145e39)" style="fill: none; stroke-dasharray: 1.85,0.8; stroke-dashoffset: 0; stroke: #808080; stroke-width: 0.5"/></g><g id="line2d_73"><path d="M538.05 484.92L538.05 316.44" clip-path="url(#p233d145e39)" style="fill: none; stroke-dasharray: 1.85,0.8; stroke-dashoffset: 0; stroke: #808080; stroke-width: 0.5"/></g><g id="line2d_74"><path d="M669.29 484.92L669.29 316.44" clip-path="url(#p233d145e39)" style="fill: none; stroke-dasharray: 1.85,0.8; stroke-dashoffset: 0; stroke: #808080; stroke-width: 0.5"/></g><g id="patch_8"><path d="M62.28 484.92L62.28 316.44" style="fill: none; stroke: #000000; stroke-width: 0.8; stroke-linejoin: miter; stroke-linecap: square"/></g><g id="patch_9"><path d="M751.32 484.92L751.32 316.44" style="fill: none; stroke: #000000; stroke-width: 0.8; stroke-linejoin: miter; stroke-linecap: square"/></g><g id="patch_10"><path d="M62.28 484.92L751.32 484.92" style="fill: none; stroke: #000000; stroke-width: 0.8; stroke-linejoin: miter; stroke-linecap: square"/></g><g id="patch_11"><path d="M62.28 316.44L751.32 316.44" style="fill: none; stroke: #000000; stroke-width: 0.8; stroke-linejoin: miter; stroke-linecap: square"/></g><g id="legend_1"><g id="patch_12"><path d="M302.88 480.18L510.72 480.18 Q 512.38 480.18 512.38 478.51L512.38 466.37 Q 512.38 464.7 510.72 464.7L302.88 464.7 Q 301.22 464.7 301.22 466.37L301.22 478.51 Q 301.22 480.18 302.88 480.18z" style="fill: #ffffff; opacity: 0.8; stroke: #cccccc; stroke-linejoin: miter"/></g><g id="line2d_75"><path d="M304.92 471.82L313.25 471.82L321.58 471.82" style="fill: none; stroke: #000000; stroke-width: 1.5; stroke-linecap: square"/><g><use xlink:href="#m7b5aa3837b" x="313.254751" y="471.82427" style="stroke: #000000"/></g></g><g id="text_22"><text style="font-size: 8.33px; font-family: 'DejaVu Sans', sans-serif; text-anchor: start" x="328.248751" y="474.73977" transform="rotate(-0 328.248751 474.73977)">T(2m)</text></g><g id="line2d_76"><path d="M369.91 471.82L378.24 471.82L386.57 471.82" style="fill: none; stroke: #008000; stroke-width: 1.5; stroke-linecap: square"/><g><use xlink:href="#me695f6083a" x="378.240465" y="471.82427" style="fill: #008000; stroke: #008000"/></g></g><g id="text_23"><text style="font-size: 8.33px; font-family: 'DejaVu Sans', sans-serif; text-anchor: start" x="393.234465" y="474.73977" transform="rotate(-0 393.234465 474.73977)">Td(2m)</text></g><g id="line2d_77"><path d="M440.18 471.82L448.51 471.82L456.84 471.82" style="fill: none; stroke: #ee82ee; stroke-width: 1.5; stroke-linecap: square"/><g><use xlink:href="#m2fdd4576b7" x="448.514427" y="471.82427" style="fill: #ee82ee; stroke: #ee82ee"/></g></g><g id="text_24"><text style="font-size: 8.33px; font-family: 'DejaVu Sans', sans-serif; text-anchor: start" x="463.508427" y="474.73977" transform="rotate(-0 463.508427 474.73977)">T(850 hPa)</text></g></g></g><g id="axes_3"><g id="patch_13"><path d="M62.28 577.08L751.32 577.08L751.32 500.04L62.28 500.04z" style="fill: #ffffff"/></g><g id="Barbs_2"><circle cx="78.69" cy="511.58" r="1.88" fill="none" clip-path="url(#p7b28e05b98)" style="stroke: #000000"/><circle cx="95.09" cy="511.58" r="1.88" fill="none" clip-path="url(#p7b28e05b98)" style="stroke: #000000"/><circle cx="111.50" cy="511.58" r="1.88" fill="none" clip-path="url(#p7b28e05b98)" style="stroke: #000000"/><circle cx="127.91" cy="511.58" r="1.88" fill="none" clip-path="url(#p7b28e05b98)" style="stroke: #000000"/><circle cx="144.31" cy="511.58" r="1.88" fill="none" clip-path="url(#p7b28e05b98)" style="stroke: #000000"/><circle cx="160.72" cy="511.58" r="1.88" fill="none" clip-path="url(#p7b28e05b98)" style="stroke: #000000"/><circle cx="177.12" cy="511.58" r="1.88" fill="none" clip-path="url(#p7b28e05b98)" style="stroke: #000000"/><circle cx="193.53" cy="511.58" r="1.88" fill="none" clip-path="url(#p7b28e05b98)" style="stroke: #000000"/><circle cx="209.94" cy="511.58" r="1.88" fill="none" clip-path="url(#p7b28e05b98)" style="stroke: #000000"/><path d="M231.12 515.59L221.55 507.55L223.34 509.06L224.35 506.64L223.34 509.06z" clip-path="url(#p7b28e05b98)" style="stroke: #000000"/><path d="M247.53 515.59L237.96 507.55L239.75 509.06L240.76 506.64L239.75 509.06z" clip-path="url(#p7b28e05b98)" style="stroke: #000000"/><circle cx="259.14" cy="511.58" r="1.88" fill="none" clip-path="url(#p7b28e05b98)" style="stroke: #000000"/><circle cx="275.56" cy="511.58" r="1.88" fill="none" clip-path="url(#p7b28e05b98)" style="stroke: #000000"/><circle cx="291.95" cy="511.58" r="1.88" fill="none" clip-path="url(#p7b28e05b98)" style="stroke: #000000"/><circle cx="308.37" cy="511.58" r="1.88" fill="none" clip-path="url(#p7b28e05b98)" style="stroke: #000000"/><path d="M330.93 510.49L318.62 512.66L320.92 512.25L319.72 509.92L320.92 512.25z" clip-path="url(#p7b28e05b98)" style="stroke: #000000"/><path d="M346.3 515.16L336.06 507.99L337.98 509.33L338.77 506.83L337.98 509.33z" clip-path="url(#p7b28e05b98)" style="stroke: #000000"/><circle cx="357.58" cy="511.58" r="1.88" fill="none" clip-path="url(#p7b28e05b98)" style="stroke: #000000"/><circle cx="373.99" cy="511.58" r="1.88" fill="none" clip-path="url(#p7b28e05b98)" style="stroke: #000000"/><circle cx="390.39" cy="511.58" r="1.88" fill="none" clip-path="url(#p7b28e05b98)" style="stroke: #000000"/><circle cx="406.81" cy="511.58" r="1.88" fill="none" clip-path="url(#p7b28e05b98)" style="stroke: #000000"/><circle cx="423.20" cy="511.58" r="1.88" fill="none" clip-path="url(#p7b28e05b98)" style="stroke: #000000"/><circle cx="439.62" cy="511.58" r="1.88" fill="none" clip-path="url(#p7b28e05b98)" style="stroke: #000000"/><circle cx="456.01" cy="511.58" r="1.88" fill="none" clip-path="url(#p7b28e05b98)" style="stroke: #000000"/><circle cx="472.43" cy="511.58" r="1.88" fill="none" clip-path="url(#p7b28e05b98)" style="stroke: #000000"/><path d="M482.96 513.71L494.7 509.43L492.5 510.23L494.09 512.32L492.5 510.23z" clip-path="url(#p7b28e05b98)" style="stroke: #000000"/><circle cx="505.24" cy="511.58" r="1.88" fill="none" clip-path="url(#p7b28e05b98)" style="stroke: #000000"/><circle cx="521.63" cy="511.58" r="1.88" fill="none" clip-path="url(#p7b28e05b98)" style="stroke: #000000"/><circle cx="538.04" cy="511.58" r="1.88" fill="none" clip-path="url(#p7b28e05b98)" style="stroke: #000000"/><circle cx="554.46" cy="511.58" r="1.88" fill="none" clip-path="url(#p7b28e05b98)" style="stroke: #000000"/><path d="M573.5 505.91L568.22 517.24L569.21 515.11L566.61 514.76L569.21 515.11z" clip-path="url(#p7b28e05b98)" style="stroke: #000000"/><path d="M592.38 507.99L582.14 515.16L584.06 513.81L581.99 512.21L584.06 513.81z" clip-path="url(#p7b28e05b98)" style="stroke: #000000"/><path d="M609.92 511.57L597.42 511.57L599.76 511.57L598.98 509.07L599.76 511.57z" clip-path="url(#p7b28e05b98)" style="stroke: #000000"/><path d="M625.49 514.7L614.66 508.45L616.69 509.62L617.26 507.06L616.69 509.62z" clip-path="url(#p7b28e05b98)" style="stroke: #000000"/><circle cx="636.49" cy="511.58" r="1.88" fill="none" clip-path="url(#p7b28e05b98)" style="stroke: #000000"/><circle cx="652.88" cy="511.58" r="1.88" fill="none" clip-path="url(#p7b28e05b98)" style="stroke: #000000"/><circle cx="669.29" cy="511.58" r="1.88" fill="none" clip-path="url(#p7b28e05b98)" style="stroke: #000000"/><circle cx="685.70" cy="511.58" r="1.88" fill="none" clip-path="url(#p7b28e05b98)" style="stroke: #000000"/><circle cx="702.11" cy="511.58" r="1.88" fill="none" clip-path="url(#p7b28e05b98)" style="stroke: #000000"/><circle cx="718.50" cy="511.58" r="1.88" fill="none" clip-path="url(#p7b28e05b98)" style="stroke: #000000"/><path d="M729.04 513.71L740.79 509.43L738.58 510.23L740.17 512.32L738.58 510.23z" clip-path="url(#p7b28e05b98)" style="stroke: #000000"/></g><g id="matplotlib.axis_5"><g id="xtick_23"><g id="line2d_78"><g><use xlink:href="#m1504cfccaf" x="144.308571" y="577.08" style="stroke: #000000; stroke-width: 0.8"/></g></g></g><g id="xtick_24"><g id="line2d_79"><g><use xlink:href="#m1504cfccaf" x="275.554286" y="577.08" style="stroke: #000000; stroke-width: 0.8"/></g></g></g><g id="xtick_25"><g id="line2d_80"><g><use xlink:href="#m1504cfccaf" x="406.8" y="577.08" style="stroke: #000000; stroke-width: 0.8"/></g></g></g><g id="xtick_26"><g id="line2d_81"><g><use xlink:href="#m1504cfccaf" x="538.045714" y="577.08" style="stroke: #000000; stroke-width: 0.8"/></g></g></g><g id="xtick_27"><g id="line2d_82"><g><use xlink:href="#m1504cfccaf" x="669.291429" y="577.08" style="stroke: #000000; stroke-width: 0.8"/></g></g></g><g id="xtick_28"><g id="line2d_83"><g><use xlink:href="#m05db3bdf9b" x="78.685714" y="577.08" style="stroke: #000000; stroke-width: 0.6"/></g></g></g><g id="xtick_29"><g id="line2d_84"><g><use xlink:href="#m05db3bdf9b" x="209.931429" y="577.08" style="stroke: #000000; stroke-width: 0.6"/></g></g></g><g id="xtick_30"><g id="line2d_85"><g><use xlink:href="#m05db3bdf9b" x="341.177143" y="577.08" style="stroke: #000000; stroke-width: 0.6"/></g></g></g><g id="xtick_31"><g id="line2d_86"><g><use xlink:href="#m05db3bdf9b" x="472.422857" y="577.08" style="stroke: #000000; stroke-width: 0.6"/></g></g></g><g id="xtick_32"><g id="line2d_87"><g><use xlink:href="#m05db3bdf9b" x="603.668571" y="577.08" style="stroke: #000000; stroke-width: 0.6"/></g></g></g><g id="xtick_33"><g id="line2d_88"><g><use xlink:href="#m05db3bdf9b" x="734.914286" y="577.08" style="stroke: #000000; stroke-width: 0.6"/></g></g></g></g><g id="matplotlib.axis_6"><g id="ytick_11"><g id="line2d_89"><path d="M62.28 563.27L751.32 563.27" clip-path="url(#p7b28e05b98)" style="fill: none; stroke: #b0b0b0; stroke-width: 0.8; stroke-linecap: square"/></g><g id="line2d_90"><g><use xlink:href="#m5d545ce8f8" x="62.28" y="563.266117" style="stroke: #000000; stroke-width: 0.8"/></g></g><g id="text_25"><text style="font-size: 10px; font-family: 'DejaVu Sans', sans-serif; text-anchor: end" x="54.58" y="567.065335" transform="rotate(-0 54.58 567.065335)">0</text></g></g><g id="ytick_12"><g id="line2d_91"><path d="M62.28 536.34L751.32 536.34" clip-path="url(#p7b28e05b98)" style="fill: none; stroke: #b0b0b0; stroke-width: 0.8; stroke-linecap: square"/></g><g id="line2d_92"><g><use xlink:href="#m5d545ce8f8" x="62.28" y="536.338469" style="stroke: #000000; stroke-width: 0.8"/></g></g><g id="text_26"><text style="font-size: 10px; font-family: 'DejaVu Sans', sans-serif; text-anchor: end" x="54.58" y="540.137688" transform="rotate(-0 54.58 540.137688)">10</text></g></g><g id="ytick_13"><g id="line2d_93"><path d="M62.28 509.41L751.32 509.41" clip-path="url(#p7b28e05b98)" style="fill: none; stroke: #b0b0b0; stroke-width: 0.8; stroke-linecap: square"/></g><g id="line2d_94"><g><use xlink:href="#m5d545ce8f8" x="62.28" y="509.410821" style="stroke: #000000; stroke-width: 0.8"/></g></g><g id="text_27"><text style="font-size: 10px; font-family: 'DejaVu Sans', sans-serif; text-anchor: end" x="54.58" y="513.21004" transform="rotate(-0 54.58 513.21004)">20</text></g></g><g id="text_28"><!-- 10 m ws [ms$^{-1}$] --><g transform="translate(34.125313 578.01) rotate(-90)"><text><tspan x="0.00 6.36 12.72 15.90 25.64 28.82 37.00 42.21 45.39 49.29 59.03 74.93" y="-0.064063" style="font-size: 10px; font-family: 'DejaVu Sans', sans-serif; white-space: pre">10 m ws [ms]</tspan><tspan x="64.34 70.20" y="-3.892188" style="font-size: 7px; font-family: 'DejaVu Sans', sans-serif; white-space: pre">−1</tspan></text></g></g></g><g id="line2d_95"><path d="M78.69 559.6L95.09 560.33L111.5 557.4L127.9 557.4L144.31 556.29L160.71 558.31L177.12 557.4L193.53 557.05L209.93 556.26L226.34 552.63L242.74 553.57L259.15 558.31L275.55 561.44L291.96 558.15L308.37 559.07L324.77 554.65L341.18 546.41L357.58 556.32L373.99 558.15L390.39 557.61L406.8 556.67L423.21 560.33L439.61 560.52L456.02 558.88L472.42 556.86L488.83 551.18L505.23 556.48L521.64 559.07L538.05 557.4L554.45 554.84L570.86 555.38L587.26 544.23L603.67 536.34L620.07 546.97L636.48 558.28L652.89 556.91L669.29 558.34L685.7 559.71L702.1 556.4L718.51 554.89L734.91 548.48" clip-path="url(#p7b28e05b98)" style="fill: none; stroke: #ff7f0e; stroke-width: 1.5; stroke-linecap: square"/><defs><path id="m152a433ac8" d="M0 1.75C0.46 1.75 0.91 1.57 1.24 1.24C1.57 0.91 1.75 0.46 1.75 0C1.75 -0.46 1.57 -0.91 1.24 -1.24C0.91 -1.57 0.46 -1.75 0 -1.75C-0.46 -1.75 -0.91 -1.57 -1.24 -1.24C-1.57 -0.91 -1.75 -0.46 -1.75 0C-1.75 0.46 -1.57 0.91 -1.24 1.24C-0.91 1.57 -0.46 1.75 0 1.75z" style="stroke: #ff7f0e"/></defs><g clip-path="url(#p7b28e05b98)"><use xlink:href="#m152a433ac8" x="78.685714" y="559.603957" style="fill: #ff7f0e; stroke: #ff7f0e"/><use xlink:href="#m152a433ac8" x="95.091429" y="560.331003" style="fill: #ff7f0e; stroke: #ff7f0e"/><use xlink:href="#m152a433ac8" x="111.497143" y="557.39589" style="fill: #ff7f0e; stroke: #ff7f0e"/><use xlink:href="#m152a433ac8" x="127.902857" y="557.39589" style="fill: #ff7f0e; stroke: #ff7f0e"/><use xlink:href="#m152a433ac8" x="144.308571" y="556.291856" style="fill: #ff7f0e; stroke: #ff7f0e"/><use xlink:href="#m152a433ac8" x="160.714286" y="558.31143" style="fill: #ff7f0e; stroke: #ff7f0e"/><use xlink:href="#m152a433ac8" x="177.12" y="557.39589" style="fill: #ff7f0e; stroke: #ff7f0e"/><use xlink:href="#m152a433ac8" x="193.525714" y="557.04583" style="fill: #ff7f0e; stroke: #ff7f0e"/><use xlink:href="#m152a433ac8" x="209.931429" y="556.264928" style="fill: #ff7f0e; stroke: #ff7f0e"/><use xlink:href="#m152a433ac8" x="226.337143" y="552.629696" style="fill: #ff7f0e; stroke: #ff7f0e"/><use xlink:href="#m152a433ac8" x="242.742857" y="553.572164" style="fill: #ff7f0e; stroke: #ff7f0e"/><use xlink:href="#m152a433ac8" x="259.148571" y="558.31143" style="fill: #ff7f0e; stroke: #ff7f0e"/><use xlink:href="#m152a433ac8" x="275.554286" y="561.435037" style="fill: #ff7f0e; stroke: #ff7f0e"/><use xlink:href="#m152a433ac8" x="291.96" y="558.149864" style="fill: #ff7f0e; stroke: #ff7f0e"/><use xlink:href="#m152a433ac8" x="308.365714" y="559.065404" style="fill: #ff7f0e; stroke: #ff7f0e"/><use xlink:href="#m152a433ac8" x="324.771429" y="554.649269" style="fill: #ff7f0e; stroke: #ff7f0e"/><use xlink:href="#m152a433ac8" x="341.177143" y="546.409409" style="fill: #ff7f0e; stroke: #ff7f0e"/><use xlink:href="#m152a433ac8" x="357.582857" y="556.318784" style="fill: #ff7f0e; stroke: #ff7f0e"/><use xlink:href="#m152a433ac8" x="373.988571" y="558.149864" style="fill: #ff7f0e; stroke: #ff7f0e"/><use xlink:href="#m152a433ac8" x="390.394286" y="557.611311" style="fill: #ff7f0e; stroke: #ff7f0e"/><use xlink:href="#m152a433ac8" x="406.8" y="556.668843" style="fill: #ff7f0e; stroke: #ff7f0e"/><use xlink:href="#m152a433ac8" x="423.205714" y="560.331003" style="fill: #ff7f0e; stroke: #ff7f0e"/><use xlink:href="#m152a433ac8" x="439.611429" y="560.519497" style="fill: #ff7f0e; stroke: #ff7f0e"/><use xlink:href="#m152a433ac8" x="456.017143" y="558.87691" style="fill: #ff7f0e; stroke: #ff7f0e"/><use xlink:href="#m152a433ac8" x="472.422857" y="556.857337" style="fill: #ff7f0e; stroke: #ff7f0e"/><use xlink:href="#m152a433ac8" x="488.828571" y="551.175603" style="fill: #ff7f0e; stroke: #ff7f0e"/><use xlink:href="#m152a433ac8" x="505.234286" y="556.48035" style="fill: #ff7f0e; stroke: #ff7f0e"/><use xlink:href="#m152a433ac8" x="521.64" y="559.065404" style="fill: #ff7f0e; stroke: #ff7f0e"/><use xlink:href="#m152a433ac8" x="538.045714" y="557.39589" style="fill: #ff7f0e; stroke: #ff7f0e"/><use xlink:href="#m152a433ac8" x="554.451429" y="554.837763" style="fill: #ff7f0e; stroke: #ff7f0e"/><use xlink:href="#m152a433ac8" x="570.857143" y="555.376316" style="fill: #ff7f0e; stroke: #ff7f0e"/><use xlink:href="#m152a433ac8" x="587.262857" y="544.22827" style="fill: #ff7f0e; stroke: #ff7f0e"/><use xlink:href="#m152a433ac8" x="603.668571" y="536.338469" style="fill: #ff7f0e; stroke: #ff7f0e"/><use xlink:href="#m152a433ac8" x="620.074286" y="546.97489" style="fill: #ff7f0e; stroke: #ff7f0e"/><use xlink:href="#m152a433ac8" x="636.48" y="558.284502" style="fill: #ff7f0e; stroke: #ff7f0e"/><use xlink:href="#m152a433ac8" x="652.885714" y="556.911192" style="fill: #ff7f0e; stroke: #ff7f0e"/><use xlink:href="#m152a433ac8" x="669.291429" y="558.338357" style="fill: #ff7f0e; stroke: #ff7f0e"/><use xlink:href="#m152a433ac8" x="685.697143" y="559.711667" style="fill: #ff7f0e; stroke: #ff7f0e"/><use xlink:href="#m152a433ac8" x="702.102857" y="556.399567" style="fill: #ff7f0e; stroke: #ff7f0e"/><use xlink:href="#m152a433ac8" x="718.508571" y="554.891618" style="fill: #ff7f0e; stroke: #ff7f0e"/><use xlink:href="#m152a433ac8" x="734.914286" y="548.482838" style="fill: #ff7f0e; stroke: #ff7f0e"/></g></g><g id="line2d_96"><path d="M78.69 562.73L95.09 562.54L111.5 561.25L127.9 561.81L144.31 561.25L160.71 561.81L177.12 561.25L193.53 561.81L209.93 561.25L226.34 559.98L242.74 559.98L259.15 562.73L275.55 562.35L291.96 561.62L308.37 561.06L324.77 559.98L341.18 559.07L357.58 562.54L373.99 561.06L390.39 561.06L406.8 560.52L423.21 561.62L439.61 562.54L456.02 561.62L472.42 561.25L488.83 558.88L505.23 561.06L521.64 561.06L538.05 560.52L554.45 560.33L570.86 559.79L587.26 556.48L603.67 554.84L620.07 559.6L636.48 560.57L652.89 560.55L669.29 561.17L685.7 561.92L702.1 561.81L718.51 560.55L734.91 558.34" clip-path="url(#p7b28e05b98)" style="fill: none; stroke: #000000; stroke-width: 1.5; stroke-linecap: square"/><g clip-path="url(#p7b28e05b98)"><use xlink:href="#m7b5aa3837b" x="78.685714" y="562.727564" style="stroke: #000000"/><use xlink:href="#m7b5aa3837b" x="95.091429" y="562.53907" style="stroke: #000000"/><use xlink:href="#m7b5aa3837b" x="111.497143" y="561.246543" style="stroke: #000000"/><use xlink:href="#m7b5aa3837b" x="127.902857" y="561.812024" style="stroke: #000000"/><use xlink:href="#m7b5aa3837b" x="144.308571" y="561.246543" style="stroke: #000000"/><use xlink:href="#m7b5aa3837b" x="160.714286" y="561.812024" style="stroke: #000000"/><use xlink:href="#m7b5aa3837b" x="177.12" y="561.246543" style="stroke: #000000"/><use xlink:href="#m7b5aa3837b" x="193.525714" y="561.812024" style="stroke: #000000"/><use xlink:href="#m7b5aa3837b" x="209.931429" y="561.246543" style="stroke: #000000"/><use xlink:href="#m7b5aa3837b" x="226.337143" y="559.980944" style="stroke: #000000"/><use xlink:href="#m7b5aa3837b" x="242.742857" y="559.980944" style="stroke: #000000"/><use xlink:href="#m7b5aa3837b" x="259.148571" y="562.727564" style="stroke: #000000"/><use xlink:href="#m7b5aa3837b" x="275.554286" y="562.350577" style="stroke: #000000"/><use xlink:href="#m7b5aa3837b" x="291.96" y="561.62353" style="stroke: #000000"/><use xlink:href="#m7b5aa3837b" x="308.365714" y="561.05805" style="stroke: #000000"/><use xlink:href="#m7b5aa3837b" x="324.771429" y="559.980944" style="stroke: #000000"/><use xlink:href="#m7b5aa3837b" x="341.177143" y="559.065404" style="stroke: #000000"/><use xlink:href="#m7b5aa3837b" x="357.582857" y="562.53907" style="stroke: #000000"/><use xlink:href="#m7b5aa3837b" x="373.988571" y="561.05805" style="stroke: #000000"/><use xlink:href="#m7b5aa3837b" x="390.394286" y="561.05805" style="stroke: #000000"/><use xlink:href="#m7b5aa3837b" x="406.8" y="560.519497" style="stroke: #000000"/><use xlink:href="#m7b5aa3837b" x="423.205714" y="561.62353" style="stroke: #000000"/><use xlink:href="#m7b5aa3837b" x="439.611429" y="562.53907" style="stroke: #000000"/><use xlink:href="#m7b5aa3837b" x="456.017143" y="561.62353" style="stroke: #000000"/><use xlink:href="#m7b5aa3837b" x="472.422857" y="561.246543" style="stroke: #000000"/><use xlink:href="#m7b5aa3837b" x="488.828571" y="558.87691" style="stroke: #000000"/><use xlink:href="#m7b5aa3837b" x="505.234286" y="561.05805" style="stroke: #000000"/><use xlink:href="#m7b5aa3837b" x="521.64" y="561.05805" style="stroke: #000000"/><use xlink:href="#m7b5aa3837b" x="538.045714" y="560.519497" style="stroke: #000000"/><use xlink:href="#m7b5aa3837b" x="554.451429" y="560.331003" style="stroke: #000000"/><use xlink:href="#m7b5aa3837b" x="570.857143" y="559.79245" style="stroke: #000000"/><use xlink:href="#m7b5aa3837b" x="587.262857" y="556.48035" style="stroke: #000000"/><use xlink:href="#m7b5aa3837b" x="603.668571" y="554.837763" style="stroke: #000000"/><use xlink:href="#m7b5aa3837b" x="620.074286" y="559.603957" style="stroke: #000000"/><use xlink:href="#m7b5aa3837b" x="636.48" y="560.573352" style="stroke: #000000"/><use xlink:href="#m7b5aa3837b" x="652.885714" y="560.546424" style="stroke: #000000"/><use xlink:href="#m7b5aa3837b" x="669.291429" y="561.16576" style="stroke: #000000"/><use xlink:href="#m7b5aa3837b" x="685.697143" y="561.919734" style="stroke: #000000"/><use xlink:href="#m7b5aa3837b" x="702.102857" y="561.812024" style="stroke: #000000"/><use xlink:href="#m7b5aa3837b" x="718.508571" y="560.546424" style="stroke: #000000"/><use xlink:href="#m7b5aa3837b" x="734.914286" y="558.338357" style="stroke: #000000"/></g></g><g id="line2d_97"><path d="M144.31 577.08L144.31 500.04" clip-path="url(#p7b28e05b98)" style="fill: none; stroke-dasharray: 1.85,0.8; stroke-dashoffset: 0; stroke: #808080; stroke-width: 0.5"/></g><g id="line2d_98"><path d="M275.55 577.08L275.55 500.04" clip-path="url(#p7b28e05b98)" style="fill: none; stroke-dasharray: 1.85,0.8; stroke-dashoffset: 0; stroke: #808080; stroke-width: 0.5"/></g><g id="line2d_99"><path d="M406.8 577.08L406.8 500.04" clip-path="url(#p7b28e05b98)" style="fill: none; stroke-dasharray: 1.85,0.8; stroke-dashoffset: 0; stroke: #808080; stroke-width: 0.5"/></g><g id="line2d_100"><path d="M538.05 577.08L538.05 500.04" clip-path="url(#p7b28e05b98)" style="fill: none; stroke-dasharray: 1.85,0.8; stroke-dashoffset: 0; stroke: #808080; stroke-width: 0.5"/></g><g id="line2d_101"><path d="M669.29 577.08L669.29 500.04" clip-path="url(#p7b28e05b98)" style="fill: none; stroke-dasharray: 1.85,0.8; stroke-dashoffset: 0; stroke: #808080; stroke-width: 0.5"/></g><g id="patch_14"><path d="M62.28 577.08L62.28 500.04" style="fill: none; stroke: #000000; stroke-width: 0.8; stroke-linejoin: miter; stroke-linecap: square"/></g><g id="patch_15"><path d="M751.32 577.08L751.32 500.04" style="fill: none; stroke: #000000; stroke-width: 0.8; stroke-linejoin: miter; stroke-linecap: square"/></g><g id="patch_16"><path d="M62.28 577.08L751.32 577.08" style="fill: none; stroke: #000000; stroke-width: 0.8; stroke-linejoin: miter; stroke-linecap: square"/></g><g id="patch_17"><path d="M62.28 500.04L751.32 500.04" style="fill: none; stroke: #000000; stroke-width: 0.8; stroke-linejoin: miter; stroke-linecap: square"/></g><g id="text_29"><text style="font-size: 10px; font-family: 'DejaVu Sans', sans-serif; text-anchor: middle; fill: #ff7f0e" x="78.685714" y="554.603957" transform="rotate(-0 78.685714 554.603957)">1.0</text></g><g id="text_30"><text style="font-size: 10px; font-family: 'DejaVu Sans', sans-serif; text-anchor: middle" x="78.685714" y="575.326001" transform="rotate(-0 78.685714 575.326001)">0.0</text></g><g id="text_31"><text style="font-size: 10px; font-family: 'DejaVu Sans', sans-serif; text-anchor: middle; fill: #ff7f0e" x="95.091429" y="555.331003" transform="rotate(-0 95.091429 555.331003)">1.0</text></g><g id="text_32"><text style="font-size: 10px; font-family: 'DejaVu Sans', sans-serif; text-anchor: middle" x="95.091429" y="575.137508" transform="rotate(-0 95.091429 575.137508)">0.0</text></g><g id="text_33"><text style="font-size: 10px; font-family: 'DejaVu Sans', sans-serif; text-anchor: middle; fill: #ff7f0e" x="111.497143" y="552.39589" transform="rotate(-0 111.497143 552.39589)">2.0</text></g><g id="text_34"><text style="font-size: 10px; font-family: 'DejaVu Sans', sans-serif; text-anchor: middle" x="111.497143" y="573.844981" transform="rotate(-0 111.497143 573.844981)">1.0</text></g><g id="text_35"><text style="font-size: 10px; font-family: 'DejaVu Sans', sans-serif; text-anchor: middle; fill: #ff7f0e" x="127.902857" y="552.39589" transform="rotate(-0 127.902857 552.39589)">2.0</text></g><g id="text_36"><text style="font-size: 10px; font-family: 'DejaVu Sans', sans-serif; text-anchor: middle" x="127.902857" y="574.410461" transform="rotate(-0 127.902857 574.410461)">1.0</text></g><g id="text_37"><text style="font-size: 10px; font-family: 'DejaVu Sans', sans-serif; text-anchor: middle; fill: #ff7f0e" x="144.308571" y="551.291856" transform="rotate(-0 144.308571 551.291856)">3.0</text></g><g id="text_38"><text style="font-size: 10px; font-family: 'DejaVu Sans', sans-serif; text-anchor: middle" x="144.308571" y="573.844981" transform="rotate(-0 144.308571 573.844981)">1.0</text></g><g id="text_39"><text style="font-size: 10px; font-family: 'DejaVu Sans', sans-serif; text-anchor: middle; fill: #ff7f0e" x="160.714286" y="553.31143" transform="rotate(-0 160.714286 553.31143)">2.0</text></g><g id="text_40"><text style="font-size: 10px; font-family: 'DejaVu Sans', sans-serif; text-anchor: middle" x="160.714286" y="574.410461" transform="rotate(-0 160.714286 574.410461)">1.0</text></g><g id="text_41"><text style="font-size: 10px; font-family: 'DejaVu Sans', sans-serif; text-anchor: middle; fill: #ff7f0e" x="177.12" y="552.39589" transform="rotate(-0 177.12 552.39589)">2.0</text></g><g id="text_42"><text style="font-size: 10px; font-family: 'DejaVu Sans', sans-serif; text-anchor: middle" x="177.12" y="573.844981" transform="rotate(-0 177.12 573.844981)">1.0</text></g><g id="text_43"><text style="font-size: 10px; font-family: 'DejaVu Sans', sans-serif; text-anchor: middle; fill: #ff7f0e" x="193.525714" y="552.04583" transform="rotate(-0 193.525714 552.04583)">2.0</text></g><g id="text_44"><text style="font-size: 10px; font-family: 'DejaVu Sans', sans-serif; text-anchor: middle" x="193.525714" y="574.410461" transform="rotate(-0 193.525714 574.410461)">1.0</text></g><g id="text_45"><text style="font-size: 10px; font-family: 'DejaVu Sans', sans-serif; text-anchor: middle; fill: #ff7f0e" x="209.931429" y="551.264928" transform="rotate(-0 209.931429 551.264928)">3.0</text></g><g id="text_46"><text style="font-size: 10px; font-family: 'DejaVu Sans', sans-serif; text-anchor: middle" x="209.931429" y="573.844981" transform="rotate(-0 209.931429 573.844981)">1.0</text></g><g id="text_47"><text style="font-size: 10px; font-family: 'DejaVu Sans', sans-serif; text-anchor: middle; fill: #ff7f0e" x="226.337143" y="547.629696" transform="rotate(-0 226.337143 547.629696)">4.0</text></g><g id="text_48"><text style="font-size: 10px; font-family: 'DejaVu Sans', sans-serif; text-anchor: middle" x="226.337143" y="572.579381" transform="rotate(-0 226.337143 572.579381)">1.0</text></g><g id="text_49"><text style="font-size: 10px; font-family: 'DejaVu Sans', sans-serif; text-anchor: middle; fill: #ff7f0e" x="242.742857" y="548.572164" transform="rotate(-0 242.742857 548.572164)">4.0</text></g><g id="text_50"><text style="font-size: 10px; font-family: 'DejaVu Sans', sans-serif; text-anchor: middle" x="242.742857" y="572.579381" transform="rotate(-0 242.742857 572.579381)">1.0</text></g><g id="text_51"><text style="font-size: 10px; font-family: 'DejaVu Sans', sans-serif; text-anchor: middle; fill: #ff7f0e" x="259.148571" y="553.31143" transform="rotate(-0 259.148571 553.31143)">2.0</text></g><g id="text_52"><text style="font-size: 10px; font-family: 'DejaVu Sans', sans-serif; text-anchor: middle" x="259.148571" y="575.326001" transform="rotate(-0 259.148571 575.326001)">0.0</text></g><g id="text_53"><text style="font-size: 10px; font-family: 'DejaVu Sans', sans-serif; text-anchor: middle; fill: #ff7f0e" x="275.554286" y="556.435037" transform="rotate(-0 275.554286 556.435037)">1.0</text></g><g id="text_54"><text style="font-size: 10px; font-family: 'DejaVu Sans', sans-serif; text-anchor: middle" x="275.554286" y="574.949014" transform="rotate(-0 275.554286 574.949014)">0.0</text></g><g id="text_55"><text style="font-size: 10px; font-family: 'DejaVu Sans', sans-serif; text-anchor: middle; fill: #ff7f0e" x="291.96" y="553.149864" transform="rotate(-0 291.96 553.149864)">2.0</text></g><g id="text_56"><text style="font-size: 10px; font-family: 'DejaVu Sans', sans-serif; text-anchor: middle" x="291.96" y="574.221968" transform="rotate(-0 291.96 574.221968)">1.0</text></g><g id="text_57"><text style="font-size: 10px; font-family: 'DejaVu Sans', sans-serif; text-anchor: middle; fill: #ff7f0e" x="308.365714" y="554.065404" transform="rotate(-0 308.365714 554.065404)">2.0</text></g><g id="text_58"><text style="font-size: 10px; font-family: 'DejaVu Sans', sans-serif; text-anchor: middle" x="308.365714" y="573.656487" transform="rotate(-0 308.365714 573.656487)">1.0</text></g><g id="text_59"><text style="font-size: 10px; font-family: 'DejaVu Sans', sans-serif; text-anchor: middle; fill: #ff7f0e" x="324.771429" y="549.649269" transform="rotate(-0 324.771429 549.649269)">3.0</text></g><g id="text_60"><text style="font-size: 10px; font-family: 'DejaVu Sans', sans-serif; text-anchor: middle" x="324.771429" y="572.579381" transform="rotate(-0 324.771429 572.579381)">1.0</text></g><g id="text_61"><text style="font-size: 10px; font-family: 'DejaVu Sans', sans-serif; text-anchor: middle; fill: #ff7f0e" x="341.177143" y="541.409409" transform="rotate(-0 341.177143 541.409409)">6.0</text></g><g id="text_62"><text style="font-size: 10px; font-family: 'DejaVu Sans', sans-serif; text-anchor: middle" x="341.177143" y="571.663841" transform="rotate(-0 341.177143 571.663841)">2.0</text></g><g id="text_63"><text style="font-size: 10px; font-family: 'DejaVu Sans', sans-serif; text-anchor: middle; fill: #ff7f0e" x="357.582857" y="551.318784" transform="rotate(-0 357.582857 551.318784)">3.0</text></g><g id="text_64"><text style="font-size: 10px; font-family: 'DejaVu Sans', sans-serif; text-anchor: middle" x="357.582857" y="575.137508" transform="rotate(-0 357.582857 575.137508)">0.0</text></g><g id="text_65"><text style="font-size: 10px; font-family: 'DejaVu Sans', sans-serif; text-anchor: middle; fill: #ff7f0e" x="373.988571" y="553.149864" transform="rotate(-0 373.988571 553.149864)">2.0</text></g><g id="text_66"><text style="font-size: 10px; font-family: 'DejaVu Sans', sans-serif; text-anchor: middle" x="373.988571" y="573.656487" transform="rotate(-0 373.988571 573.656487)">1.0</text></g><g id="text_67"><text style="font-size: 10px; font-family: 'DejaVu Sans', sans-serif; text-anchor: middle; fill: #ff7f0e" x="390.394286" y="552.611311" transform="rotate(-0 390.394286 552.611311)">2.0</text></g><g id="text_68"><text style="font-size: 10px; font-family: 'DejaVu Sans', sans-serif; text-anchor: middle" x="390.394286" y="573.656487" transform="rotate(-0 390.394286 573.656487)">1.0</text></g><g id="text_69"><text style="font-size: 10px; font-family: 'DejaVu Sans', sans-serif; text-anchor: middle; fill: #ff7f0e" x="406.8" y="551.668843" transform="rotate(-0 406.8 551.668843)">2.0</text></g><g id="text_70"><text style="font-size: 10px; font-family: 'DejaVu Sans', sans-serif; text-anchor: middle" x="406.8" y="573.117934" transform="rotate(-0 406.8 573.117934)">1.0</text></g><g id="text_71"><text style="font-size: 10px; font-family: 'DejaVu Sans', sans-serif; text-anchor: middle; fill: #ff7f0e" x="423.205714" y="555.331003" transform="rotate(-0 423.205714 555.331003)">1.0</text></g><g id="text_72"><text style="font-size: 10px; font-family: 'DejaVu Sans', sans-serif; text-anchor: middle" x="423.205714" y="574.221968" transform="rotate(-0 423.205714 574.221968)">1.0</text></g><g id="text_73"><text style="font-size: 10px; font-family: 'DejaVu Sans', sans-serif; text-anchor: middle; fill: #ff7f0e" x="439.611429" y="555.519497" transform="rotate(-0 439.611429 555.519497)">1.0</text></g><g id="text_74"><text style="font-size: 10px; font-family: 'DejaVu Sans', sans-serif; text-anchor: middle" x="439.611429" y="575.137508" transform="rotate(-0 439.611429 575.137508)">0.0</text></g><g id="text_75"><text style="font-size: 10px; font-family: 'DejaVu Sans', sans-serif; text-anchor: middle; fill: #ff7f0e" x="456.017143" y="553.87691" transform="rotate(-0 456.017143 553.87691)">2.0</text></g><g id="text_76"><text style="font-size: 10px; font-family: 'DejaVu Sans', sans-serif; text-anchor: middle" x="456.017143" y="574.221968" transform="rotate(-0 456.017143 574.221968)">1.0</text></g><g id="text_77"><text style="font-size: 10px; font-family: 'DejaVu Sans', sans-serif; text-anchor: middle; fill: #ff7f0e" x="472.422857" y="551.857337" transform="rotate(-0 472.422857 551.857337)">2.0</text></g><g id="text_78"><text style="font-size: 10px; font-family: 'DejaVu Sans', sans-serif; text-anchor: middle" x="472.422857" y="573.844981" transform="rotate(-0 472.422857 573.844981)">1.0</text></g><g id="text_79"><text style="font-size: 10px; font-family: 'DejaVu Sans', sans-serif; text-anchor: middle; fill: #ff7f0e" x="488.828571" y="546.175603" transform="rotate(-0 488.828571 546.175603)">4.0</text></g><g id="text_80"><text style="font-size: 10px; font-family: 'DejaVu Sans', sans-serif; text-anchor: middle" x="488.828571" y="571.475348" transform="rotate(-0 488.828571 571.475348)">2.0</text></g><g id="text_81"><text style="font-size: 10px; font-family: 'DejaVu Sans', sans-serif; text-anchor: middle; fill: #ff7f0e" x="505.234286" y="551.48035" transform="rotate(-0 505.234286 551.48035)">3.0</text></g><g id="text_82"><text style="font-size: 10px; font-family: 'DejaVu Sans', sans-serif; text-anchor: middle" x="505.234286" y="573.656487" transform="rotate(-0 505.234286 573.656487)">1.0</text></g><g id="text_83"><text style="font-size: 10px; font-family: 'DejaVu Sans', sans-serif; text-anchor: middle; fill: #ff7f0e" x="521.64" y="554.065404" transform="rotate(-0 521.64 554.065404)">2.0</text></g><g id="text_84"><text style="font-size: 10px; font-family: 'DejaVu Sans', sans-serif; text-anchor: middle" x="521.64" y="573.656487" transform="rotate(-0 521.64 573.656487)">1.0</text></g><g id="text_85"><text style="font-size: 10px; font-family: 'DejaVu Sans', sans-serif; text-anchor: middle; fill: #ff7f0e" x="538.045714" y="552.39589" transform="rotate(-0 538.045714 552.39589)">2.0</text></g><g id="text_86"><text style="font-size: 10px; font-family: 'DejaVu Sans', sans-serif; text-anchor: middle" x="538.045714" y="573.117934" transform="rotate(-0 538.045714 573.117934)">1.0</text></g><g id="text_87"><text style="font-size: 10px; font-family: 'DejaVu Sans', sans-serif; text-anchor: middle; fill: #ff7f0e" x="554.451429" y="549.837763" transform="rotate(-0 554.451429 549.837763)">3.0</text></g><g id="text_88"><text style="font-size: 10px; font-family: 'DejaVu Sans', sans-serif; text-anchor: middle" x="554.451429" y="572.929441" transform="rotate(-0 554.451429 572.929441)">1.0</text></g><g id="text_89"><text style="font-size: 10px; font-family: 'DejaVu Sans', sans-serif; text-anchor: middle; fill: #ff7f0e" x="570.857143" y="550.376316" transform="rotate(-0 570.857143 550.376316)">3.0</text></g><g id="text_90"><text style="font-size: 10px; font-family: 'DejaVu Sans', sans-serif; text-anchor: middle" x="570.857143" y="572.390888" transform="rotate(-0 570.857143 572.390888)">1.0</text></g><g id="text_91"><text style="font-size: 10px; font-family: 'DejaVu Sans', sans-serif; text-anchor: middle; fill: #ff7f0e" x="587.262857" y="539.22827" transform="rotate(-0 587.262857 539.22827)">7.0</text></g><g id="text_92"><text style="font-size: 10px; font-family: 'DejaVu Sans', sans-serif; text-anchor: middle" x="587.262857" y="569.078787" transform="rotate(-0 587.262857 569.078787)">3.0</text></g><g id="text_93"><text style="font-size: 10px; font-family: 'DejaVu Sans', sans-serif; text-anchor: middle; fill: #ff7f0e" x="603.668571" y="531.338469" transform="rotate(-0 603.668571 531.338469)">10.0</text></g><g id="text_94"><text style="font-size: 10px; font-family: 'DejaVu Sans', sans-serif; text-anchor: middle" x="603.668571" y="567.436201" transform="rotate(-0 603.668571 567.436201)">3.0</text></g><g id="text_95"><text style="font-size: 10px; font-family: 'DejaVu Sans', sans-serif; text-anchor: middle; fill: #ff7f0e" x="620.074286" y="541.97489" transform="rotate(-0 620.074286 541.97489)">6.0</text></g><g id="text_96"><text style="font-size: 10px; font-family: 'DejaVu Sans', sans-serif; text-anchor: middle" x="620.074286" y="572.202394" transform="rotate(-0 620.074286 572.202394)">1.0</text></g><g id="text_97"><text style="font-size: 10px; font-family: 'DejaVu Sans', sans-serif; text-anchor: middle; fill: #ff7f0e" x="636.48" y="553.284502" transform="rotate(-0 636.48 553.284502)">2.0</text></g><g id="text_98"><text style="font-size: 10px; font-family: 'DejaVu Sans', sans-serif; text-anchor: middle" x="636.48" y="573.171789" transform="rotate(-0 636.48 573.171789)">1.0</text></g><g id="text_99"><text style="font-size: 10px; font-family: 'DejaVu Sans', sans-serif; text-anchor: middle; fill: #ff7f0e" x="652.885714" y="551.911192" transform="rotate(-0 652.885714 551.911192)">2.0</text></g><g id="text_100"><text style="font-size: 10px; font-family: 'DejaVu Sans', sans-serif; text-anchor: middle" x="652.885714" y="573.144862" transform="rotate(-0 652.885714 573.144862)">1.0</text></g><g id="text_101"><text style="font-size: 10px; font-family: 'DejaVu Sans', sans-serif; text-anchor: middle; fill: #ff7f0e" x="669.291429" y="553.338357" transform="rotate(-0 669.291429 553.338357)">2.0</text></g><g id="text_102"><text style="font-size: 10px; font-family: 'DejaVu Sans', sans-serif; text-anchor: middle" x="669.291429" y="573.764198" transform="rotate(-0 669.291429 573.764198)">1.0</text></g><g id="text_103"><text style="font-size: 10px; font-family: 'DejaVu Sans', sans-serif; text-anchor: middle; fill: #ff7f0e" x="685.697143" y="554.711667" transform="rotate(-0 685.697143 554.711667)">1.0</text></g><g id="text_104"><text style="font-size: 10px; font-family: 'DejaVu Sans', sans-serif; text-anchor: middle" x="685.697143" y="574.518172" transform="rotate(-0 685.697143 574.518172)">1.0</text></g><g id="text_105"><text style="font-size: 10px; font-family: 'DejaVu Sans', sans-serif; text-anchor: middle; fill: #ff7f0e" x="702.102857" y="551.399567" transform="rotate(-0 702.102857 551.399567)">3.0</text></g><g id="text_106"><text style="font-size: 10px; font-family: 'DejaVu Sans', sans-serif; text-anchor: middle" x="702.102857" y="574.410461" transform="rotate(-0 702.102857 574.410461)">1.0</text></g><g id="text_107"><text style="font-size: 10px; font-family: 'DejaVu Sans', sans-serif; text-anchor: middle; fill: #ff7f0e" x="718.508571" y="549.891618" transform="rotate(-0 718.508571 549.891618)">3.0</text></g><g id="text_108"><text style="font-size: 10px; font-family: 'DejaVu Sans', sans-serif; text-anchor: middle" x="718.508571" y="573.144862" transform="rotate(-0 718.508571 573.144862)">1.0</text></g><g id="text_109"><text style="font-size: 10px; font-family: 'DejaVu Sans', sans-serif; text-anchor: middle; fill: #ff7f0e" x="734.914286" y="543.482838" transform="rotate(-0 734.914286 543.482838)">6.0</text></g><g id="text_110"><text style="font-size: 10px; font-family: 'DejaVu Sans', sans-serif; text-anchor: middle" x="734.914286" y="570.936795" transform="rotate(-0 734.914286 570.936795)">2.0</text></g></g><g id="axes_4"><g id="patch_18"><path d="M62.28 669.24L751.32 669.24L751.32 592.2L62.28 592.2z" style="fill: #ffffff"/></g><g id="matplotlib.axis_7"><g id="xtick_34"><g id="line2d_102"><g><use xlink:href="#m1504cfccaf" x="144.308571" y="669.24" style="stroke: #000000; stroke-width: 0.8"/></g></g></g><g id="xtick_35"><g id="line2d_103"><g><use xlink:href="#m1504cfccaf" x="275.554286" y="669.24" style="stroke: #000000; stroke-width: 0.8"/></g></g></g><g id="xtick_36"><g id="line2d_104"><g><use xlink:href="#m1504cfccaf" x="406.8" y="669.24" style="stroke: #000000; stroke-width: 0.8"/></g></g></g><g id="xtick_37"><g id="line2d_105"><g><use xlink:href="#m1504cfccaf" x="538.045714" y="669.24" style="stroke: #000000; stroke-width: 0.8"/></g></g></g><g id="xtick_38"><g id="line2d_106"><g><use xlink:href="#m1504cfccaf" x="669.291429" y="669.24" style="stroke: #000000; stroke-width: 0.8"/></g></g></g><g id="xtick_39"><g id="line2d_107"><g><use xlink:href="#m05db3bdf9b" x="78.685714" y="669.24" style="stroke: #000000; stroke-width: 0.6"/></g></g></g><g id="xtick_40"><g id="line2d_108"><g><use xlink:href="#m05db3bdf9b" x="209.931429" y="669.24" style="stroke: #000000; stroke-width: 0.6"/></g></g></g><g id="xtick_41"><g id="line2d_109"><g><use xlink:href="#m05db3bdf9b" x="341.177143" y="669.24" style="stroke: #000000; stroke-width: 0.6"/></g></g></g><g id="xtick_42"><g id="line2d_110"><g><use xlink:href="#m05db3bdf9b" x="472.422857" y="669.24" style="stroke: #000000; stroke-width: 0.6"/></g></g></g><g id="xtick_43"><g id="line2d_111"><g><use xlink:href="#m05db3bdf9b" x="603.668571" y="669.24" style="stroke: #000000; stroke-width: 0.6"/></g></g></g><g id="xtick_44"><g id="line2d_112"><g><use xlink:href="#m05db3bdf9b" x="734.914286" y="669.24" style="stroke: #000000; stroke-width: 0.6"/></g></g></g></g><g id="matplotlib.axis_8"><g id="ytick_14"><g id="line2d_113"><path d="M62.28 664.27L751.32 664.27" clip-path="url(#p219854655d)" style="fill: none; stroke: #b0b0b0; stroke-width: 0.8; stroke-linecap: square"/></g><g id="line2d_114"><g><use xlink:href="#m5d545ce8f8" x="62.28" y="664.274007" style="stroke: #000000; stroke-width: 0.8"/></g></g><g id="text_111"><text style="font-size: 10px; font-family: 'DejaVu Sans', sans-serif; text-anchor: end" x="54.58" y="668.073226" transform="rotate(-0 54.58 668.073226)">1010</text></g></g><g id="ytick_15"><g id="line2d_115"><path d="M62.28 619.54L751.32 619.54" clip-path="url(#p219854655d)" style="fill: none; stroke: #b0b0b0; stroke-width: 0.8; stroke-linecap: square"/></g><g id="line2d_116"><g><use xlink:href="#m5d545ce8f8" x="62.28" y="619.535331" style="stroke: #000000; stroke-width: 0.8"/></g></g><g id="text_112"><text style="font-size: 10px; font-family: 'DejaVu Sans', sans-serif; text-anchor: end" x="54.58" y="623.33455" transform="rotate(-0 54.58 623.33455)">1020</text></g></g><g id="text_113"><text style="font-size: 10px; font-family: 'DejaVu Sans', sans-serif; text-anchor: middle" x="22.690313" y="631.08" transform="rotate(-90 22.690313 631.08)">MSLP [hPa]</text></g></g><g id="line2d_117"><path d="M78.69 646.87L95.09 646.87L111.5 642.58L127.9 638.82L144.31 640.12L160.71 640.12L177.12 638.24L193.53 633.94L209.93 636L226.34 636L242.74 628.89L259.15 626.07L275.55 624.59L291.96 626.07L308.37 625.35L324.77 623.83L341.18 628.13L357.58 626.83L373.99 624.59L390.39 623.07L406.8 624.41L423.21 626.65L439.61 626.65L456.02 625.17L472.42 633.18L488.83 636.76L505.23 633.18L521.64 633.18L538.05 632.46L554.45 631.7L570.86 630.94L587.26 627.95L603.67 628.89L620.07 628.89L636.48 620.39L652.89 616.63L669.29 616.72L685.7 615.91L702.1 615.29L718.51 614.57L734.91 622.62" clip-path="url(#p219854655d)" style="fill: none; stroke: #ff0000; stroke-width: 1.5; stroke-linecap: square"/><defs><path id="m9c7931b96e" d="M0 1.75C0.46 1.75 0.91 1.57 1.24 1.24C1.57 0.91 1.75 0.46 1.75 0C1.75 -0.46 1.57 -0.91 1.24 -1.24C0.91 -1.57 0.46 -1.75 0 -1.75C-0.46 -1.75 -0.91 -1.57 -1.24 -1.24C-1.57 -0.91 -1.75 -0.46 -1.75 0C-1.75 0.46 -1.57 0.91 -1.24 1.24C-0.91 1.57 -0.46 1.75 0 1.75z" style="stroke: #ff0000"/></defs><g clip-path="url(#p219854655d)"><use xlink:href="#m9c7931b96e" x="78.685714" y="646.870662" style="fill: #ff0000; stroke: #ff0000"/><use xlink:href="#m9c7931b96e" x="95.091429" y="646.870662" style="fill: #ff0000; stroke: #ff0000"/><use xlink:href="#m9c7931b96e" x="111.497143" y="642.575749" style="fill: #ff0000; stroke: #ff0000"/><use xlink:href="#m9c7931b96e" x="127.902857" y="638.8177" style="fill: #ff0000; stroke: #ff0000"/><use xlink:href="#m9c7931b96e" x="144.308571" y="640.115122" style="fill: #ff0000; stroke: #ff0000"/><use xlink:href="#m9c7931b96e" x="160.714286" y="640.115122" style="fill: #ff0000; stroke: #ff0000"/><use xlink:href="#m9c7931b96e" x="177.12" y="638.236098" style="fill: #ff0000; stroke: #ff0000"/><use xlink:href="#m9c7931b96e" x="193.525714" y="633.941185" style="fill: #ff0000; stroke: #ff0000"/><use xlink:href="#m9c7931b96e" x="209.931429" y="635.999164" style="fill: #ff0000; stroke: #ff0000"/><use xlink:href="#m9c7931b96e" x="226.337143" y="635.999164" style="fill: #ff0000; stroke: #ff0000"/><use xlink:href="#m9c7931b96e" x="242.742857" y="628.885714" style="fill: #ff0000; stroke: #ff0000"/><use xlink:href="#m9c7931b96e" x="259.148571" y="626.067178" style="fill: #ff0000; stroke: #ff0000"/><use xlink:href="#m9c7931b96e" x="275.554286" y="624.590801" style="fill: #ff0000; stroke: #ff0000"/><use xlink:href="#m9c7931b96e" x="291.96" y="626.067178" style="fill: #ff0000; stroke: #ff0000"/><use xlink:href="#m9c7931b96e" x="308.365714" y="625.351359" style="fill: #ff0000; stroke: #ff0000"/><use xlink:href="#m9c7931b96e" x="324.771429" y="623.830244" style="fill: #ff0000; stroke: #ff0000"/><use xlink:href="#m9c7931b96e" x="341.177143" y="628.125157" style="fill: #ff0000; stroke: #ff0000"/><use xlink:href="#m9c7931b96e" x="357.582857" y="626.827735" style="fill: #ff0000; stroke: #ff0000"/><use xlink:href="#m9c7931b96e" x="373.988571" y="624.590801" style="fill: #ff0000; stroke: #ff0000"/><use xlink:href="#m9c7931b96e" x="390.394286" y="623.069686" style="fill: #ff0000; stroke: #ff0000"/><use xlink:href="#m9c7931b96e" x="406.8" y="624.411847" style="fill: #ff0000; stroke: #ff0000"/><use xlink:href="#m9c7931b96e" x="423.205714" y="626.64878" style="fill: #ff0000; stroke: #ff0000"/><use xlink:href="#m9c7931b96e" x="439.611429" y="626.64878" style="fill: #ff0000; stroke: #ff0000"/><use xlink:href="#m9c7931b96e" x="456.017143" y="625.172404" style="fill: #ff0000; stroke: #ff0000"/><use xlink:href="#m9c7931b96e" x="472.422857" y="633.180627" style="fill: #ff0000; stroke: #ff0000"/><use xlink:href="#m9c7931b96e" x="488.828571" y="636.759721" style="fill: #ff0000; stroke: #ff0000"/><use xlink:href="#m9c7931b96e" x="505.234286" y="633.180627" style="fill: #ff0000; stroke: #ff0000"/><use xlink:href="#m9c7931b96e" x="521.64" y="633.180627" style="fill: #ff0000; stroke: #ff0000"/><use xlink:href="#m9c7931b96e" x="538.045714" y="632.464808" style="fill: #ff0000; stroke: #ff0000"/><use xlink:href="#m9c7931b96e" x="554.451429" y="631.704251" style="fill: #ff0000; stroke: #ff0000"/><use xlink:href="#m9c7931b96e" x="570.857143" y="630.943693" style="fill: #ff0000; stroke: #ff0000"/><use xlink:href="#m9c7931b96e" x="587.262857" y="627.946202" style="fill: #ff0000; stroke: #ff0000"/><use xlink:href="#m9c7931b96e" x="603.668571" y="628.885714" style="fill: #ff0000; stroke: #ff0000"/><use xlink:href="#m9c7931b96e" x="620.074286" y="628.885714" style="fill: #ff0000; stroke: #ff0000"/><use xlink:href="#m9c7931b96e" x="636.48" y="620.385366" style="fill: #ff0000; stroke: #ff0000"/><use xlink:href="#m9c7931b96e" x="652.885714" y="616.627317" style="fill: #ff0000; stroke: #ff0000"/><use xlink:href="#m9c7931b96e" x="669.291429" y="616.716794" style="fill: #ff0000; stroke: #ff0000"/><use xlink:href="#m9c7931b96e" x="685.697143" y="615.911498" style="fill: #ff0000; stroke: #ff0000"/><use xlink:href="#m9c7931b96e" x="702.102857" y="615.285157" style="fill: #ff0000; stroke: #ff0000"/><use xlink:href="#m9c7931b96e" x="718.508571" y="614.569338" style="fill: #ff0000; stroke: #ff0000"/><use xlink:href="#m9c7931b96e" x="734.914286" y="622.6223" style="fill: #ff0000; stroke: #ff0000"/></g></g><g id="line2d_118"><path d="M144.31 669.24L144.31 592.2" clip-path="url(#p219854655d)" style="fill: none; stroke-dasharray: 1.85,0.8; stroke-dashoffset: 0; stroke: #808080; stroke-width: 0.5"/></g><g id="line2d_119"><path d="M275.55 669.24L275.55 592.2" clip-path="url(#p219854655d)" style="fill: none; stroke-dasharray: 1.85,0.8; stroke-dashoffset: 0; stroke: #808080; stroke-width: 0.5"/></g><g id="line2d_120"><path d="M406.8 669.24L406.8 592.2" clip-path="url(#p219854655d)" style="fill: none; stroke-dasharray: 1.85,0.8; stroke-dashoffset: 0; stroke: #808080; stroke-width: 0.5"/></g><g id="line2d_121"><path d="M538.05 669.24L538.05 592.2" clip-path="url(#p219854655d)" style="fill: none; stroke-dasharray: 1.85,0.8; stroke-dashoffset: 0; stroke: #808080; stroke-width: 0.5"/></g><g id="line2d_122"><path d="M669.29 669.24L669.29 592.2" clip-path="url(#p219854655d)" style="fill: none; stroke-dasharray: 1.85,0.8; stroke-dashoffset: 0; stroke: #808080; stroke-width: 0.5"/></g><g id="patch_19"><path d="M62.28 669.24L62.28 592.2" style="fill: none; stroke: #000000; stroke-width: 0.8; stroke-linejoin: miter; stroke-linecap: square"/></g><g id="patch_20"><path d="M751.32 669.24L751.32 592.2" style="fill: none; stroke: #000000; stroke-width: 0.8; stroke-linejoin: miter; stroke-linecap: square"/></g><g id="patch_21"><path d="M62.28 669.24L751.32 669.24" style="fill: none; stroke: #000000; stroke-width: 0.8; stroke-linejoin: miter; stroke-linecap: square"/></g><g id="patch_22"><path d="M62.28 592.2L751.32 592.2" style="fill: none; stroke: #000000; stroke-width: 0.8; stroke-linejoin: miter; stroke-linecap: square"/></g></g><g id="axes_5"><g id="patch_23"><path d="M62.28 761.4L751.32 761.4L751.32 684.36L62.28 684.36z" style="fill: #ffffff"/></g><g id="patch_24"><path d="M70.73 761.4L85.49 761.4L85.49 761.4L70.73 761.4z" clip-path="url(#p43a8c2af4f)" style="fill: #00bfbf"/></g><g id="patch_25"><path d="M87.13 761.4L101.9 761.4L101.9 761.4L87.13 761.4z" clip-path="url(#p43a8c2af4f)" style="fill: #00bfbf"/></g><g id="patch_26"><path d="M103.54 761.4L118.31 761.4L118.31 761.4L103.54 761.4z" clip-path="url(#p43a8c2af4f)" style="fill: #00bfbf"/></g><g id="patch_27"><path d="M119.95 761.4L134.71 761.4L134.71 761.4L119.95 761.4z" clip-path="url(#p43a8c2af4f)" style="fill: #00bfbf"/></g><g id="patch_28"><path d="M136.35 761.4L151.12 761.4L151.12 761.4L136.35 761.4z" clip-path="url(#p43a8c2af4f)" style="fill: #00bfbf"/></g><g id="patch_29"><path d="M152.76 761.4L167.52 761.4L167.52 761.4L152.76 761.4z" clip-path="url(#p43a8c2af4f)" style="fill: #00bfbf"/></g><g id="patch_30"><path d="M169.16 761.4L183.93 761.4L183.93 761.4L169.16 761.4z" clip-path="url(#p43a8c2af4f)" style="fill: #00bfbf"/></g><g id="patch_31"><path d="M185.57 761.4L200.33 761.4L200.33 761.4L185.57 761.4z" clip-path="url(#p43a8c2af4f)" style="fill: #00bfbf"/></g><g id="patch_32"><path d="M201.97 761.4L216.74 761.4L216.74 761.4L201.97 761.4z" clip-path="url(#p43a8c2af4f)" style="fill: #00bfbf"/></g><g id="patch_33"><path d="M218.38 761.4L233.15 761.4L233.15 761.4L218.38 761.4z" clip-path="url(#p43a8c2af4f)" style="fill: #00bfbf"/></g><g id="patch_34"><path d="M234.79 761.4L249.55 761.4L249.55 759.96L234.79 759.96z" clip-path="url(#p43a8c2af4f)" style="fill: #00bfbf"/></g><g id="patch_35"><path d="M251.19 761.4L265.96 761.4L265.96 759.96L251.19 759.96z" clip-path="url(#p43a8c2af4f)" style="fill: #00bfbf"/></g><g id="patch_36"><path d="M267.6 761.4L282.36 761.4L282.36 756.49L267.6 756.49z" clip-path="url(#p43a8c2af4f)" style="fill: #00bfbf"/></g><g id="patch_37"><path d="M284 761.4L298.77 761.4L298.77 747.82L284 747.82z" clip-path="url(#p43a8c2af4f)" style="fill: #00bfbf"/></g><g id="patch_38"><path d="M300.41 761.4L315.17 761.4L315.17 739.15L300.41 739.15z" clip-path="url(#p43a8c2af4f)" style="fill: #00bfbf"/></g><g id="patch_39"><path d="M316.81 761.4L331.58 761.4L331.58 752.25L316.81 752.25z" clip-path="url(#p43a8c2af4f)" style="fill: #00bfbf"/></g><g id="patch_40"><path d="M333.22 761.4L347.99 761.4L347.99 753.41L333.22 753.41z" clip-path="url(#p43a8c2af4f)" style="fill: #00bfbf"/></g><g id="patch_41"><path d="M349.63 761.4L364.39 761.4L364.39 744.35L349.63 744.35z" clip-path="url(#p43a8c2af4f)" style="fill: #00bfbf"/></g><g id="patch_42"><path d="M366.03 761.4L380.8 761.4L380.8 738.58L366.03 738.58z" clip-path="url(#p43a8c2af4f)" style="fill: #00bfbf"/></g><g id="patch_43"><path d="M382.44 761.4L397.2 761.4L397.2 726.44L382.44 726.44z" clip-path="url(#p43a8c2af4f)" style="fill: #00bfbf"/></g><g id="patch_44"><path d="M398.84 761.4L413.61 761.4L413.61 757.84L398.84 757.84z" clip-path="url(#p43a8c2af4f)" style="fill: #00bfbf"/></g><g id="patch_45"><path d="M415.25 761.4L430.01 761.4L430.01 758.61L415.25 758.61z" clip-path="url(#p43a8c2af4f)" style="fill: #00bfbf"/></g><g id="patch_46"><path d="M431.65 761.4L446.42 761.4L446.42 759.96L431.65 759.96z" clip-path="url(#p43a8c2af4f)" style="fill: #00bfbf"/></g><g id="patch_47"><path d="M448.06 761.4L462.83 761.4L462.83 757.07L448.06 757.07z" clip-path="url(#p43a8c2af4f)" style="fill: #00bfbf"/></g><g id="patch_48"><path d="M464.47 761.4L479.23 761.4L479.23 758.61L464.47 758.61z" clip-path="url(#p43a8c2af4f)" style="fill: #00bfbf"/></g><g id="patch_49"><path d="M480.87 761.4L495.64 761.4L495.64 761.4L480.87 761.4z" clip-path="url(#p43a8c2af4f)" style="fill: #00bfbf"/></g><g id="patch_50"><path d="M497.28 761.4L512.04 761.4L512.04 761.4L497.28 761.4z" clip-path="url(#p43a8c2af4f)" style="fill: #00bfbf"/></g><g id="patch_51"><path d="M513.68 761.4L528.45 761.4L528.45 761.4L513.68 761.4z" clip-path="url(#p43a8c2af4f)" style="fill: #00bfbf"/></g><g id="patch_52"><path d="M530.09 761.4L544.85 761.4L544.85 761.4L530.09 761.4z" clip-path="url(#p43a8c2af4f)" style="fill: #00bfbf"/></g><g id="patch_53"><path d="M546.49 761.4L561.26 761.4L561.26 761.4L546.49 761.4z" clip-path="url(#p43a8c2af4f)" style="fill: #00bfbf"/></g><g id="patch_54"><path d="M562.9 761.4L577.67 761.4L577.67 756.49L562.9 756.49z" clip-path="url(#p43a8c2af4f)" style="fill: #00bfbf"/></g><g id="patch_55"><path d="M579.31 761.4L594.07 761.4L594.07 737.23L579.31 737.23z" clip-path="url(#p43a8c2af4f)" style="fill: #00bfbf"/></g><g id="patch_56"><path d="M595.71 761.4L610.48 761.4L610.48 747.82L595.71 747.82z" clip-path="url(#p43a8c2af4f)" style="fill: #00bfbf"/></g><g id="patch_57"><path d="M612.12 761.4L626.88 761.4L626.88 758.61L612.12 758.61z" clip-path="url(#p43a8c2af4f)" style="fill: #00bfbf"/></g><g id="patch_58"><path d="M628.52 761.4L643.29 761.4L643.29 761.4L628.52 761.4z" clip-path="url(#p43a8c2af4f)" style="fill: #00bfbf"/></g><g id="patch_59"><path d="M644.93 761.4L659.69 761.4L659.69 761.4L644.93 761.4z" clip-path="url(#p43a8c2af4f)" style="fill: #00bfbf"/></g><g id="patch_60"><path d="M661.33 761.4L676.1 761.4L676.1 761.4L661.33 761.4z" clip-path="url(#p43a8c2af4f)" style="fill: #00bfbf"/></g><g id="patch_61"><path d="M677.74 761.4L692.51 761.4L692.51 761.4L677.74 761.4z" clip-path="url(#p43a8c2af4f)" style="fill: #00bfbf"/></g><g id="patch_62"><path d="M694.15 761.4L708.91 761.4L708.91 761.4L694.15 761.4z" clip-path="url(#p43a8c2af4f)" style="fill: #00bfbf"/></g><g id="patch_63"><path d="M710.55 761.4L725.32 761.4L725.32 761.4L710.55 761.4z" clip-path="url(#p43a8c2af4f)" style="fill: #00bfbf"/></g><g id="patch_64"><path d="M726.96 761.4L741.72 761.4L741.72 761.4L726.96 761.4z" clip-path="url(#p43a8c2af4f)" style="fill: #00bfbf"/></g><g id="patch_65"><path d="M71.3 761.4L86.07 761.4L86.07 761.4L71.3 761.4z" clip-path="url(#p43a8c2af4f)" style="fill: #ff00ff"/></g><g id="patch_66"><path d="M87.71 761.4L102.47 761.4L102.47 761.4L87.71 761.4z" clip-path="url(#p43a8c2af4f)" style="fill: #ff00ff"/></g><g id="patch_67"><path d="M104.11 761.4L118.88 761.4L118.88 761.4L104.11 761.4z" clip-path="url(#p43a8c2af4f)" style="fill: #ff00ff"/></g><g id="patch_68"><path d="M120.52 761.4L135.29 761.4L135.29 761.4L120.52 761.4z" clip-path="url(#p43a8c2af4f)" style="fill: #ff00ff"/></g><g id="patch_69"><path d="M136.93 761.4L151.69 761.4L151.69 761.4L136.93 761.4z" clip-path="url(#p43a8c2af4f)" style="fill: #ff00ff"/></g><g id="patch_70"><path d="M153.33 761.4L168.1 761.4L168.1 761.4L153.33 761.4z" clip-path="url(#p43a8c2af4f)" style="fill: #ff00ff"/></g><g id="patch_71"><path d="M169.74 761.4L184.5 761.4L184.5 761.4L169.74 761.4z" clip-path="url(#p43a8c2af4f)" style="fill: #ff00ff"/></g><g id="patch_72"><path d="M186.14 761.4L200.91 761.4L200.91 761.4L186.14 761.4z" clip-path="url(#p43a8c2af4f)" style="fill: #ff00ff"/></g><g id="patch_73"><path d="M202.55 761.4L217.31 761.4L217.31 761.4L202.55 761.4z" clip-path="url(#p43a8c2af4f)" style="fill: #ff00ff"/></g><g id="patch_74"><path d="M218.95 761.4L233.72 761.4L233.72 761.4L218.95 761.4z" clip-path="url(#p43a8c2af4f)" style="fill: #ff00ff"/></g><g id="patch_75"><path d="M235.36 761.4L250.13 761.4L250.13 761.4L235.36 761.4z" clip-path="url(#p43a8c2af4f)" style="fill: #ff00ff"/></g><g id="patch_76"><path d="M251.77 761.4L266.53 761.4L266.53 761.4L251.77 761.4z" clip-path="url(#p43a8c2af4f)" style="fill: #ff00ff"/></g><g id="patch_77"><path d="M268.17 761.4L282.94 761.4L282.94 761.4L268.17 761.4z" clip-path="url(#p43a8c2af4f)" style="fill: #ff00ff"/></g><g id="patch_78"><path d="M284.58 761.4L299.34 761.4L299.34 761.4L284.58 761.4z" clip-path="url(#p43a8c2af4f)" style="fill: #ff00ff"/></g><g id="patch_79"><path d="M300.98 761.4L315.75 761.4L315.75 761.4L300.98 761.4z" clip-path="url(#p43a8c2af4f)" style="fill: #ff00ff"/></g><g id="patch_80"><path d="M317.39 761.4L332.15 761.4L332.15 761.4L317.39 761.4z" clip-path="url(#p43a8c2af4f)" style="fill: #ff00ff"/></g><g id="patch_81"><path d="M333.79 761.4L348.56 761.4L348.56 761.4L333.79 761.4z" clip-path="url(#p43a8c2af4f)" style="fill: #ff00ff"/></g><g id="patch_82"><path d="M350.2 761.4L364.97 761.4L364.97 761.4L350.2 761.4z" clip-path="url(#p43a8c2af4f)" style="fill: #ff00ff"/></g><g id="patch_83"><path d="M366.61 761.4L381.37 761.4L381.37 761.4L366.61 761.4z" clip-path="url(#p43a8c2af4f)" style="fill: #ff00ff"/></g><g id="patch_84"><path d="M383.01 761.4L397.78 761.4L397.78 761.4L383.01 761.4z" clip-path="url(#p43a8c2af4f)" style="fill: #ff00ff"/></g><g id="patch_85"><path d="M399.42 761.4L414.18 761.4L414.18 761.4L399.42 761.4z" clip-path="url(#p43a8c2af4f)" style="fill: #ff00ff"/></g><g id="patch_86"><path d="M415.82 761.4L430.59 761.4L430.59 761.4L415.82 761.4z" clip-path="url(#p43a8c2af4f)" style="fill: #ff00ff"/></g><g id="patch_87"><path d="M432.23 761.4L446.99 761.4L446.99 761.4L432.23 761.4z" clip-path="url(#p43a8c2af4f)" style="fill: #ff00ff"/></g><g id="patch_88"><path d="M448.63 761.4L463.4 761.4L463.4 761.4L448.63 761.4z" clip-path="url(#p43a8c2af4f)" style="fill: #ff00ff"/></g><g id="patch_89"><path d="M465.04 761.4L479.81 761.4L479.81 761.4L465.04 761.4z" clip-path="url(#p43a8c2af4f)" style="fill: #ff00ff"/></g><g id="patch_90"><path d="M481.45 761.4L496.21 761.4L496.21 761.4L481.45 761.4z" clip-path="url(#p43a8c2af4f)" style="fill: #ff00ff"/></g><g id="patch_91"><path d="M497.85 761.4L512.62 761.4L512.62 761.4L497.85 761.4z" clip-path="url(#p43a8c2af4f)" style="fill: #ff00ff"/></g><g id="patch_92"><path d="M514.26 761.4L529.02 761.4L529.02 761.4L514.26 761.4z" clip-path="url(#p43a8c2af4f)" style="fill: #ff00ff"/></g><g id="patch_93"><path d="M530.66 761.4L545.43 761.4L545.43 761.4L530.66 761.4z" clip-path="url(#p43a8c2af4f)" style="fill: #ff00ff"/></g><g id="patch_94"><path d="M547.07 761.4L561.83 761.4L561.83 761.4L547.07 761.4z" clip-path="url(#p43a8c2af4f)" style="fill: #ff00ff"/></g><g id="patch_95"><path d="M563.47 761.4L578.24 761.4L578.24 761.4L563.47 761.4z" clip-path="url(#p43a8c2af4f)" style="fill: #ff00ff"/></g><g id="patch_96"><path d="M579.88 761.4L594.65 761.4L594.65 761.4L579.88 761.4z" clip-path="url(#p43a8c2af4f)" style="fill: #ff00ff"/></g><g id="patch_97"><path d="M596.29 761.4L611.05 761.4L611.05 761.4L596.29 761.4z" clip-path="url(#p43a8c2af4f)" style="fill: #ff00ff"/></g><g id="patch_98"><path d="M612.69 761.4L627.46 761.4L627.46 761.4L612.69 761.4z" clip-path="url(#p43a8c2af4f)" style="fill: #ff00ff"/></g><g id="patch_99"><path d="M629.1 761.4L643.86 761.4L643.86 761.4L629.1 761.4z" clip-path="url(#p43a8c2af4f)" style="fill: #ff00ff"/></g><g id="patch_100"><path d="M645.5 761.4L660.27 761.4L660.27 761.4L645.5 761.4z" clip-path="url(#p43a8c2af4f)" style="fill: #ff00ff"/></g><g id="patch_101"><path d="M661.91 761.4L676.67 761.4L676.67 761.4L661.91 761.4z" clip-path="url(#p43a8c2af4f)" style="fill: #ff00ff"/></g><g id="patch_102"><path d="M678.31 761.4L693.08 761.4L693.08 761.4L678.31 761.4z" clip-path="url(#p43a8c2af4f)" style="fill: #ff00ff"/></g><g id="patch_103"><path d="M694.72 761.4L709.49 761.4L709.49 761.4L694.72 761.4z" clip-path="url(#p43a8c2af4f)" style="fill: #ff00ff"/></g><g id="patch_104"><path d="M711.13 761.4L725.89 761.4L725.89 761.4L711.13 761.4z" clip-path="url(#p43a8c2af4f)" style="fill: #ff00ff"/></g><g id="patch_105"><path d="M727.53 761.4L742.3 761.4L742.3 761.4L727.53 761.4z" clip-path="url(#p43a8c2af4f)" style="fill: #ff00ff"/></g><g id="matplotlib.axis_9"><g id="xtick_45"><g id="line2d_123"><g><use xlink:href="#m1504cfccaf" x="144.308571" y="761.4" style="stroke: #000000; stroke-width: 0.8"/></g></g><g id="text_114"><text style="font-size: 10px; font-family: 'DejaVu Sans', sans-serif; text-anchor: middle" x="144.308571" y="775.498438" transform="rotate(-0 144.308571 775.498438)">00 UTC</text></g></g><g id="xtick_46"><g id="line2d_124"><g><use xlink:href="#m1504cfccaf" x="275.554286" y="761.4" style="stroke: #000000; stroke-width: 0.8"/></g></g><g id="text_115"><text style="font-size: 10px; font-family: 'DejaVu Sans', sans-serif; text-anchor: middle" x="275.554286" y="775.498438" transform="rotate(-0 275.554286 775.498438)">00 UTC</text></g></g><g id="xtick_47"><g id="line2d_125"><g><use xlink:href="#m1504cfccaf" x="406.8" y="761.4" style="stroke: #000000; stroke-width: 0.8"/></g></g><g id="text_116"><text style="font-size: 10px; font-family: 'DejaVu Sans', sans-serif; text-anchor: middle" x="406.8" y="775.498438" transform="rotate(-0 406.8 775.498438)">00 UTC</text></g></g><g id="xtick_48"><g id="line2d_126"><g><use xlink:href="#m1504cfccaf" x="538.045714" y="761.4" style="stroke: #000000; stroke-width: 0.8"/></g></g><g id="text_117"><text style="font-size: 10px; font-family: 'DejaVu Sans', sans-serif; text-anchor: middle" x="538.045714" y="775.498438" transform="rotate(-0 538.045714 775.498438)">00 UTC</text></g></g><g id="xtick_49"><g id="line2d_127"><g><use xlink:href="#m1504cfccaf" x="669.291429" y="761.4" style="stroke: #000000; stroke-width: 0.8"/></g></g><g id="text_118"><text style="font-size: 10px; font-family: 'DejaVu Sans', sans-serif; text-anchor: middle" x="669.291429" y="775.498438" transform="rotate(-0 669.291429 775.498438)">00 UTC</text></g></g><g id="xtick_50"><g id="line2d_128"><g><use xlink:href="#m05db3bdf9b" x="78.685714" y="761.4" style="stroke: #000000; stroke-width: 0.6"/></g></g><g id="text_119"><text style="font-size: 10px; font-family: 'DejaVu Sans', sans-serif; text-anchor: middle" x="78.685714" y="773.248438" transform="rotate(-0 78.685714 773.248438)">12 UTC</text></g></g><g id="xtick_51"><g id="line2d_129"><g><use xlink:href="#m05db3bdf9b" x="209.931429" y="761.4" style="stroke: #000000; stroke-width: 0.6"/></g></g><g id="text_120"><text style="font-size: 10px; font-family: 'DejaVu Sans', sans-serif; text-anchor: middle" x="209.931429" y="773.248438" transform="rotate(-0 209.931429 773.248438)">12 UTC</text></g></g><g id="xtick_52"><g id="line2d_130"><g><use xlink:href="#m05db3bdf9b" x="341.177143" y="761.4" style="stroke: #000000; stroke-width: 0.6"/></g></g><g id="text_121"><text style="font-size: 10px; font-family: 'DejaVu Sans', sans-serif; text-anchor: middle" x="341.177143" y="773.248438" transform="rotate(-0 341.177143 773.248438)">12 UTC</text></g></g><g id="xtick_53"><g id="line2d_131"><g><use xlink:href="#m05db3bdf9b" x="472.422857" y="761.4" style="stroke: #000000; stroke-width: 0.6"/></g></g><g id="text_122"><text style="font-size: 10px; font-family: 'DejaVu Sans', sans-serif; text-anchor: middle" x="472.422857" y="773.248438" transform="rotate(-0 472.422857 773.248438)">12 UTC</text></g></g><g id="xtick_54"><g id="line2d_132"><g><use xlink:href="#m05db3bdf9b" x="603.668571" y="761.4" style="stroke: #000000; stroke-width: 0.6"/></g></g><g id="text_123"><text style="font-size: 10px; font-family: 'DejaVu Sans', sans-serif; text-anchor: middle" x="603.668571" y="773.248438" transform="rotate(-0 603.668571 773.248438)">12 UTC</text></g></g><g id="xtick_55"><g id="line2d_133"><g><use xlink:href="#m05db3bdf9b" x="734.914286" y="761.4" style="stroke: #000000; stroke-width: 0.6"/></g></g><g id="text_124"><text style="font-size: 10px; font-family: 'DejaVu Sans', sans-serif; text-anchor: middle" x="734.914286" y="773.248438" transform="rotate(-0 734.914286 773.248438)">12 UTC</text></g></g></g><g id="matplotlib.axis_10"><g id="ytick_16"><g id="line2d_134"><path d="M62.28 761.4L751.32 761.4" clip-path="url(#p43a8c2af4f)" style="fill: none; stroke: #b0b0b0; stroke-width: 0.8; stroke-linecap: square"/></g><g id="line2d_135"><g><use xlink:href="#m5d545ce8f8" x="62.28" y="761.4" style="stroke: #000000; stroke-width: 0.8"/></g></g><g id="text_125"><text style="font-size: 10px; font-family: 'DejaVu Sans', sans-serif; text-anchor: end" x="54.58" y="765.199219" transform="rotate(-0 54.58 765.199219)">0</text></g></g><g id="ytick_17"><g id="line2d_136"><path d="M62.28 742.14L751.32 742.14" clip-path="url(#p43a8c2af4f)" style="fill: none; stroke: #b0b0b0; stroke-width: 0.8; stroke-linecap: square"/></g><g id="line2d_137"><g><use xlink:href="#m5d545ce8f8" x="62.28" y="742.14" style="stroke: #000000; stroke-width: 0.8"/></g></g><g id="text_126"><text style="font-size: 10px; font-family: 'DejaVu Sans', sans-serif; text-anchor: end" x="54.58" y="745.939219" transform="rotate(-0 54.58 745.939219)">1</text></g></g><g id="ytick_18"><g id="line2d_138"><path d="M62.28 722.88L751.32 722.88" clip-path="url(#p43a8c2af4f)" style="fill: none; stroke: #b0b0b0; stroke-width: 0.8; stroke-linecap: square"/></g><g id="line2d_139"><g><use xlink:href="#m5d545ce8f8" x="62.28" y="722.88" style="stroke: #000000; stroke-width: 0.8"/></g></g><g id="text_127"><text style="font-size: 10px; font-family: 'DejaVu Sans', sans-serif; text-anchor: end" x="54.58" y="726.679219" transform="rotate(-0 54.58 726.679219)">2</text></g></g><g id="ytick_19"><g id="line2d_140"><path d="M62.28 703.62L751.32 703.62" clip-path="url(#p43a8c2af4f)" style="fill: none; stroke: #b0b0b0; stroke-width: 0.8; stroke-linecap: square"/></g><g id="line2d_141"><g><use xlink:href="#m5d545ce8f8" x="62.28" y="703.62" style="stroke: #000000; stroke-width: 0.8"/></g></g><g id="text_128"><text style="font-size: 10px; font-family: 'DejaVu Sans', sans-serif; text-anchor: end" x="54.58" y="707.419219" transform="rotate(-0 54.58 707.419219)">3</text></g></g><g id="ytick_20"><g id="line2d_142"><path d="M62.28 684.36L751.32 684.36" clip-path="url(#p43a8c2af4f)" style="fill: none; stroke: #b0b0b0; stroke-width: 0.8; stroke-linecap: square"/></g><g id="line2d_143"><g><use xlink:href="#m5d545ce8f8" x="62.28" y="684.36" style="stroke: #000000; stroke-width: 0.8"/></g></g><g id="text_129"><text style="font-size: 10px; font-family: 'DejaVu Sans', sans-serif; text-anchor: end" x="54.58" y="688.159219" transform="rotate(-0 54.58 688.159219)">4</text></g></g><g id="text_130"><text style="font-size: 10px; font-family: 'DejaVu Sans', sans-serif; text-anchor: middle" x="42.137812" y="723.312" transform="rotate(-90 42.137812 723.312)">precipitation [mm/h]</text></g></g><g id="line2d_144"><path d="M144.31 761.4L144.31 684.36" clip-path="url(#p43a8c2af4f)" style="fill: none; stroke-dasharray: 1.85,0.8; stroke-dashoffset: 0; stroke: #808080; stroke-width: 0.5"/></g><g id="line2d_145"><path d="M275.55 761.4L275.55 684.36" clip-path="url(#p43a8c2af4f)" style="fill: none; stroke-dasharray: 1.85,0.8; stroke-dashoffset: 0; stroke: #808080; stroke-width: 0.5"/></g><g id="line2d_146"><path d="M406.8 761.4L406.8 684.36" clip-path="url(#p43a8c2af4f)" style="fill: none; stroke-dasharray: 1.85,0.8; stroke-dashoffset: 0; stroke: #808080; stroke-width: 0.5"/></g><g id="line2d_147"><path d="M538.05 761.4L538.05 684.36" clip-path="url(#p43a8c2af4f)" style="fill: none; stroke-dasharray: 1.85,0.8; stroke-dashoffset: 0; stroke: #808080; stroke-width: 0.5"/></g><g id="line2d_148"><path d="M669.29 761.4L669.29 684.36" clip-path="url(#p43a8c2af4f)" style="fill: none; stroke-dasharray: 1.85,0.8; stroke-dashoffset: 0; stroke: #808080; stroke-width: 0.5"/></g><g id="patch_106"><path d="M62.28 761.4L62.28 684.36" style="fill: none; stroke: #000000; stroke-width: 0.8; stroke-linejoin: miter; stroke-linecap: square"/></g><g id="patch_107"><path d="M751.32 761.4L751.32 684.36" style="fill: none; stroke: #000000; stroke-width: 0.8; stroke-linejoin: miter; stroke-linecap: square"/></g><g id="patch_108"><path d="M62.28 761.4L751.32 761.4" style="fill: none; stroke: #000000; stroke-width: 0.8; stroke-linejoin: miter; stroke-linecap: square"/></g><g id="patch_109"><path d="M62.28 684.36L751.32 684.36" style="fill: none; stroke: #000000; stroke-width: 0.8; stroke-linejoin: miter; stroke-linecap: square"/></g><g id="text_131"><text style="font-size: 10px; font-family: 'DejaVu Sans', sans-serif; text-anchor: middle" x="111.497143" y="786.298438" transform="rotate(-0 111.497143 786.298438)">Fri 7 Nov</text></g><g id="text_132"><text style="font-size: 10px; font-family: 'DejaVu Sans', sans-serif; text-anchor: middle" x="209.931429" y="786.298438" transform="rotate(-0 209.931429 786.298438)">Sat 8 Nov</text></g><g id="text_133"><text style="font-size: 10px; font-family: 'DejaVu Sans', sans-serif; text-anchor: middle" x="341.177143" y="786.298438" transform="rotate(-0 341.177143 786.298438)">Sun 9 Nov</text></g><g id="text_134"><text style="font-size: 10px; font-family: 'DejaVu Sans', sans-serif; text-anchor: middle" x="472.422857" y="786.298438" transform="rotate(-0 472.422857 786.298438)">Mon 10 Nov</text></g><g id="text_135"><text style="font-size: 10px; font-family: 'DejaVu Sans', sans-serif; text-anchor: middle" x="603.668571" y="786.298438" transform="rotate(-0 603.668571 786.298438)">Tue 11 Nov</text></g><g id="text_136"><text style="font-size: 10px; font-family: 'DejaVu Sans', sans-serif; text-anchor: middle" x="702.102857" y="786.298438" transform="rotate(-0 702.102857 786.298438)">Wed 12 Nov</text></g><g id="legend_2"><g id="patch_110"><path d="M618.69 704.44L745.49 704.44 Q 747.15 704.44 747.15 702.78L747.15 690.55 Q 747.15 688.88 745.49 688.88L618.69 688.88 Q 617.02 688.88 617.02 690.55L617.02 702.78 Q 617.02 704.44 618.69 704.44z" style="fill: #ffffff; opacity: 0.8; stroke: #cccccc; stroke-linejoin: miter"/></g><g id="patch_111"><path d="M620.77 698.96L637.43 698.96L637.43 693.13L620.77 693.13z" style="fill: #00bfbf"/></g><g id="text_137"><text style="font-size: 8.33px; font-family: 'DejaVu Sans', sans-serif; text-anchor: start" x="644.093377" y="698.962998" transform="rotate(-0 644.093377 698.962998)">tot. prec.</text></g><g id="patch_112"><path d="M698.55 698.96L715.21 698.96L715.21 693.13L698.55 693.13z" style="fill: #ff00ff"/></g><g id="text_138"><text style="font-size: 8.33px; font-family: 'DejaVu Sans', sans-serif; text-anchor: start" x="721.878656" y="698.962998" transform="rotate(-0 721.878656 698.962998)">snow</text></g></g></g><g id="axes_6"><g id="patch_113"><path d="M757.08 301.32L788.04 301.32L788.04 40.68L757.08 40.68z" style="fill: #ffffff"/></g><g id="QuadMesh_1"><path d="M757.08 301.32L788.04 301.32L788.04 268.74L757.08 268.74L757.08 301.32" clip-path="url(#p7bbf53f812)" style="fill: #528ab9; stroke: #528ab9; stroke-width: 0.4"/><path d="M757.08 268.74L788.04 268.74L788.04 236.16L757.08 236.16L757.08 268.74" clip-path="url(#p7bbf53f812)" style="fill: #699ac2; stroke: #699ac2; stroke-width: 0.4"/><path d="M757.08 236.16L788.04 236.16L788.04 203.58L757.08 203.58L757.08 236.16" clip-path="url(#p7bbf53f812)" style="fill: #80a9cc; stroke: #80a9cc; stroke-width: 0.4"/><path d="M757.08 203.58L788.04 203.58L788.04 171L757.08 171L757.08 203.58" clip-path="url(#p7bbf53f812)" style="fill: #97b9d5; stroke: #97b9d5; stroke-width: 0.4"/><path d="M757.08 171L788.04 171L788.04 138.42L757.08 138.42L757.08 171" clip-path="url(#p7bbf53f812)" style="fill: #aec9de; stroke: #aec9de; stroke-width: 0.4"/><path d="M757.08 138.42L788.04 138.42L788.04 105.84L757.08 105.84L757.08 138.42" clip-path="url(#p7bbf53f812)" style="fill: #c6d8e8; stroke: #c6d8e8; stroke-width: 0.4"/><path d="M757.08 105.84L788.04 105.84L788.04 73.26L757.08 73.26L757.08 105.84" clip-path="url(#p7bbf53f812)" style="fill: #dde8f1; stroke: #dde8f1; stroke-width: 0.4"/><path d="M757.08 73.26L788.04 73.26L788.04 40.68L757.08 40.68L757.08 73.26" clip-path="url(#p7bbf53f812)" style="fill: #f4f8fb; stroke: #f4f8fb; stroke-width: 0.4"/></g><g id="matplotlib.axis_11"/><g id="matplotlib.axis_12"><g id="ytick_21"><g id="line2d_149"><defs><path id="m33c4ce201d" d="M0 0L3.5 0" style="stroke: #000000; stroke-width: 0.8"/></defs><g><use xlink:href="#m33c4ce201d" x="788.04" y="301.32" style="stroke: #000000; stroke-width: 0.8"/></g></g><g id="text_139"><text style="font-size: 10px; font-family: 'DejaVu Sans', sans-serif; text-anchor: start" x="794.34" y="305.119219" transform="rotate(-0 794.34 305.119219)">0/8</text></g></g><g id="ytick_22"><g id="line2d_150"><g><use xlink:href="#m33c4ce201d" x="788.04" y="268.74" style="stroke: #000000; stroke-width: 0.8"/></g></g><g id="text_140"><text style="font-size: 10px; font-family: 'DejaVu Sans', sans-serif; text-anchor: start" x="794.34" y="272.539219" transform="rotate(-0 794.34 272.539219)">1/8</text></g></g><g id="ytick_23"><g id="line2d_151"><g><use xlink:href="#m33c4ce201d" x="788.04" y="236.16" style="stroke: #000000; stroke-width: 0.8"/></g></g><g id="text_141"><text style="font-size: 10px; font-family: 'DejaVu Sans', sans-serif; text-anchor: start" x="794.34" y="239.959219" transform="rotate(-0 794.34 239.959219)">2/8</text></g></g><g id="ytick_24"><g id="line2d_152"><g><use xlink:href="#m33c4ce201d" x="788.04" y="203.58" style="stroke: #000000; stroke-width: 0.8"/></g></g><g id="text_142"><text style="font-size: 10px; font-family: 'DejaVu Sans', sans-serif; text-anchor: start" x="794.34" y="207.379219" transform="rotate(-0 794.34 207.379219)">3/8</text></g></g><g id="ytick_25"><g id="line2d_153"><g><use xlink:href="#m33c4ce201d" x="788.04" y="171" style="stroke: #000000; stroke-width: 0.8"/></g></g><g id="text_143"><text style="font-size: 10px; font-family: 'DejaVu Sans', sans-serif; text-anchor: start" x="794.34" y="174.799219" transform="rotate(-0 794.34 174.799219)">4/8</text></g></g><g id="ytick_26"><g id="line2d_154"><g><use xlink:href="#m33c4ce201d" x="788.04" y="138.42" style="stroke: #000000; stroke-width: 0.8"/></g></g><g id="text_144"><text style="font-size: 10px; font-family: 'DejaVu Sans', sans-serif; text-anchor: start" x="794.34" y="142.219219" transform="rotate(-0 794.34 142.219219)">5/8</text></g></g><g id="ytick_27"><g id="line2d_155"><g><use xlink:href="#m33c4ce201d" x="788.04" y="105.84" style="stroke: #000000; stroke-width: 0.8"/></g></g><g id="text_145"><text style="font-size: 10px; font-family: 'DejaVu Sans', sans-serif; text-anchor: start" x="794.34" y="109.639219" transform="rotate(-0 794.34 109.639219)">6/8</text></g></g><g id="ytick_28"><g id="line2d_156"><g><use xlink:href="#m33c4ce201d" x="788.04" y="73.26" style="stroke: #000000; stroke-width: 0.8"/></g></g><g id="text_146"><text style="font-size: 10px; font-family: 'DejaVu Sans', sans-serif; text-anchor: start" x="794.34" y="77.059219" transform="rotate(-0 794.34 77.059219)">7/8</text></g></g><g id="ytick_29"><g id="line2d_157"><g><use xlink:href="#m33c4ce201d" x="788.04" y="40.68" style="stroke: #000000; stroke-width: 0.8"/></g></g><g id="text_147"><text style="font-size: 10px; font-family: 'DejaVu Sans', sans-serif; text-anchor: start" x="794.34" y="44.479219" transform="rotate(-0 794.34 44.479219)">8/8</text></g></g><g id="text_148"><text style="font-size: 10px; font-family: 'DejaVu Sans', sans-serif; text-anchor: middle" x="821.632188" y="171" transform="rotate(-90 821.632188 171)">cloud cover</text></g></g><g id="LineCollection_1"/><g id="patch_114"><path d="M757.08 301.32L772.56 301.32L788.04 301.32L788.04 40.68L772.56 40.68L757.08 40.68L757.08 301.32z" style="fill: none; stroke: #000000; stroke-width: 0.8; stroke-linejoin: miter; stroke-linecap: square"/></g></g><g id="text_149"><text style="font-size: 17.45px; font-family: 'DejaVu Sans', sans-serif; text-anchor: start" x="79.056" y="20.952" transform="rotate(-0 79.056 20.952)">MIM Forecast (ICON-EU)</text></g><g id="text_150"><text style="font-size: 8.33px; font-family: 'DejaVu Sans', sans-serif; text-anchor: start" x="80.28" y="32.184" transform="rotate(-0 80.28 32.184)">Meteogram @11.57549, 48.13743</text></g><g id="text_151"><text style="font-size: 8.33px; font-family: 'DejaVu Sans', sans-serif; text-anchor: end" x="730.944" y="19.944" transform="rotate(-0 730.944 19.944)">18:53, November 07 2025</text></g><g id="text_152"><!-- ICON-EU, 2025-11-07 12 UTC, $\Delta x = 6.5$ km --><g transform="translate(555.8868 33.48)"><text><tspan x="0.00 2.47 8.32 14.91 21.17 24.20 29.49 35.62 38.28 40.94 46.27 51.60 56.93 62.26 65.28 70.61 75.94 78.96 84.29 89.61 92.28 97.60 102.93 105.60 111.60 116.72 122.56 125.23 127.89 140.21 148.85 154.18 156.84 162.17 164.84 169.69" y="-0.921875" style="font-size: 8.33px; font-family: 'DejaVu Sans', sans-serif; white-space: pre">ICON-EU, 2025-11-07 12 UTC, Δ=6.5 km</tspan><tspan x="133.62" y="-0.921875" style="font-style: oblique; font-size: 8.33px; font-family: 'DejaVu Sans', sans-serif; white-space: pre">x</tspan></text></g></g></g><defs><clipPath id="p9851077e19"><rect x="62.28" y="40.68" width="689.04" height="260.64"/></clipPath><clipPath id="p233d145e39"><rect x="62.28" y="316.44" width="689.04" height="168.48"/></clipPath><clipPath id="p7b28e05b98"><rect x="62.28" y="500.04" width="689.04" height="77.04"/></clipPath><clipPath id="p219854655d"><rect x="62.28" y="592.2" width="689.04" height="77.04"/></clipPath><clipPath id="p43a8c2af4f"><rect x="62.28" y="684.36" width="689.04" height="77.04"/></clipPath><clipPath id="p7bbf53f812"><rect x="757.08" y="40.68" width="30.96" height="260.64"/></clipPath></defs></svg>
</body></html>
